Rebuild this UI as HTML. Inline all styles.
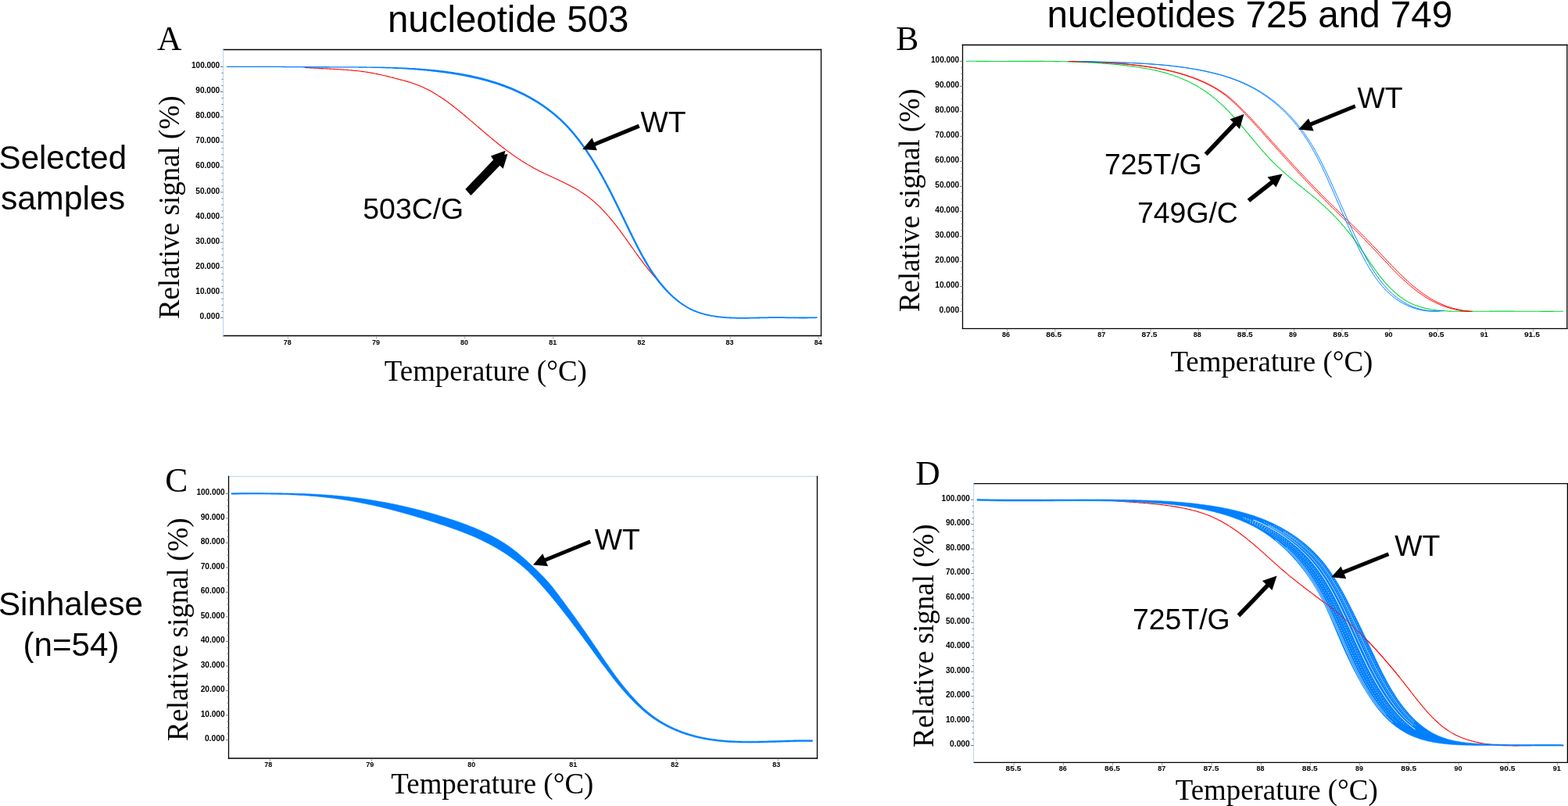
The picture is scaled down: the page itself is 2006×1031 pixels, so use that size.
<!DOCTYPE html>
<html><head><meta charset="utf-8"><title>Melting curves</title><style>html,body{margin:0;padding:0;background:#fff;overflow:hidden}svg{display:block}</style></head><body>
<svg width="2006" height="1031" viewBox="0 0 2006 1031">
<rect x="0" y="0" width="2006" height="1031" fill="#fff"/>
<line x1="285.5" y1="63.5" x2="1050.5" y2="63.5" stroke="#000" stroke-width="1.3" stroke-linecap="square"/>
<line x1="285.5" y1="429.5" x2="1050.5" y2="429.5" stroke="#000" stroke-width="1.3" stroke-linecap="square"/>
<line x1="285.5" y1="63.5" x2="285.5" y2="429.5" stroke="#bcd4ec" stroke-width="1.0" stroke-linecap="square"/>
<line x1="1050.5" y1="63.5" x2="1050.5" y2="429.5" stroke="#000" stroke-width="1.3" stroke-linecap="square"/>
<line x1="281.9" y1="406.4" x2="285.5" y2="406.4" stroke="#777" stroke-width="1"/>
<text x="281.2" y="408" font-family="'Liberation Sans', Arial, sans-serif" font-size="10.0" text-anchor="end" font-weight="bold" textLength="25.7" lengthAdjust="spacingAndGlyphs">0.000</text>
<line x1="283.5" y1="398.4" x2="285.5" y2="398.4" stroke="#777" stroke-width="1"/>
<line x1="283.5" y1="390.3" x2="285.5" y2="390.3" stroke="#777" stroke-width="1"/>
<line x1="283.5" y1="382.3" x2="285.5" y2="382.3" stroke="#777" stroke-width="1"/>
<line x1="281.9" y1="374.3" x2="285.5" y2="374.3" stroke="#777" stroke-width="1"/>
<text x="281.2" y="375.9" font-family="'Liberation Sans', Arial, sans-serif" font-size="10.0" text-anchor="end" font-weight="bold" textLength="30.9" lengthAdjust="spacingAndGlyphs">10.000</text>
<line x1="283.5" y1="366.3" x2="285.5" y2="366.3" stroke="#777" stroke-width="1"/>
<line x1="283.5" y1="358.2" x2="285.5" y2="358.2" stroke="#777" stroke-width="1"/>
<line x1="283.5" y1="350.2" x2="285.5" y2="350.2" stroke="#777" stroke-width="1"/>
<line x1="281.9" y1="342.2" x2="285.5" y2="342.2" stroke="#777" stroke-width="1"/>
<text x="281.2" y="343.8" font-family="'Liberation Sans', Arial, sans-serif" font-size="10.0" text-anchor="end" font-weight="bold" textLength="30.9" lengthAdjust="spacingAndGlyphs">20.000</text>
<line x1="283.5" y1="334.2" x2="285.5" y2="334.2" stroke="#777" stroke-width="1"/>
<line x1="283.5" y1="326.1" x2="285.5" y2="326.1" stroke="#777" stroke-width="1"/>
<line x1="283.5" y1="318.1" x2="285.5" y2="318.1" stroke="#777" stroke-width="1"/>
<line x1="281.9" y1="310.1" x2="285.5" y2="310.1" stroke="#777" stroke-width="1"/>
<text x="281.2" y="311.7" font-family="'Liberation Sans', Arial, sans-serif" font-size="10.0" text-anchor="end" font-weight="bold" textLength="30.9" lengthAdjust="spacingAndGlyphs">30.000</text>
<line x1="283.5" y1="302.1" x2="285.5" y2="302.1" stroke="#777" stroke-width="1"/>
<line x1="283.5" y1="294" x2="285.5" y2="294" stroke="#777" stroke-width="1"/>
<line x1="283.5" y1="286" x2="285.5" y2="286" stroke="#777" stroke-width="1"/>
<line x1="281.9" y1="278" x2="285.5" y2="278" stroke="#777" stroke-width="1"/>
<text x="281.2" y="279.6" font-family="'Liberation Sans', Arial, sans-serif" font-size="10.0" text-anchor="end" font-weight="bold" textLength="30.9" lengthAdjust="spacingAndGlyphs">40.000</text>
<line x1="283.5" y1="270" x2="285.5" y2="270" stroke="#777" stroke-width="1"/>
<line x1="283.5" y1="261.9" x2="285.5" y2="261.9" stroke="#777" stroke-width="1"/>
<line x1="283.5" y1="253.9" x2="285.5" y2="253.9" stroke="#777" stroke-width="1"/>
<line x1="281.9" y1="245.9" x2="285.5" y2="245.9" stroke="#777" stroke-width="1"/>
<text x="281.2" y="247.5" font-family="'Liberation Sans', Arial, sans-serif" font-size="10.0" text-anchor="end" font-weight="bold" textLength="30.9" lengthAdjust="spacingAndGlyphs">50.000</text>
<line x1="283.5" y1="237.9" x2="285.5" y2="237.9" stroke="#777" stroke-width="1"/>
<line x1="283.5" y1="229.8" x2="285.5" y2="229.8" stroke="#777" stroke-width="1"/>
<line x1="283.5" y1="221.8" x2="285.5" y2="221.8" stroke="#777" stroke-width="1"/>
<line x1="281.9" y1="213.8" x2="285.5" y2="213.8" stroke="#777" stroke-width="1"/>
<text x="281.2" y="215.4" font-family="'Liberation Sans', Arial, sans-serif" font-size="10.0" text-anchor="end" font-weight="bold" textLength="30.9" lengthAdjust="spacingAndGlyphs">60.000</text>
<line x1="283.5" y1="205.8" x2="285.5" y2="205.8" stroke="#777" stroke-width="1"/>
<line x1="283.5" y1="197.7" x2="285.5" y2="197.7" stroke="#777" stroke-width="1"/>
<line x1="283.5" y1="189.7" x2="285.5" y2="189.7" stroke="#777" stroke-width="1"/>
<line x1="281.9" y1="181.7" x2="285.5" y2="181.7" stroke="#777" stroke-width="1"/>
<text x="281.2" y="183.3" font-family="'Liberation Sans', Arial, sans-serif" font-size="10.0" text-anchor="end" font-weight="bold" textLength="30.9" lengthAdjust="spacingAndGlyphs">70.000</text>
<line x1="283.5" y1="173.7" x2="285.5" y2="173.7" stroke="#777" stroke-width="1"/>
<line x1="283.5" y1="165.6" x2="285.5" y2="165.6" stroke="#777" stroke-width="1"/>
<line x1="283.5" y1="157.6" x2="285.5" y2="157.6" stroke="#777" stroke-width="1"/>
<line x1="281.9" y1="149.6" x2="285.5" y2="149.6" stroke="#777" stroke-width="1"/>
<text x="281.2" y="151.2" font-family="'Liberation Sans', Arial, sans-serif" font-size="10.0" text-anchor="end" font-weight="bold" textLength="30.9" lengthAdjust="spacingAndGlyphs">80.000</text>
<line x1="283.5" y1="141.6" x2="285.5" y2="141.6" stroke="#777" stroke-width="1"/>
<line x1="283.5" y1="133.5" x2="285.5" y2="133.5" stroke="#777" stroke-width="1"/>
<line x1="283.5" y1="125.5" x2="285.5" y2="125.5" stroke="#777" stroke-width="1"/>
<line x1="281.9" y1="117.5" x2="285.5" y2="117.5" stroke="#777" stroke-width="1"/>
<text x="281.2" y="119.1" font-family="'Liberation Sans', Arial, sans-serif" font-size="10.0" text-anchor="end" font-weight="bold" textLength="30.9" lengthAdjust="spacingAndGlyphs">90.000</text>
<line x1="283.5" y1="109.5" x2="285.5" y2="109.5" stroke="#777" stroke-width="1"/>
<line x1="283.5" y1="101.4" x2="285.5" y2="101.4" stroke="#777" stroke-width="1"/>
<line x1="283.5" y1="93.4" x2="285.5" y2="93.4" stroke="#777" stroke-width="1"/>
<line x1="281.9" y1="85.4" x2="285.5" y2="85.4" stroke="#777" stroke-width="1"/>
<text x="281.2" y="87" font-family="'Liberation Sans', Arial, sans-serif" font-size="10.0" text-anchor="end" font-weight="bold" textLength="36.2" lengthAdjust="spacingAndGlyphs">100.000</text>
<line x1="368.3" y1="430.2" x2="368.3" y2="433.5" stroke="#8fa8c0" stroke-width="1"/>
<text x="367.7" y="441" font-family="'Liberation Sans', Arial, sans-serif" font-size="9.6" text-anchor="middle" font-weight="bold" textLength="10" lengthAdjust="spacingAndGlyphs">78</text>
<line x1="481.5" y1="430.2" x2="481.5" y2="433.5" stroke="#8fa8c0" stroke-width="1"/>
<text x="480.9" y="441" font-family="'Liberation Sans', Arial, sans-serif" font-size="9.6" text-anchor="middle" font-weight="bold" textLength="10" lengthAdjust="spacingAndGlyphs">79</text>
<line x1="594.7" y1="430.2" x2="594.7" y2="433.5" stroke="#8fa8c0" stroke-width="1"/>
<text x="594.1" y="441" font-family="'Liberation Sans', Arial, sans-serif" font-size="9.6" text-anchor="middle" font-weight="bold" textLength="10" lengthAdjust="spacingAndGlyphs">80</text>
<line x1="707.8" y1="430.2" x2="707.8" y2="433.5" stroke="#8fa8c0" stroke-width="1"/>
<text x="707.2" y="441" font-family="'Liberation Sans', Arial, sans-serif" font-size="9.6" text-anchor="middle" font-weight="bold" textLength="10" lengthAdjust="spacingAndGlyphs">81</text>
<line x1="821" y1="430.2" x2="821" y2="433.5" stroke="#8fa8c0" stroke-width="1"/>
<text x="820.4" y="441" font-family="'Liberation Sans', Arial, sans-serif" font-size="9.6" text-anchor="middle" font-weight="bold" textLength="10" lengthAdjust="spacingAndGlyphs">82</text>
<line x1="934.2" y1="430.2" x2="934.2" y2="433.5" stroke="#8fa8c0" stroke-width="1"/>
<text x="933.6" y="441" font-family="'Liberation Sans', Arial, sans-serif" font-size="9.6" text-anchor="middle" font-weight="bold" textLength="10" lengthAdjust="spacingAndGlyphs">83</text>
<line x1="1047.4" y1="430.2" x2="1047.4" y2="433.5" stroke="#8fa8c0" stroke-width="1"/>
<text x="1046.8" y="441" font-family="'Liberation Sans', Arial, sans-serif" font-size="9.6" text-anchor="middle" font-weight="bold" textLength="10" lengthAdjust="spacingAndGlyphs">84</text>
<line x1="1231.5" y1="57.5" x2="2004.8" y2="57.5" stroke="#000" stroke-width="1.3" stroke-linecap="square"/>
<line x1="1231.5" y1="420.3" x2="2004.8" y2="420.3" stroke="#000" stroke-width="1.3" stroke-linecap="square"/>
<line x1="1231.5" y1="57.5" x2="1231.5" y2="420.3" stroke="#000" stroke-width="1.3" stroke-linecap="square"/>
<line x1="2004.8" y1="57.5" x2="2004.8" y2="420.3" stroke="#000" stroke-width="1.3" stroke-linecap="square"/>
<line x1="1227.9" y1="398.4" x2="1231.5" y2="398.4" stroke="#777" stroke-width="1"/>
<text x="1227.2" y="400" font-family="'Liberation Sans', Arial, sans-serif" font-size="10.0" text-anchor="end" font-weight="bold" textLength="25.7" lengthAdjust="spacingAndGlyphs">0.000</text>
<line x1="1229.5" y1="390.4" x2="1231.5" y2="390.4" stroke="#777" stroke-width="1"/>
<line x1="1229.5" y1="382.4" x2="1231.5" y2="382.4" stroke="#777" stroke-width="1"/>
<line x1="1229.5" y1="374.4" x2="1231.5" y2="374.4" stroke="#777" stroke-width="1"/>
<line x1="1227.9" y1="366.4" x2="1231.5" y2="366.4" stroke="#777" stroke-width="1"/>
<text x="1227.2" y="368" font-family="'Liberation Sans', Arial, sans-serif" font-size="10.0" text-anchor="end" font-weight="bold" textLength="30.9" lengthAdjust="spacingAndGlyphs">10.000</text>
<line x1="1229.5" y1="358.4" x2="1231.5" y2="358.4" stroke="#777" stroke-width="1"/>
<line x1="1229.5" y1="350.4" x2="1231.5" y2="350.4" stroke="#777" stroke-width="1"/>
<line x1="1229.5" y1="342.4" x2="1231.5" y2="342.4" stroke="#777" stroke-width="1"/>
<line x1="1227.9" y1="334.4" x2="1231.5" y2="334.4" stroke="#777" stroke-width="1"/>
<text x="1227.2" y="336" font-family="'Liberation Sans', Arial, sans-serif" font-size="10.0" text-anchor="end" font-weight="bold" textLength="30.9" lengthAdjust="spacingAndGlyphs">20.000</text>
<line x1="1229.5" y1="326.4" x2="1231.5" y2="326.4" stroke="#777" stroke-width="1"/>
<line x1="1229.5" y1="318.4" x2="1231.5" y2="318.4" stroke="#777" stroke-width="1"/>
<line x1="1229.5" y1="310.4" x2="1231.5" y2="310.4" stroke="#777" stroke-width="1"/>
<line x1="1227.9" y1="302.4" x2="1231.5" y2="302.4" stroke="#777" stroke-width="1"/>
<text x="1227.2" y="304" font-family="'Liberation Sans', Arial, sans-serif" font-size="10.0" text-anchor="end" font-weight="bold" textLength="30.9" lengthAdjust="spacingAndGlyphs">30.000</text>
<line x1="1229.5" y1="294.4" x2="1231.5" y2="294.4" stroke="#777" stroke-width="1"/>
<line x1="1229.5" y1="286.4" x2="1231.5" y2="286.4" stroke="#777" stroke-width="1"/>
<line x1="1229.5" y1="278.4" x2="1231.5" y2="278.4" stroke="#777" stroke-width="1"/>
<line x1="1227.9" y1="270.4" x2="1231.5" y2="270.4" stroke="#777" stroke-width="1"/>
<text x="1227.2" y="272" font-family="'Liberation Sans', Arial, sans-serif" font-size="10.0" text-anchor="end" font-weight="bold" textLength="30.9" lengthAdjust="spacingAndGlyphs">40.000</text>
<line x1="1229.5" y1="262.4" x2="1231.5" y2="262.4" stroke="#777" stroke-width="1"/>
<line x1="1229.5" y1="254.4" x2="1231.5" y2="254.4" stroke="#777" stroke-width="1"/>
<line x1="1229.5" y1="246.4" x2="1231.5" y2="246.4" stroke="#777" stroke-width="1"/>
<line x1="1227.9" y1="238.4" x2="1231.5" y2="238.4" stroke="#777" stroke-width="1"/>
<text x="1227.2" y="240" font-family="'Liberation Sans', Arial, sans-serif" font-size="10.0" text-anchor="end" font-weight="bold" textLength="30.9" lengthAdjust="spacingAndGlyphs">50.000</text>
<line x1="1229.5" y1="230.4" x2="1231.5" y2="230.4" stroke="#777" stroke-width="1"/>
<line x1="1229.5" y1="222.4" x2="1231.5" y2="222.4" stroke="#777" stroke-width="1"/>
<line x1="1229.5" y1="214.4" x2="1231.5" y2="214.4" stroke="#777" stroke-width="1"/>
<line x1="1227.9" y1="206.4" x2="1231.5" y2="206.4" stroke="#777" stroke-width="1"/>
<text x="1227.2" y="208" font-family="'Liberation Sans', Arial, sans-serif" font-size="10.0" text-anchor="end" font-weight="bold" textLength="30.9" lengthAdjust="spacingAndGlyphs">60.000</text>
<line x1="1229.5" y1="198.4" x2="1231.5" y2="198.4" stroke="#777" stroke-width="1"/>
<line x1="1229.5" y1="190.4" x2="1231.5" y2="190.4" stroke="#777" stroke-width="1"/>
<line x1="1229.5" y1="182.4" x2="1231.5" y2="182.4" stroke="#777" stroke-width="1"/>
<line x1="1227.9" y1="174.4" x2="1231.5" y2="174.4" stroke="#777" stroke-width="1"/>
<text x="1227.2" y="176" font-family="'Liberation Sans', Arial, sans-serif" font-size="10.0" text-anchor="end" font-weight="bold" textLength="30.9" lengthAdjust="spacingAndGlyphs">70.000</text>
<line x1="1229.5" y1="166.4" x2="1231.5" y2="166.4" stroke="#777" stroke-width="1"/>
<line x1="1229.5" y1="158.4" x2="1231.5" y2="158.4" stroke="#777" stroke-width="1"/>
<line x1="1229.5" y1="150.4" x2="1231.5" y2="150.4" stroke="#777" stroke-width="1"/>
<line x1="1227.9" y1="142.4" x2="1231.5" y2="142.4" stroke="#777" stroke-width="1"/>
<text x="1227.2" y="144" font-family="'Liberation Sans', Arial, sans-serif" font-size="10.0" text-anchor="end" font-weight="bold" textLength="30.9" lengthAdjust="spacingAndGlyphs">80.000</text>
<line x1="1229.5" y1="134.4" x2="1231.5" y2="134.4" stroke="#777" stroke-width="1"/>
<line x1="1229.5" y1="126.4" x2="1231.5" y2="126.4" stroke="#777" stroke-width="1"/>
<line x1="1229.5" y1="118.4" x2="1231.5" y2="118.4" stroke="#777" stroke-width="1"/>
<line x1="1227.9" y1="110.4" x2="1231.5" y2="110.4" stroke="#777" stroke-width="1"/>
<text x="1227.2" y="112" font-family="'Liberation Sans', Arial, sans-serif" font-size="10.0" text-anchor="end" font-weight="bold" textLength="30.9" lengthAdjust="spacingAndGlyphs">90.000</text>
<line x1="1229.5" y1="102.4" x2="1231.5" y2="102.4" stroke="#777" stroke-width="1"/>
<line x1="1229.5" y1="94.4" x2="1231.5" y2="94.4" stroke="#777" stroke-width="1"/>
<line x1="1229.5" y1="86.4" x2="1231.5" y2="86.4" stroke="#777" stroke-width="1"/>
<line x1="1227.9" y1="78.4" x2="1231.5" y2="78.4" stroke="#777" stroke-width="1"/>
<text x="1227.2" y="80" font-family="'Liberation Sans', Arial, sans-serif" font-size="10.0" text-anchor="end" font-weight="bold" textLength="36.2" lengthAdjust="spacingAndGlyphs">100.000</text>
<line x1="1288.6" y1="421" x2="1288.6" y2="424.3" stroke="#8fa8c0" stroke-width="1"/>
<text x="1287" y="430.9" font-family="'Liberation Sans', Arial, sans-serif" font-size="9.6" text-anchor="middle" font-weight="bold" textLength="10" lengthAdjust="spacingAndGlyphs">86</text>
<line x1="1349.8" y1="421" x2="1349.8" y2="424.3" stroke="#8fa8c0" stroke-width="1"/>
<text x="1348.2" y="430.9" font-family="'Liberation Sans', Arial, sans-serif" font-size="9.6" text-anchor="middle" font-weight="bold" textLength="20" lengthAdjust="spacingAndGlyphs">86.5</text>
<line x1="1410.9" y1="421" x2="1410.9" y2="424.3" stroke="#8fa8c0" stroke-width="1"/>
<text x="1409.3" y="430.9" font-family="'Liberation Sans', Arial, sans-serif" font-size="9.6" text-anchor="middle" font-weight="bold" textLength="10" lengthAdjust="spacingAndGlyphs">87</text>
<line x1="1472.1" y1="421" x2="1472.1" y2="424.3" stroke="#8fa8c0" stroke-width="1"/>
<text x="1470.5" y="430.9" font-family="'Liberation Sans', Arial, sans-serif" font-size="9.6" text-anchor="middle" font-weight="bold" textLength="20" lengthAdjust="spacingAndGlyphs">87.5</text>
<line x1="1533.3" y1="421" x2="1533.3" y2="424.3" stroke="#8fa8c0" stroke-width="1"/>
<text x="1531.7" y="430.9" font-family="'Liberation Sans', Arial, sans-serif" font-size="9.6" text-anchor="middle" font-weight="bold" textLength="10" lengthAdjust="spacingAndGlyphs">88</text>
<line x1="1594.4" y1="421" x2="1594.4" y2="424.3" stroke="#8fa8c0" stroke-width="1"/>
<text x="1592.8" y="430.9" font-family="'Liberation Sans', Arial, sans-serif" font-size="9.6" text-anchor="middle" font-weight="bold" textLength="20" lengthAdjust="spacingAndGlyphs">88.5</text>
<line x1="1655.6" y1="421" x2="1655.6" y2="424.3" stroke="#8fa8c0" stroke-width="1"/>
<text x="1654" y="430.9" font-family="'Liberation Sans', Arial, sans-serif" font-size="9.6" text-anchor="middle" font-weight="bold" textLength="10" lengthAdjust="spacingAndGlyphs">89</text>
<line x1="1716.8" y1="421" x2="1716.8" y2="424.3" stroke="#8fa8c0" stroke-width="1"/>
<text x="1715.2" y="430.9" font-family="'Liberation Sans', Arial, sans-serif" font-size="9.6" text-anchor="middle" font-weight="bold" textLength="20" lengthAdjust="spacingAndGlyphs">89.5</text>
<line x1="1778" y1="421" x2="1778" y2="424.3" stroke="#8fa8c0" stroke-width="1"/>
<text x="1776.4" y="430.9" font-family="'Liberation Sans', Arial, sans-serif" font-size="9.6" text-anchor="middle" font-weight="bold" textLength="10" lengthAdjust="spacingAndGlyphs">90</text>
<line x1="1839.1" y1="421" x2="1839.1" y2="424.3" stroke="#8fa8c0" stroke-width="1"/>
<text x="1837.5" y="430.9" font-family="'Liberation Sans', Arial, sans-serif" font-size="9.6" text-anchor="middle" font-weight="bold" textLength="20" lengthAdjust="spacingAndGlyphs">90.5</text>
<line x1="1900.3" y1="421" x2="1900.3" y2="424.3" stroke="#8fa8c0" stroke-width="1"/>
<text x="1898.7" y="430.9" font-family="'Liberation Sans', Arial, sans-serif" font-size="9.6" text-anchor="middle" font-weight="bold" textLength="10" lengthAdjust="spacingAndGlyphs">91</text>
<line x1="1961.5" y1="421" x2="1961.5" y2="424.3" stroke="#8fa8c0" stroke-width="1"/>
<text x="1959.9" y="430.9" font-family="'Liberation Sans', Arial, sans-serif" font-size="9.6" text-anchor="middle" font-weight="bold" textLength="20" lengthAdjust="spacingAndGlyphs">91.5</text>
<line x1="292.5" y1="609.4" x2="1045.5" y2="609.4" stroke="#bcd4ec" stroke-width="1.0" stroke-linecap="square"/>
<line x1="292.5" y1="970.0" x2="1045.5" y2="970.0" stroke="#000" stroke-width="1.3" stroke-linecap="square"/>
<line x1="292.5" y1="609.4" x2="292.5" y2="970.0" stroke="#000" stroke-width="1.3" stroke-linecap="square"/>
<line x1="1045.5" y1="609.4" x2="1045.5" y2="970.0" stroke="#000" stroke-width="1.3" stroke-linecap="square"/>
<line x1="288.9" y1="946.5" x2="292.5" y2="946.5" stroke="#777" stroke-width="1"/>
<text x="287.6" y="948.1" font-family="'Liberation Sans', Arial, sans-serif" font-size="10.0" text-anchor="end" font-weight="bold" textLength="25.7" lengthAdjust="spacingAndGlyphs">0.000</text>
<line x1="290.5" y1="938.6" x2="292.5" y2="938.6" stroke="#777" stroke-width="1"/>
<line x1="290.5" y1="930.8" x2="292.5" y2="930.8" stroke="#777" stroke-width="1"/>
<line x1="290.5" y1="922.9" x2="292.5" y2="922.9" stroke="#777" stroke-width="1"/>
<line x1="288.9" y1="915" x2="292.5" y2="915" stroke="#777" stroke-width="1"/>
<text x="287.6" y="916.6" font-family="'Liberation Sans', Arial, sans-serif" font-size="10.0" text-anchor="end" font-weight="bold" textLength="30.9" lengthAdjust="spacingAndGlyphs">10.000</text>
<line x1="290.5" y1="907.1" x2="292.5" y2="907.1" stroke="#777" stroke-width="1"/>
<line x1="290.5" y1="899.2" x2="292.5" y2="899.2" stroke="#777" stroke-width="1"/>
<line x1="290.5" y1="891.4" x2="292.5" y2="891.4" stroke="#777" stroke-width="1"/>
<line x1="288.9" y1="883.5" x2="292.5" y2="883.5" stroke="#777" stroke-width="1"/>
<text x="287.6" y="885.1" font-family="'Liberation Sans', Arial, sans-serif" font-size="10.0" text-anchor="end" font-weight="bold" textLength="30.9" lengthAdjust="spacingAndGlyphs">20.000</text>
<line x1="290.5" y1="875.6" x2="292.5" y2="875.6" stroke="#777" stroke-width="1"/>
<line x1="290.5" y1="867.8" x2="292.5" y2="867.8" stroke="#777" stroke-width="1"/>
<line x1="290.5" y1="859.9" x2="292.5" y2="859.9" stroke="#777" stroke-width="1"/>
<line x1="288.9" y1="852" x2="292.5" y2="852" stroke="#777" stroke-width="1"/>
<text x="287.6" y="853.6" font-family="'Liberation Sans', Arial, sans-serif" font-size="10.0" text-anchor="end" font-weight="bold" textLength="30.9" lengthAdjust="spacingAndGlyphs">30.000</text>
<line x1="290.5" y1="844.1" x2="292.5" y2="844.1" stroke="#777" stroke-width="1"/>
<line x1="290.5" y1="836.2" x2="292.5" y2="836.2" stroke="#777" stroke-width="1"/>
<line x1="290.5" y1="828.4" x2="292.5" y2="828.4" stroke="#777" stroke-width="1"/>
<line x1="288.9" y1="820.5" x2="292.5" y2="820.5" stroke="#777" stroke-width="1"/>
<text x="287.6" y="822.1" font-family="'Liberation Sans', Arial, sans-serif" font-size="10.0" text-anchor="end" font-weight="bold" textLength="30.9" lengthAdjust="spacingAndGlyphs">40.000</text>
<line x1="290.5" y1="812.6" x2="292.5" y2="812.6" stroke="#777" stroke-width="1"/>
<line x1="290.5" y1="804.8" x2="292.5" y2="804.8" stroke="#777" stroke-width="1"/>
<line x1="290.5" y1="796.9" x2="292.5" y2="796.9" stroke="#777" stroke-width="1"/>
<line x1="288.9" y1="789" x2="292.5" y2="789" stroke="#777" stroke-width="1"/>
<text x="287.6" y="790.6" font-family="'Liberation Sans', Arial, sans-serif" font-size="10.0" text-anchor="end" font-weight="bold" textLength="30.9" lengthAdjust="spacingAndGlyphs">50.000</text>
<line x1="290.5" y1="781.1" x2="292.5" y2="781.1" stroke="#777" stroke-width="1"/>
<line x1="290.5" y1="773.2" x2="292.5" y2="773.2" stroke="#777" stroke-width="1"/>
<line x1="290.5" y1="765.4" x2="292.5" y2="765.4" stroke="#777" stroke-width="1"/>
<line x1="288.9" y1="757.5" x2="292.5" y2="757.5" stroke="#777" stroke-width="1"/>
<text x="287.6" y="759.1" font-family="'Liberation Sans', Arial, sans-serif" font-size="10.0" text-anchor="end" font-weight="bold" textLength="30.9" lengthAdjust="spacingAndGlyphs">60.000</text>
<line x1="290.5" y1="749.6" x2="292.5" y2="749.6" stroke="#777" stroke-width="1"/>
<line x1="290.5" y1="741.8" x2="292.5" y2="741.8" stroke="#777" stroke-width="1"/>
<line x1="290.5" y1="733.9" x2="292.5" y2="733.9" stroke="#777" stroke-width="1"/>
<line x1="288.9" y1="726" x2="292.5" y2="726" stroke="#777" stroke-width="1"/>
<text x="287.6" y="727.6" font-family="'Liberation Sans', Arial, sans-serif" font-size="10.0" text-anchor="end" font-weight="bold" textLength="30.9" lengthAdjust="spacingAndGlyphs">70.000</text>
<line x1="290.5" y1="718.1" x2="292.5" y2="718.1" stroke="#777" stroke-width="1"/>
<line x1="290.5" y1="710.2" x2="292.5" y2="710.2" stroke="#777" stroke-width="1"/>
<line x1="290.5" y1="702.4" x2="292.5" y2="702.4" stroke="#777" stroke-width="1"/>
<line x1="288.9" y1="694.5" x2="292.5" y2="694.5" stroke="#777" stroke-width="1"/>
<text x="287.6" y="696.1" font-family="'Liberation Sans', Arial, sans-serif" font-size="10.0" text-anchor="end" font-weight="bold" textLength="30.9" lengthAdjust="spacingAndGlyphs">80.000</text>
<line x1="290.5" y1="686.6" x2="292.5" y2="686.6" stroke="#777" stroke-width="1"/>
<line x1="290.5" y1="678.8" x2="292.5" y2="678.8" stroke="#777" stroke-width="1"/>
<line x1="290.5" y1="670.9" x2="292.5" y2="670.9" stroke="#777" stroke-width="1"/>
<line x1="288.9" y1="663" x2="292.5" y2="663" stroke="#777" stroke-width="1"/>
<text x="287.6" y="664.6" font-family="'Liberation Sans', Arial, sans-serif" font-size="10.0" text-anchor="end" font-weight="bold" textLength="30.9" lengthAdjust="spacingAndGlyphs">90.000</text>
<line x1="290.5" y1="655.1" x2="292.5" y2="655.1" stroke="#777" stroke-width="1"/>
<line x1="290.5" y1="647.2" x2="292.5" y2="647.2" stroke="#777" stroke-width="1"/>
<line x1="290.5" y1="639.4" x2="292.5" y2="639.4" stroke="#777" stroke-width="1"/>
<line x1="288.9" y1="631.5" x2="292.5" y2="631.5" stroke="#777" stroke-width="1"/>
<text x="287.6" y="633.1" font-family="'Liberation Sans', Arial, sans-serif" font-size="10.0" text-anchor="end" font-weight="bold" textLength="36.2" lengthAdjust="spacingAndGlyphs">100.000</text>
<line x1="345.3" y1="970.7" x2="345.3" y2="974" stroke="#8fa8c0" stroke-width="1"/>
<text x="343.2" y="981.2" font-family="'Liberation Sans', Arial, sans-serif" font-size="9.6" text-anchor="middle" font-weight="bold" textLength="10" lengthAdjust="spacingAndGlyphs">78</text>
<line x1="475.3" y1="970.7" x2="475.3" y2="974" stroke="#8fa8c0" stroke-width="1"/>
<text x="473.2" y="981.2" font-family="'Liberation Sans', Arial, sans-serif" font-size="9.6" text-anchor="middle" font-weight="bold" textLength="10" lengthAdjust="spacingAndGlyphs">79</text>
<line x1="605.3" y1="970.7" x2="605.3" y2="974" stroke="#8fa8c0" stroke-width="1"/>
<text x="603.2" y="981.2" font-family="'Liberation Sans', Arial, sans-serif" font-size="9.6" text-anchor="middle" font-weight="bold" textLength="10" lengthAdjust="spacingAndGlyphs">80</text>
<line x1="735.3" y1="970.7" x2="735.3" y2="974" stroke="#8fa8c0" stroke-width="1"/>
<text x="733.2" y="981.2" font-family="'Liberation Sans', Arial, sans-serif" font-size="9.6" text-anchor="middle" font-weight="bold" textLength="10" lengthAdjust="spacingAndGlyphs">81</text>
<line x1="865.3" y1="970.7" x2="865.3" y2="974" stroke="#8fa8c0" stroke-width="1"/>
<text x="863.2" y="981.2" font-family="'Liberation Sans', Arial, sans-serif" font-size="9.6" text-anchor="middle" font-weight="bold" textLength="10" lengthAdjust="spacingAndGlyphs">82</text>
<line x1="995.3" y1="970.7" x2="995.3" y2="974" stroke="#8fa8c0" stroke-width="1"/>
<text x="993.2" y="981.2" font-family="'Liberation Sans', Arial, sans-serif" font-size="9.6" text-anchor="middle" font-weight="bold" textLength="10" lengthAdjust="spacingAndGlyphs">83</text>
<line x1="1245.6" y1="618.6" x2="2005.4" y2="618.6" stroke="#000" stroke-width="1.3" stroke-linecap="square"/>
<line x1="1245.6" y1="975.3" x2="2005.4" y2="975.3" stroke="#000" stroke-width="1.3" stroke-linecap="square"/>
<line x1="1245.6" y1="618.6" x2="1245.6" y2="975.3" stroke="#bcd4ec" stroke-width="1.0" stroke-linecap="square"/>
<line x1="2005.4" y1="618.6" x2="2005.4" y2="975.3" stroke="#000" stroke-width="1.3" stroke-linecap="square"/>
<line x1="1242" y1="953.5" x2="1245.6" y2="953.5" stroke="#777" stroke-width="1"/>
<text x="1240.8" y="955.1" font-family="'Liberation Sans', Arial, sans-serif" font-size="10.0" text-anchor="end" font-weight="bold" textLength="25.7" lengthAdjust="spacingAndGlyphs">0.000</text>
<line x1="1243.6" y1="945.6" x2="1245.6" y2="945.6" stroke="#777" stroke-width="1"/>
<line x1="1243.6" y1="937.8" x2="1245.6" y2="937.8" stroke="#777" stroke-width="1"/>
<line x1="1243.6" y1="929.9" x2="1245.6" y2="929.9" stroke="#777" stroke-width="1"/>
<line x1="1242" y1="922.1" x2="1245.6" y2="922.1" stroke="#777" stroke-width="1"/>
<text x="1240.8" y="923.7" font-family="'Liberation Sans', Arial, sans-serif" font-size="10.0" text-anchor="end" font-weight="bold" textLength="30.9" lengthAdjust="spacingAndGlyphs">10.000</text>
<line x1="1243.6" y1="914.2" x2="1245.6" y2="914.2" stroke="#777" stroke-width="1"/>
<line x1="1243.6" y1="906.4" x2="1245.6" y2="906.4" stroke="#777" stroke-width="1"/>
<line x1="1243.6" y1="898.5" x2="1245.6" y2="898.5" stroke="#777" stroke-width="1"/>
<line x1="1242" y1="890.6" x2="1245.6" y2="890.6" stroke="#777" stroke-width="1"/>
<text x="1240.8" y="892.2" font-family="'Liberation Sans', Arial, sans-serif" font-size="10.0" text-anchor="end" font-weight="bold" textLength="30.9" lengthAdjust="spacingAndGlyphs">20.000</text>
<line x1="1243.6" y1="882.8" x2="1245.6" y2="882.8" stroke="#777" stroke-width="1"/>
<line x1="1243.6" y1="874.9" x2="1245.6" y2="874.9" stroke="#777" stroke-width="1"/>
<line x1="1243.6" y1="867.1" x2="1245.6" y2="867.1" stroke="#777" stroke-width="1"/>
<line x1="1242" y1="859.2" x2="1245.6" y2="859.2" stroke="#777" stroke-width="1"/>
<text x="1240.8" y="860.8" font-family="'Liberation Sans', Arial, sans-serif" font-size="10.0" text-anchor="end" font-weight="bold" textLength="30.9" lengthAdjust="spacingAndGlyphs">30.000</text>
<line x1="1243.6" y1="851.4" x2="1245.6" y2="851.4" stroke="#777" stroke-width="1"/>
<line x1="1243.6" y1="843.5" x2="1245.6" y2="843.5" stroke="#777" stroke-width="1"/>
<line x1="1243.6" y1="835.6" x2="1245.6" y2="835.6" stroke="#777" stroke-width="1"/>
<line x1="1242" y1="827.8" x2="1245.6" y2="827.8" stroke="#777" stroke-width="1"/>
<text x="1240.8" y="829.4" font-family="'Liberation Sans', Arial, sans-serif" font-size="10.0" text-anchor="end" font-weight="bold" textLength="30.9" lengthAdjust="spacingAndGlyphs">40.000</text>
<line x1="1243.6" y1="819.9" x2="1245.6" y2="819.9" stroke="#777" stroke-width="1"/>
<line x1="1243.6" y1="812.1" x2="1245.6" y2="812.1" stroke="#777" stroke-width="1"/>
<line x1="1243.6" y1="804.2" x2="1245.6" y2="804.2" stroke="#777" stroke-width="1"/>
<line x1="1242" y1="796.4" x2="1245.6" y2="796.4" stroke="#777" stroke-width="1"/>
<text x="1240.8" y="798" font-family="'Liberation Sans', Arial, sans-serif" font-size="10.0" text-anchor="end" font-weight="bold" textLength="30.9" lengthAdjust="spacingAndGlyphs">50.000</text>
<line x1="1243.6" y1="788.5" x2="1245.6" y2="788.5" stroke="#777" stroke-width="1"/>
<line x1="1243.6" y1="780.6" x2="1245.6" y2="780.6" stroke="#777" stroke-width="1"/>
<line x1="1243.6" y1="772.8" x2="1245.6" y2="772.8" stroke="#777" stroke-width="1"/>
<line x1="1242" y1="764.9" x2="1245.6" y2="764.9" stroke="#777" stroke-width="1"/>
<text x="1240.8" y="766.5" font-family="'Liberation Sans', Arial, sans-serif" font-size="10.0" text-anchor="end" font-weight="bold" textLength="30.9" lengthAdjust="spacingAndGlyphs">60.000</text>
<line x1="1243.6" y1="757.1" x2="1245.6" y2="757.1" stroke="#777" stroke-width="1"/>
<line x1="1243.6" y1="749.2" x2="1245.6" y2="749.2" stroke="#777" stroke-width="1"/>
<line x1="1243.6" y1="741.3" x2="1245.6" y2="741.3" stroke="#777" stroke-width="1"/>
<line x1="1242" y1="733.5" x2="1245.6" y2="733.5" stroke="#777" stroke-width="1"/>
<text x="1240.8" y="735.1" font-family="'Liberation Sans', Arial, sans-serif" font-size="10.0" text-anchor="end" font-weight="bold" textLength="30.9" lengthAdjust="spacingAndGlyphs">70.000</text>
<line x1="1243.6" y1="725.6" x2="1245.6" y2="725.6" stroke="#777" stroke-width="1"/>
<line x1="1243.6" y1="717.8" x2="1245.6" y2="717.8" stroke="#777" stroke-width="1"/>
<line x1="1243.6" y1="709.9" x2="1245.6" y2="709.9" stroke="#777" stroke-width="1"/>
<line x1="1242" y1="702.1" x2="1245.6" y2="702.1" stroke="#777" stroke-width="1"/>
<text x="1240.8" y="703.7" font-family="'Liberation Sans', Arial, sans-serif" font-size="10.0" text-anchor="end" font-weight="bold" textLength="30.9" lengthAdjust="spacingAndGlyphs">80.000</text>
<line x1="1243.6" y1="694.2" x2="1245.6" y2="694.2" stroke="#777" stroke-width="1"/>
<line x1="1243.6" y1="686.3" x2="1245.6" y2="686.3" stroke="#777" stroke-width="1"/>
<line x1="1243.6" y1="678.5" x2="1245.6" y2="678.5" stroke="#777" stroke-width="1"/>
<line x1="1242" y1="670.6" x2="1245.6" y2="670.6" stroke="#777" stroke-width="1"/>
<text x="1240.8" y="672.2" font-family="'Liberation Sans', Arial, sans-serif" font-size="10.0" text-anchor="end" font-weight="bold" textLength="30.9" lengthAdjust="spacingAndGlyphs">90.000</text>
<line x1="1243.6" y1="662.8" x2="1245.6" y2="662.8" stroke="#777" stroke-width="1"/>
<line x1="1243.6" y1="654.9" x2="1245.6" y2="654.9" stroke="#777" stroke-width="1"/>
<line x1="1243.6" y1="647.1" x2="1245.6" y2="647.1" stroke="#777" stroke-width="1"/>
<line x1="1242" y1="639.2" x2="1245.6" y2="639.2" stroke="#777" stroke-width="1"/>
<text x="1240.8" y="640.8" font-family="'Liberation Sans', Arial, sans-serif" font-size="10.0" text-anchor="end" font-weight="bold" textLength="36.2" lengthAdjust="spacingAndGlyphs">100.000</text>
<line x1="1297.2" y1="976" x2="1297.2" y2="979.3" stroke="#8fa8c0" stroke-width="1"/>
<text x="1296.6" y="986.4" font-family="'Liberation Sans', Arial, sans-serif" font-size="9.6" text-anchor="middle" font-weight="bold" textLength="20" lengthAdjust="spacingAndGlyphs">85.5</text>
<line x1="1360.4" y1="976" x2="1360.4" y2="979.3" stroke="#8fa8c0" stroke-width="1"/>
<text x="1359.8" y="986.4" font-family="'Liberation Sans', Arial, sans-serif" font-size="9.6" text-anchor="middle" font-weight="bold" textLength="10" lengthAdjust="spacingAndGlyphs">86</text>
<line x1="1423.6" y1="976" x2="1423.6" y2="979.3" stroke="#8fa8c0" stroke-width="1"/>
<text x="1423" y="986.4" font-family="'Liberation Sans', Arial, sans-serif" font-size="9.6" text-anchor="middle" font-weight="bold" textLength="20" lengthAdjust="spacingAndGlyphs">86.5</text>
<line x1="1486.8" y1="976" x2="1486.8" y2="979.3" stroke="#8fa8c0" stroke-width="1"/>
<text x="1486.2" y="986.4" font-family="'Liberation Sans', Arial, sans-serif" font-size="9.6" text-anchor="middle" font-weight="bold" textLength="10" lengthAdjust="spacingAndGlyphs">87</text>
<line x1="1550" y1="976" x2="1550" y2="979.3" stroke="#8fa8c0" stroke-width="1"/>
<text x="1549.4" y="986.4" font-family="'Liberation Sans', Arial, sans-serif" font-size="9.6" text-anchor="middle" font-weight="bold" textLength="20" lengthAdjust="spacingAndGlyphs">87.5</text>
<line x1="1613.2" y1="976" x2="1613.2" y2="979.3" stroke="#8fa8c0" stroke-width="1"/>
<text x="1612.6" y="986.4" font-family="'Liberation Sans', Arial, sans-serif" font-size="9.6" text-anchor="middle" font-weight="bold" textLength="10" lengthAdjust="spacingAndGlyphs">88</text>
<line x1="1676.4" y1="976" x2="1676.4" y2="979.3" stroke="#8fa8c0" stroke-width="1"/>
<text x="1675.8" y="986.4" font-family="'Liberation Sans', Arial, sans-serif" font-size="9.6" text-anchor="middle" font-weight="bold" textLength="20" lengthAdjust="spacingAndGlyphs">88.5</text>
<line x1="1739.6" y1="976" x2="1739.6" y2="979.3" stroke="#8fa8c0" stroke-width="1"/>
<text x="1739" y="986.4" font-family="'Liberation Sans', Arial, sans-serif" font-size="9.6" text-anchor="middle" font-weight="bold" textLength="10" lengthAdjust="spacingAndGlyphs">89</text>
<line x1="1802.8" y1="976" x2="1802.8" y2="979.3" stroke="#8fa8c0" stroke-width="1"/>
<text x="1802.2" y="986.4" font-family="'Liberation Sans', Arial, sans-serif" font-size="9.6" text-anchor="middle" font-weight="bold" textLength="20" lengthAdjust="spacingAndGlyphs">89.5</text>
<line x1="1866" y1="976" x2="1866" y2="979.3" stroke="#8fa8c0" stroke-width="1"/>
<text x="1865.4" y="986.4" font-family="'Liberation Sans', Arial, sans-serif" font-size="9.6" text-anchor="middle" font-weight="bold" textLength="10" lengthAdjust="spacingAndGlyphs">90</text>
<line x1="1929.2" y1="976" x2="1929.2" y2="979.3" stroke="#8fa8c0" stroke-width="1"/>
<text x="1928.6" y="986.4" font-family="'Liberation Sans', Arial, sans-serif" font-size="9.6" text-anchor="middle" font-weight="bold" textLength="20" lengthAdjust="spacingAndGlyphs">90.5</text>
<line x1="1992.4" y1="976" x2="1992.4" y2="979.3" stroke="#8fa8c0" stroke-width="1"/>
<text x="1991.8" y="986.4" font-family="'Liberation Sans', Arial, sans-serif" font-size="9.6" text-anchor="middle" font-weight="bold" textLength="10" lengthAdjust="spacingAndGlyphs">91</text>
<path d="M390,86.4 L391.5,86.5 L393,86.6 L394.5,86.7 L396,86.8 L397.5,86.9 L399,87 L400.4,87 L401.9,87.1 L403.4,87.2 L404.9,87.3 L406.4,87.3 L407.9,87.4 L409.4,87.5 L410.9,87.6 L412.4,87.6 L413.9,87.7 L415.4,87.8 L416.9,87.8 L418.4,87.9 L419.9,88 L421.4,88.1 L422.9,88.1 L424.4,88.2 L425.9,88.3 L427.4,88.4 L428.9,88.5 L430.4,88.5 L431.9,88.6 L433.4,88.7 L434.9,88.8 L436.4,88.9 L437.9,89 L439.3,89.1 L440.8,89.2 L442.3,89.3 L443.8,89.4 L445.3,89.5 L446.8,89.7 L448.3,89.8 L449.8,89.9 L451.3,90.1 L452.8,90.2 L454.2,90.4 L455.7,90.5 L457.2,90.7 L458.7,90.8 L460.2,91 L461.7,91.2 L463.1,91.4 L464.6,91.6 L466.1,91.8 L467.6,92 L469,92.2 L470.5,92.4 L472,92.7 L473.5,92.9 L474.9,93.2 L476.4,93.4 L477.9,93.7 L479.3,94 L480.8,94.3 L482.2,94.6 L483.7,94.9 L485.2,95.2 L486.6,95.5 L488.1,95.8 L489.5,96.2 L491,96.5 L492.4,96.8 L493.9,97.2 L495.3,97.6 L496.8,97.9 L498.2,98.3 L499.7,98.7 L501.1,99 L502.6,99.4 L504,99.8 L505.5,100.2 L507,100.5 L508.4,100.9 L509.9,101.3 L511.3,101.7 L512.8,102.1 L514.2,102.5 L515.7,102.8 L517.2,103.2 L518.6,103.6 L520.1,104 L521.5,104.4 L523,104.9 L524.4,105.3 L525.9,105.7 L527.3,106.2 L528.7,106.7 L530.1,107.2 L531.5,107.7 L532.9,108.2 L534.3,108.7 L535.7,109.3 L537.1,109.8 L538.5,110.4 L539.8,111 L541.2,111.6 L542.5,112.2 L543.9,112.9 L545.2,113.5 L546.5,114.2 L547.9,114.9 L549.2,115.6 L550.5,116.3 L551.8,117 L553.1,117.7 L554.4,118.5 L555.7,119.2 L556.9,120 L558.2,120.8 L559.5,121.6 L560.7,122.4 L562,123.2 L563.3,124 L564.5,124.8 L565.7,125.6 L567,126.5 L568.2,127.3 L569.4,128.2 L570.6,129 L571.9,129.9 L573.1,130.8 L574.3,131.7 L575.5,132.6 L576.7,133.5 L577.9,134.4 L579.1,135.3 L580.3,136.2 L581.4,137.1 L582.6,138.1 L583.8,139 L585,139.9 L586.1,140.9 L587.3,141.8 L588.5,142.8 L589.6,143.7 L590.8,144.7 L591.9,145.6 L593.1,146.6 L594.2,147.5 L595.4,148.5 L596.5,149.5 L597.7,150.4 L598.8,151.4 L599.9,152.3 L601.1,153.3 L602.2,154.3 L603.4,155.3 L604.5,156.2 L605.6,157.2 L606.7,158.2 L607.9,159.1 L609,160.1 L610.1,161.1 L611.3,162.1 L612.4,163 L613.5,164 L614.7,165 L615.8,166 L616.9,166.9 L618.1,167.9 L619.2,168.9 L620.3,169.8 L621.5,170.8 L622.6,171.8 L623.8,172.7 L624.9,173.7 L626,174.7 L627.2,175.6 L628.3,176.6 L629.5,177.5 L630.6,178.5 L631.8,179.5 L633,180.4 L634.1,181.4 L635.3,182.3 L636.4,183.2 L637.6,184.2 L638.8,185.1 L640,186 L641.2,187 L642.3,187.9 L643.5,188.8 L644.7,189.7 L645.9,190.6 L647.1,191.6 L648.3,192.5 L649.5,193.4 L650.8,194.3 L652,195.1 L653.2,196 L654.4,196.9 L655.6,197.8 L656.9,198.6 L658.1,199.5 L659.3,200.4 L660.6,201.2 L661.8,202.1 L663.1,202.9 L664.3,203.7 L665.6,204.5 L666.8,205.4 L668.1,206.2 L669.3,207 L670.6,207.8 L671.8,208.5 L673.1,209.3 L674.4,210.1 L675.6,210.9 L676.9,211.6 L678.2,212.3 L679.5,213.1 L680.8,213.8 L682,214.5 L683.3,215.2 L684.6,215.9 L685.9,216.6 L687.3,217.3 L688.6,218 L689.9,218.7 L691.2,219.3 L692.5,220 L693.9,220.6 L695.2,221.2 L696.6,221.9 L697.9,222.5 L699.3,223.1 L700.6,223.8 L702,224.4 L703.3,225 L704.7,225.6 L706.1,226.3 L707.4,226.9 L708.8,227.5 L710.2,228.2 L711.5,228.8 L712.9,229.4 L714.3,230.1 L715.7,230.7 L717,231.4 L718.4,232 L719.8,232.7 L721.1,233.3 L722.5,234 L723.8,234.7 L725.2,235.4 L726.5,236.1 L727.9,236.7 L729.2,237.4 L730.6,238.2 L731.9,238.9 L733.2,239.6 L734.5,240.3 L735.9,241.1 L737.2,241.8 L738.5,242.6 L739.8,243.3 L741,244.1 L742.3,244.9 L743.6,245.7 L744.8,246.5 L746.1,247.3 L747.3,248.2 L748.5,249 L749.8,249.9 L751,250.7 L752.2,251.6 L753.3,252.5 L754.5,253.4 L755.7,254.3 L756.8,255.3 L758,256.2 L759.1,257.2 L760.2,258.1 L761.3,259.1 L762.4,260.1 L763.5,261.1 L764.6,262.1 L765.7,263.1 L766.7,264.1 L767.8,265.2 L768.8,266.2 L769.9,267.3 L770.9,268.3 L771.9,269.4 L772.9,270.5 L774,271.6 L775,272.7 L775.9,273.8 L776.9,274.9 L777.9,276 L778.9,277.1 L779.9,278.3 L780.8,279.4 L781.8,280.6 L782.7,281.7 L783.7,282.9 L784.6,284 L785.6,285.2 L786.5,286.4 L787.4,287.6 L788.3,288.7 L789.3,289.9 L790.2,291.1 L791.1,292.3 L792,293.5 L792.9,294.7 L793.8,295.9 L794.7,297.2 L795.6,298.4 L796.5,299.6 L797.4,300.8 L798.3,302 L799.1,303.3 L800,304.5 L800.9,305.7 L801.8,306.9 L802.7,308.2 L803.5,309.4 L804.4,310.6 L805.3,311.9 L806.2,313.1 L807.1,314.3 L807.9,315.6 L808.8,316.8 L809.7,318 L810.6,319.3 L811.4,320.5 L812.3,321.7 L813.2,323 L814.1,324.2 L814.9,325.4 L815.8,326.6 L816.7,327.8 L817.6,329.1 L818.5,330.3 L819.4,331.5 L820.3,332.7 L821.2,333.9 L822.1,335.1 L823,336.3 L823.9,337.5 L824.8,338.7 L825.7,339.8 L826.6,341 L827.5,342.2 L828.5,343.3 L829.4,344.5 L830.3,345.7 L831.3,346.8 L832.2,348 L833.2,349.1 L834.1,350.2 L835.1,351.3 L836,352.5 L837,353.6 L838,354.7 L839,355.7 L840,356.8 L841,357.9 L842,359 L843,360 L844,361.1 L845,362.1 L846.1,363.1" fill="none" stroke="#ff0000" stroke-width="1.1"/>
<path d="M290,86.2 L291.2,86.1 L292.4,86.1 L293.6,86.1 L294.8,86.1 L296,86.1 L297.2,86.1 L298.4,86.1 L299.6,86.1 L300.8,86.1 L302,86.1 L303.2,86 L304.4,86 L305.6,86 L306.8,86 L308,86 L309.2,86 L310.4,86 L311.6,86 L312.8,86 L314,86 L315.2,86 L316.4,86 L317.6,86 L318.8,86 L320,86 L321.2,86 L322.4,86 L323.6,86 L324.8,86 L326,86 L327.2,86 L328.4,86 L329.6,86 L330.8,86 L332,86 L333.2,86 L334.4,86 L335.6,86 L336.8,86 L338,86 L339.2,86 L340.4,86 L341.6,86 L342.8,86.1 L344,86.1 L345.2,86.1 L346.4,86.1 L347.6,86.1 L348.8,86.1 L350,86.1 L351.2,86.1 L352.4,86.1 L353.6,86.1 L354.8,86.1 L356,86.1 L357.2,86.1 L358.4,86.1 L359.6,86.1 L360.8,86.2 L362,86.2 L363.2,86.2 L364.4,86.2 L365.6,86.2 L366.8,86.2 L368,86.2 L369.2,86.2 L370.4,86.2 L371.6,86.2 L372.8,86.2 L374,86.2 L375.2,86.3 L376.4,86.3 L377.6,86.3 L378.8,86.3 L380,86.3 L381.2,86.3 L382.4,86.3 L383.6,86.3 L384.8,86.3 L386,86.3 L387.2,86.3 L388.4,86.4 L389.6,86.4 L390.8,86.4 L392,86.4 L393.2,86.4 L394.4,86.4 L395.6,86.4 L396.8,86.4 L398,86.4 L399.2,86.4 L400.4,86.4 L401.6,86.4 L402.8,86.4 L404,86.5 L405.2,86.5 L406.4,86.5 L407.6,86.5 L408.8,86.5 L410,86.5 L411.2,86.5 L412.4,86.5 L413.6,86.5 L414.8,86.5 L416,86.5 L417.2,86.5 L418.4,86.5 L419.6,86.5 L420.8,86.5 L422,86.5 L423.2,86.5 L424.4,86.5 L425.6,86.5 L426.8,86.5 L428,86.5 L429.2,86.5 L430.4,86.5 L431.6,86.5 L432.8,86.6 L434,86.6 L435.2,86.6 L436.4,86.6 L437.6,86.6 L438.8,86.6 L440,86.6 L441.2,86.6 L442.4,86.6 L443.6,86.6 L444.8,86.6 L446,86.6 L447.2,86.6 L448.4,86.6 L449.6,86.6 L450.8,86.6 L452,86.6 L453.2,86.6 L454.4,86.6 L455.6,86.6 L456.8,86.6 L458,86.6 L459.2,86.7 L460.4,86.7 L461.6,86.7 L462.8,86.7 L464,86.7 L465.2,86.7 L466.4,86.7 L467.6,86.7 L468.8,86.7 L470,86.8 L471.2,86.8 L472.4,86.8 L473.6,86.8 L474.8,86.9 L476,86.9 L477.2,86.9 L478.4,86.9 L479.6,87 L480.8,87 L482,87 L483.2,87 L484.4,87.1 L485.6,87.1 L486.8,87.1 L488,87.2 L489.2,87.2 L490.4,87.3 L491.6,87.3 L492.8,87.3 L494,87.4 L495.1,87.4 L496.3,87.5 L497.5,87.5 L498.7,87.6 L499.9,87.6 L501.1,87.6 L502.3,87.7 L503.5,87.7 L504.7,87.8 L505.9,87.9 L507.1,87.9 L508.3,88 L509.5,88 L510.7,88.1 L511.9,88.1 L513.1,88.2 L514.3,88.3 L515.5,88.3 L516.7,88.4 L517.9,88.5 L519.1,88.6 L520.3,88.6 L521.5,88.7 L522.7,88.8 L523.9,88.9 L525.1,88.9 L526.2,89 L527.4,89.1 L528.6,89.2 L529.8,89.3 L531,89.4 L532.2,89.5 L533.4,89.6 L534.6,89.7 L535.8,89.8 L537,89.9 L538.2,90 L539.4,90.1 L540.6,90.2 L541.8,90.3 L542.9,90.4 L544.1,90.5 L545.3,90.6 L546.5,90.8 L547.7,90.9 L548.9,91 L550.1,91.1 L551.3,91.3 L552.5,91.4 L553.7,91.5 L554.8,91.7 L556,91.8 L557.2,91.9 L558.4,92.1 L559.6,92.2 L560.8,92.4 L562,92.5 L563.2,92.7 L564.4,92.8 L565.5,93 L566.7,93.1 L567.9,93.3 L569.1,93.4 L570.3,93.6 L571.5,93.8 L572.7,93.9 L573.8,94.1 L575,94.3 L576.2,94.5 L577.4,94.6 L578.6,94.8 L579.8,95 L580.9,95.2 L582.1,95.4 L583.3,95.6 L584.5,95.8 L585.7,96 L586.9,96.2 L588,96.4 L589.2,96.6 L590.4,96.8 L591.6,97.1 L592.7,97.3 L593.9,97.5 L595.1,97.7 L596.3,98 L597.4,98.2 L598.6,98.4 L599.8,98.7 L601,98.9 L602.1,99.2 L603.3,99.4 L604.5,99.7 L605.6,99.9 L606.8,100.2 L608,100.5 L609.1,100.7 L610.3,101 L611.5,101.3 L612.6,101.6 L613.8,101.8 L614.9,102.1 L616.1,102.4 L617.3,102.7 L618.4,103 L619.6,103.3 L620.7,103.6 L621.9,103.9 L623,104.3 L624.2,104.6 L625.3,104.9 L626.5,105.2 L627.6,105.6 L628.7,105.9 L629.9,106.3 L631,106.6 L632.2,107 L633.3,107.3 L634.4,107.7 L635.6,108.1 L636.7,108.4 L637.8,108.8 L638.9,109.2 L640.1,109.6 L641.2,110 L642.3,110.4 L643.4,110.8 L644.5,111.2 L645.7,111.6 L646.8,112 L647.9,112.4 L649,112.9 L650.1,113.3 L651.2,113.7 L652.3,114.2 L653.4,114.6 L654.5,115.1 L655.6,115.5 L656.7,116 L657.8,116.5 L658.9,117 L660,117.4 L661.1,117.9 L662.2,118.4 L663.2,118.9 L664.3,119.4 L665.4,119.9 L666.5,120.4 L667.5,121 L668.6,121.5 L669.7,122 L670.7,122.6 L671.8,123.1 L672.9,123.7 L673.9,124.2 L675,124.8 L676,125.3 L677.1,125.9 L678.1,126.5 L679.2,127.1 L680.2,127.7 L681.2,128.3 L682.3,128.9 L683.3,129.5 L684.3,130.1 L685.3,130.7 L686.4,131.3 L687.4,132 L688.4,132.6 L689.4,133.3 L690.4,133.9 L691.4,134.6 L692.4,135.2 L693.4,135.9 L694.4,136.6 L695.4,137.3 L696.4,137.9 L697.3,138.6 L698.3,139.3 L699.3,140 L700.2,140.7 L701.2,141.4 L702.1,142.2 L703.1,142.9 L704,143.6 L705,144.4 L705.9,145.1 L706.8,145.9 L707.7,146.6 L708.7,147.4 L709.6,148.1 L710.5,148.9 L711.4,149.7 L712.3,150.5 L713.2,151.2 L714.1,152 L714.9,152.8 L715.8,153.6 L716.7,154.4 L717.5,155.3 L718.4,156.1 L719.3,156.9 L720.1,157.7 L720.9,158.6 L721.8,159.4 L722.6,160.3 L723.4,161.1 L724.2,162 L725.1,162.8 L725.9,163.7 L726.7,164.6 L727.5,165.4 L728.3,166.3 L729,167.2 L729.8,168.1 L730.6,169 L731.4,169.9 L732.2,170.8 L732.9,171.7 L733.7,172.6 L734.4,173.5 L735.2,174.5 L735.9,175.4 L736.7,176.3 L737.4,177.3 L738.2,178.2 L738.9,179.1 L739.6,180.1 L740.4,181 L741.1,182 L741.8,182.9 L742.5,183.9 L743.2,184.9 L743.9,185.8 L744.6,186.8 L745.3,187.8 L746,188.8 L746.7,189.8 L747.4,190.7 L748.1,191.7 L748.8,192.7 L749.5,193.7 L750.2,194.7 L750.8,195.7 L751.5,196.7 L752.2,197.7 L752.8,198.7 L753.5,199.7 L754.1,200.7 L754.8,201.7 L755.4,202.7 L756.1,203.7 L756.7,204.7 L757.4,205.8 L758,206.8 L758.6,207.8 L759.2,208.8 L759.9,209.8 L760.5,210.9 L761.1,211.9 L761.7,212.9 L762.3,213.9 L762.9,215 L763.5,216 L764.2,217 L764.8,218 L765.3,219.1 L765.9,220.1 L766.5,221.2 L767.1,222.2 L767.7,223.2 L768.3,224.3 L768.9,225.3 L769.5,226.3 L770,227.4 L770.6,228.4 L771.2,229.5 L771.8,230.5 L772.3,231.6 L772.9,232.6 L773.5,233.7 L774,234.7 L774.6,235.8 L775.1,236.8 L775.7,237.9 L776.2,238.9 L776.8,240 L777.4,241 L777.9,242.1 L778.4,243.2 L779,244.2 L779.5,245.3 L780.1,246.3 L780.6,247.4 L781.2,248.5 L781.7,249.5 L782.2,250.6 L782.8,251.7 L783.3,252.7 L783.8,253.8 L784.4,254.9 L784.9,255.9 L785.4,257 L786,258.1 L786.5,259.1 L787,260.2 L787.6,261.3 L788.1,262.4 L788.6,263.4 L789.1,264.5 L789.7,265.6 L790.2,266.6 L790.7,267.7 L791.2,268.8 L791.8,269.9 L792.3,270.9 L792.8,272 L793.3,273.1 L793.9,274.2 L794.4,275.3 L794.9,276.3 L795.4,277.4 L795.9,278.5 L796.5,279.6 L797,280.6 L797.5,281.7 L798,282.8 L798.6,283.9 L799.1,285 L799.6,286 L800.1,287.1 L800.6,288.2 L801.2,289.3 L801.7,290.4 L802.2,291.5 L802.8,292.5 L803.3,293.6 L803.8,294.7 L804.3,295.8 L804.9,296.9 L805.4,297.9 L805.9,299 L806.5,300.1 L807,301.2 L807.5,302.3 L808.1,303.3 L808.6,304.4 L809.1,305.5 L809.7,306.6 L810.2,307.7 L810.8,308.7 L811.3,309.8 L811.8,310.9 L812.4,312 L812.9,313.1 L813.5,314.1 L814,315.2 L814.6,316.3 L815.2,317.4 L815.7,318.4 L816.3,319.5 L816.8,320.6 L817.4,321.7 L818,322.7 L818.6,323.8 L819.1,324.9 L819.7,325.9 L820.3,327 L820.9,328 L821.5,329.1 L822.1,330.2 L822.6,331.2 L823.2,332.3 L823.8,333.3 L824.4,334.4 L825.1,335.4 L825.7,336.4 L826.3,337.5 L826.9,338.5 L827.5,339.5 L828.2,340.6 L828.8,341.6 L829.4,342.6 L830.1,343.6 L830.7,344.7 L831.4,345.7 L832,346.7 L832.7,347.7 L833.4,348.7 L834,349.7 L834.7,350.7 L835.4,351.7 L836.1,352.7 L836.8,353.7 L837.5,354.6 L838.2,355.6 L838.9,356.6 L839.6,357.6 L840.3,358.5 L841.1,359.5 L841.8,360.4 L842.5,361.4 L843.3,362.3 L844,363.2 L844.8,364.2 L845.5,365.1 L846.3,366 L847.1,366.9 L847.9,367.9 L848.7,368.8 L849.5,369.7 L850.3,370.6 L851.1,371.4 L851.9,372.3 L852.8,373.2 L853.6,374 L854.5,374.9 L855.3,375.8 L856.2,376.6 L857,377.4 L857.9,378.3 L858.8,379.1 L859.7,379.9 L860.6,380.7 L861.5,381.5 L862.4,382.3 L863.4,383.1 L864.3,383.9 L865.2,384.6 L866.2,385.4 L867.2,386.2 L868.1,386.9 L869.1,387.6 L870.1,388.3 L871.1,389 L872.1,389.7 L873.1,390.4 L874.1,391 L875.1,391.7 L876.1,392.3 L877.1,393 L878.2,393.6 L879.2,394.2 L880.3,394.7 L881.4,395.3 L882.4,395.9 L883.5,396.4 L884.6,396.9 L885.7,397.4 L886.8,397.9 L887.9,398.4 L889,398.9 L890.1,399.3 L891.2,399.7 L892.3,400.1 L893.5,400.5 L894.6,400.9 L895.8,401.3 L896.9,401.7 L898.1,402 L899.2,402.3 L900.4,402.6 L901.5,402.9 L902.7,403.2 L903.9,403.5 L905,403.8 L906.2,404 L907.4,404.3 L908.6,404.5 L909.8,404.7 L911,404.9 L912.1,405.1 L913.3,405.3 L914.5,405.5 L915.7,405.7 L916.9,405.9 L918.1,406 L919.3,406.2 L920.5,406.3 L921.7,406.4 L922.9,406.6 L924.1,406.7 L925.3,406.8 L926.5,406.9 L927.7,407 L928.9,407.1 L930.1,407.2 L931.3,407.2 L932.5,407.3 L933.7,407.4 L934.9,407.4 L936.1,407.5 L937.3,407.5 L938.5,407.6 L939.8,407.6 L941,407.6 L942.2,407.7 L943.4,407.7 L944.6,407.7 L945.8,407.7 L947,407.7 L948.2,407.7 L949.4,407.7 L950.6,407.7 L951.9,407.7 L953.1,407.7 L954.3,407.7 L955.5,407.7 L956.7,407.7 L957.9,407.7 L959.1,407.6 L960.3,407.6 L961.5,407.6 L962.8,407.6 L964,407.5 L965.2,407.5 L966.4,407.5 L967.6,407.5 L968.8,407.4 L970,407.4 L971.2,407.4 L972.4,407.3 L973.6,407.3 L974.8,407.3 L976,407.3 L977.2,407.2 L978.4,407.2 L979.6,407.2 L980.8,407.2 L982.1,407.2 L983.3,407.1 L984.4,407.1 L985.6,407.1 L986.8,407.1 L988,407.1 L989.2,407.1 L990.4,407.1 L991.6,407.1 L992.8,407.1 L994,407.1 L995.2,407.1 L996.4,407.1 L997.6,407.1 L998.8,407.1 L1000,407.1 L1001.2,407.1 L1002.4,407.1 L1003.6,407.1 L1004.7,407.2 L1005.9,407.2 L1007.1,407.2 L1008.3,407.2 L1009.5,407.2 L1010.7,407.2 L1011.9,407.3 L1013.1,407.3 L1014.3,407.3 L1015.5,407.3 L1016.7,407.3 L1017.9,407.3 L1019.1,407.3 L1020.3,407.3 L1021.4,407.3 L1022.6,407.4 L1023.8,407.4 L1025,407.4 L1026.2,407.4 L1027.4,407.4 L1028.6,407.4 L1029.8,407.4 L1031,407.4 L1032.2,407.4 L1033.4,407.3 L1034.6,407.3 L1035.8,407.3 L1037.1,407.3 L1038.3,407.3 L1039.5,407.3 L1040.7,407.2 L1041.9,407.2 L1043.1,407.2 L1044.3,407.1 L1045.5,407.1 L1045.5,405.3 L1044.3,405.3 L1043.1,405.4 L1041.8,405.4 L1040.6,405.4 L1039.4,405.5 L1038.2,405.5 L1037,405.5 L1035.8,405.5 L1034.6,405.5 L1033.4,405.5 L1032.2,405.6 L1031,405.6 L1029.8,405.6 L1028.6,405.6 L1027.4,405.6 L1026.2,405.6 L1025,405.6 L1023.8,405.6 L1022.7,405.6 L1021.5,405.5 L1020.3,405.5 L1019.1,405.5 L1017.9,405.5 L1016.7,405.5 L1015.5,405.5 L1014.3,405.5 L1013.1,405.5 L1011.9,405.5 L1010.7,405.4 L1009.5,405.4 L1008.3,405.4 L1007.2,405.4 L1006,405.4 L1004.8,405.4 L1003.6,405.3 L1002.4,405.3 L1001.2,405.3 L1000,405.3 L998.8,405.3 L997.6,405.3 L996.4,405.3 L995.2,405.3 L994,405.3 L992.8,405.3 L991.6,405.3 L990.4,405.3 L989.2,405.3 L988,405.3 L986.8,405.3 L985.6,405.3 L984.4,405.3 L983.2,405.3 L982,405.4 L980.8,405.4 L979.6,405.4 L978.4,405.4 L977.2,405.4 L976,405.5 L974.8,405.5 L973.6,405.5 L972.4,405.5 L971.2,405.6 L970,405.6 L968.8,405.6 L967.5,405.7 L966.3,405.7 L965.1,405.7 L963.9,405.7 L962.7,405.8 L961.5,405.8 L960.3,405.8 L959.1,405.8 L957.9,405.9 L956.7,405.9 L955.5,405.9 L954.3,405.9 L953.1,405.9 L951.8,405.9 L950.6,405.9 L949.4,405.9 L948.2,405.9 L947,405.9 L945.8,405.9 L944.6,405.9 L943.4,405.9 L942.2,405.9 L941,405.8 L939.8,405.8 L938.6,405.8 L937.4,405.7 L936.2,405.7 L935,405.6 L933.8,405.6 L932.6,405.5 L931.4,405.4 L930.2,405.4 L929,405.3 L927.8,405.2 L926.6,405.1 L925.5,405 L924.3,404.9 L923.1,404.8 L921.9,404.7 L920.7,404.5 L919.5,404.4 L918.3,404.2 L917.2,404.1 L916,403.9 L914.8,403.7 L913.6,403.6 L912.4,403.4 L911.3,403.2 L910.1,403 L908.9,402.7 L907.8,402.5 L906.6,402.3 L905.4,402 L904.3,401.8 L903.1,401.5 L902,401.2 L900.8,400.9 L899.7,400.6 L898.6,400.3 L897.4,399.9 L896.3,399.6 L895.2,399.2 L894.1,398.8 L892.9,398.5 L891.8,398 L890.7,397.6 L889.7,397.2 L888.6,396.7 L887.5,396.3 L886.4,395.8 L885.3,395.3 L884.3,394.8 L883.2,394.3 L882.2,393.7 L881.2,393.2 L880.1,392.6 L879.1,392 L878.1,391.4 L877.1,390.8 L876.1,390.1 L875.1,389.5 L874.1,388.8 L873.2,388.1 L872.2,387.4 L871.2,386.7 L870.3,386 L869.3,385.3 L868.4,384.6 L867.5,383.8 L866.5,383.1 L865.6,382.3 L864.7,381.5 L863.8,380.8 L862.9,380 L862,379.2 L861.1,378.4 L860.3,377.5 L859.4,376.7 L858.6,375.9 L857.7,375 L856.9,374.2 L856,373.4 L855.2,372.5 L854.4,371.6 L853.6,370.8 L852.8,369.9 L852,369 L851.2,368.1 L850.4,367.2 L849.6,366.3 L848.8,365.4 L848.1,364.5 L847.3,363.6 L846.6,362.7 L845.8,361.8 L845.1,360.9 L844.3,359.9 L843.6,359 L842.9,358.1 L842.2,357.1 L841.5,356.2 L840.7,355.2 L840,354.3 L839.4,353.3 L838.7,352.3 L838,351.3 L837.3,350.4 L836.6,349.4 L836,348.4 L835.3,347.4 L834.6,346.4 L834,345.4 L833.3,344.4 L832.7,343.4 L832,342.4 L831.4,341.4 L830.8,340.4 L830.1,339.4 L829.5,338.3 L828.9,337.3 L828.3,336.3 L827.7,335.3 L827.1,334.2 L826.5,333.2 L825.9,332.1 L825.3,331.1 L824.7,330.1 L824.1,329 L823.5,328 L822.9,326.9 L822.3,325.9 L821.8,324.8 L821.2,323.7 L820.6,322.7 L820,321.6 L819.5,320.6 L818.9,319.5 L818.3,318.4 L817.8,317.4 L817.2,316.3 L816.7,315.2 L816.1,314.1 L815.6,313.1 L815,312 L814.5,310.9 L813.9,309.8 L813.4,308.8 L812.8,307.7 L812.3,306.6 L811.8,305.5 L811.2,304.5 L810.7,303.4 L810.2,302.3 L809.6,301.2 L809.1,300.1 L808.6,299.1 L808,298 L807.5,296.9 L807,295.8 L806.4,294.7 L805.9,293.7 L805.4,292.6 L804.9,291.5 L804.3,290.4 L803.8,289.3 L803.3,288.3 L802.8,287.2 L802.2,286.1 L801.7,285 L801.2,283.9 L800.7,282.9 L800.2,281.8 L799.6,280.7 L799.1,279.6 L798.6,278.5 L798.1,277.5 L797.5,276.4 L797,275.3 L796.5,274.2 L796,273.1 L795.5,272.1 L794.9,271 L794.4,269.9 L793.9,268.8 L793.4,267.8 L792.8,266.7 L792.3,265.6 L791.8,264.5 L791.3,263.5 L790.7,262.4 L790.2,261.3 L789.7,260.2 L789.2,259.2 L788.6,258.1 L788.1,257 L787.6,255.9 L787,254.9 L786.5,253.8 L786,252.7 L785.4,251.7 L784.9,250.6 L784.4,249.5 L783.8,248.5 L783.3,247.4 L782.7,246.3 L782.2,245.3 L781.7,244.2 L781.1,243.1 L780.6,242.1 L780,241 L779.5,240 L778.9,238.9 L778.4,237.8 L777.8,236.8 L777.2,235.7 L776.7,234.7 L776.1,233.6 L775.6,232.5 L775,231.5 L774.4,230.4 L773.9,229.4 L773.3,228.3 L772.7,227.3 L772.1,226.2 L771.5,225.2 L771,224.1 L770.4,223.1 L769.8,222.1 L769.2,221 L768.6,220 L768,218.9 L767.4,217.9 L766.8,216.8 L766.2,215.8 L765.6,214.8 L765,213.7 L764.4,212.7 L763.8,211.7 L763.2,210.6 L762.5,209.6 L761.9,208.6 L761.3,207.6 L760.7,206.5 L760,205.5 L759.4,204.5 L758.7,203.5 L758.1,202.4 L757.5,201.4 L756.8,200.4 L756.2,199.4 L755.5,198.4 L754.8,197.4 L754.2,196.4 L753.5,195.4 L752.8,194.4 L752.2,193.3 L751.5,192.3 L750.8,191.3 L750.1,190.3 L749.4,189.4 L748.7,188.4 L748,187.4 L747.3,186.4 L746.6,185.4 L745.9,184.4 L745.2,183.4 L744.5,182.5 L743.7,181.5 L743,180.5 L742.3,179.6 L741.6,178.6 L740.8,177.6 L740.1,176.7 L739.3,175.7 L738.6,174.8 L737.8,173.9 L737.1,172.9 L736.3,172 L735.6,171.1 L734.8,170.1 L734,169.2 L733.2,168.3 L732.5,167.4 L731.7,166.5 L730.9,165.6 L730.1,164.7 L729.3,163.8 L728.5,162.9 L727.7,162 L726.9,161.1 L726,160.3 L725.2,159.4 L724.4,158.5 L723.5,157.7 L722.7,156.8 L721.8,156 L721,155.1 L720.1,154.3 L719.2,153.5 L718.4,152.6 L717.5,151.8 L716.6,151 L715.7,150.2 L714.8,149.4 L713.9,148.6 L713,147.8 L712.1,147 L711.2,146.2 L710.3,145.5 L709.3,144.7 L708.4,143.9 L707.5,143.2 L706.5,142.4 L705.6,141.7 L704.6,140.9 L703.6,140.2 L702.7,139.5 L701.7,138.7 L700.7,138 L699.8,137.3 L698.8,136.6 L697.8,135.9 L696.8,135.2 L695.8,134.5 L694.8,133.8 L693.8,133.1 L692.8,132.4 L691.8,131.8 L690.8,131.1 L689.8,130.5 L688.8,129.8 L687.7,129.2 L686.7,128.5 L685.7,127.9 L684.6,127.3 L683.6,126.6 L682.6,126 L681.5,125.4 L680.5,124.8 L679.4,124.2 L678.4,123.6 L677.3,123 L676.2,122.4 L675.2,121.9 L674.1,121.3 L673,120.7 L672,120.2 L670.9,119.6 L669.8,119.1 L668.7,118.5 L667.6,118 L666.6,117.5 L665.5,117 L664.4,116.4 L663.3,115.9 L662.2,115.4 L661.1,114.9 L660,114.4 L658.9,114 L657.8,113.5 L656.7,113 L655.6,112.5 L654.5,112.1 L653.4,111.6 L652.3,111.2 L651.1,110.7 L650,110.3 L648.9,109.8 L647.8,109.4 L646.6,109 L645.5,108.5 L644.4,108.1 L643.3,107.7 L642.1,107.3 L641,106.9 L639.9,106.5 L638.7,106.1 L637.6,105.8 L636.4,105.4 L635.3,105 L634.2,104.6 L633,104.3 L631.9,103.9 L630.7,103.6 L629.6,103.2 L628.4,102.9 L627.3,102.5 L626.1,102.2 L624.9,101.8 L623.8,101.5 L622.6,101.2 L621.5,100.9 L620.3,100.6 L619.1,100.2 L618,99.9 L616.8,99.6 L615.6,99.3 L614.5,99.1 L613.3,98.8 L612.1,98.5 L611,98.2 L609.8,97.9 L608.6,97.6 L607.4,97.4 L606.3,97.1 L605.1,96.9 L603.9,96.6 L602.7,96.3 L601.6,96.1 L600.4,95.8 L599.2,95.6 L598,95.4 L596.8,95.1 L595.6,94.9 L594.5,94.7 L593.3,94.5 L592.1,94.3 L590.9,94.1 L589.7,93.8 L588.5,93.6 L587.3,93.4 L586.1,93.2 L585,93 L583.8,92.9 L582.6,92.7 L581.4,92.5 L580.2,92.3 L579,92.1 L577.8,91.9 L576.6,91.8 L575.4,91.6 L574.2,91.4 L573,91.3 L571.8,91.1 L570.6,91 L569.5,90.8 L568.3,90.6 L567.1,90.5 L565.9,90.3 L564.7,90.2 L563.5,90.1 L562.3,89.9 L561.1,89.8 L559.9,89.6 L558.7,89.5 L557.5,89.4 L556.3,89.3 L555.1,89.1 L553.9,89 L552.7,88.9 L551.5,88.8 L550.3,88.7 L549.1,88.6 L547.9,88.5 L546.7,88.4 L545.5,88.3 L544.3,88.2 L543.1,88.1 L542,88 L540.8,87.9 L539.6,87.8 L538.4,87.7 L537.2,87.6 L536,87.5 L534.8,87.5 L533.6,87.4 L532.4,87.3 L531.2,87.2 L530,87.1 L528.8,87.1 L527.6,87 L526.4,86.9 L525.2,86.9 L524,86.8 L522.8,86.7 L521.6,86.7 L520.4,86.6 L519.2,86.6 L518,86.5 L516.8,86.5 L515.6,86.4 L514.4,86.3 L513.2,86.3 L512,86.2 L510.8,86.2 L509.6,86.2 L508.4,86.1 L507.2,86.1 L506,86 L504.8,86 L503.6,85.9 L502.4,85.9 L501.2,85.9 L500,85.8 L498.8,85.8 L497.6,85.8 L496.4,85.7 L495.2,85.7 L494,85.7 L492.8,85.7 L491.6,85.6 L490.4,85.6 L489.2,85.6 L488,85.6 L486.8,85.5 L485.6,85.5 L484.4,85.5 L483.2,85.5 L482,85.5 L480.8,85.5 L479.6,85.4 L478.4,85.4 L477.2,85.4 L476,85.4 L474.8,85.4 L473.6,85.4 L472.4,85.4 L471.2,85.4 L470,85.4 L468.8,85.3 L467.6,85.3 L466.4,85.3 L465.2,85.3 L464,85.3 L462.8,85.3 L461.6,85.3 L460.4,85.3 L459.2,85.3 L458,85.3 L456.8,85.2 L455.6,85.2 L454.4,85.2 L453.2,85.2 L452,85.2 L450.8,85.2 L449.6,85.2 L448.4,85.2 L447.2,85.2 L446,85.2 L444.8,85.2 L443.6,85.2 L442.4,85.2 L441.2,85.2 L440,85.2 L438.8,85.2 L437.6,85.2 L436.4,85.2 L435.2,85.2 L434,85.2 L432.8,85.2 L431.6,85.2 L430.4,85.2 L429.2,85.2 L428,85.2 L426.8,85.2 L425.6,85.2 L424.4,85.2 L423.2,85.2 L422,85.2 L420.8,85.1 L419.6,85.1 L418.4,85.1 L417.2,85.1 L416,85.1 L414.8,85.1 L413.6,85.1 L412.4,85.1 L411.2,85.1 L410,85.1 L408.8,85.1 L407.6,85.1 L406.4,85.1 L405.2,85.1 L404,85.1 L402.8,85.1 L401.6,85.1 L400.4,85.1 L399.2,85.1 L398,85.1 L396.8,85 L395.6,85 L394.4,85 L393.2,85 L392,85 L390.8,85 L389.6,85 L388.4,85 L387.2,85 L386,85 L384.8,85 L383.6,85 L382.4,85 L381.2,84.9 L380,84.9 L378.8,84.9 L377.6,84.9 L376.4,84.9 L375.2,84.9 L374,84.9 L372.8,84.9 L371.6,84.9 L370.4,84.9 L369.2,84.9 L368,84.9 L366.8,84.9 L365.6,84.8 L364.4,84.8 L363.2,84.8 L362,84.8 L360.8,84.8 L359.6,84.8 L358.4,84.8 L357.2,84.8 L356,84.8 L354.8,84.8 L353.6,84.8 L352.4,84.8 L351.2,84.8 L350,84.8 L348.8,84.7 L347.6,84.7 L346.4,84.7 L345.2,84.7 L344,84.7 L342.8,84.7 L341.6,84.7 L340.4,84.7 L339.2,84.7 L338,84.7 L336.8,84.7 L335.6,84.7 L334.4,84.7 L333.2,84.7 L332,84.7 L330.8,84.7 L329.6,84.7 L328.4,84.7 L327.2,84.7 L326,84.7 L324.8,84.7 L323.6,84.7 L322.4,84.7 L321.2,84.7 L320,84.7 L318.8,84.7 L317.6,84.7 L316.4,84.7 L315.2,84.7 L314,84.7 L312.8,84.7 L311.6,84.7 L310.4,84.7 L309.2,84.7 L308,84.7 L306.8,84.7 L305.6,84.7 L304.4,84.7 L303.2,84.7 L302,84.7 L300.8,84.8 L299.6,84.8 L298.4,84.8 L297.2,84.8 L296,84.8 L294.8,84.8 L293.6,84.8 L292.4,84.8 L291.2,84.8 L290,84.9Z" fill="#0080ff"/>
<path d="M1236,78.2 L1237.5,78.2 L1239,78.2 L1240.5,78.2 L1242,78.3 L1243.5,78.3 L1245,78.3 L1246.5,78.3 L1248,78.3 L1249.5,78.4 L1251,78.4 L1252.5,78.4 L1254,78.4 L1255.5,78.4 L1257,78.4 L1258.5,78.4 L1260,78.4 L1261.5,78.4 L1263,78.4 L1264.5,78.5 L1266,78.5 L1267.5,78.5 L1269,78.5 L1270.5,78.5 L1272,78.5 L1273.5,78.5 L1275,78.5 L1276.5,78.5 L1278,78.5 L1279.5,78.5 L1281,78.5 L1282.5,78.5 L1284,78.5 L1285.5,78.5 L1287,78.5 L1288.5,78.5 L1290,78.4 L1291.5,78.4 L1293,78.4 L1294.5,78.4 L1296,78.4 L1297.5,78.4 L1299,78.4 L1300.5,78.4 L1302,78.4 L1303.5,78.4 L1305,78.4 L1306.5,78.4 L1308,78.4 L1309.5,78.4 L1311,78.4 L1312.5,78.4 L1314,78.4 L1315.5,78.4 L1317,78.4 L1318.5,78.4 L1320,78.4 L1321.5,78.4 L1323,78.4 L1324.5,78.4 L1326,78.4 L1327.5,78.4 L1329,78.4 L1330.5,78.4 L1332,78.4 L1333.5,78.4 L1335,78.4 L1336.5,78.4 L1338,78.5 L1339.5,78.5 L1341,78.5 L1342.5,78.5 L1344,78.5 L1345.5,78.5 L1346.9,78.5 L1348.4,78.6 L1349.9,78.6 L1351.4,78.6 L1352.9,78.6 L1354.4,78.6 L1355.9,78.7 L1357.4,78.7 L1358.9,78.7 L1360.4,78.8 L1361.9,78.8 L1363.4,78.8 L1364.9,78.9 L1366.4,78.9 L1367.9,78.9 L1369.4,79 L1370.9,79 L1372.4,79.1 L1373.9,79.1 L1375.4,79.2 L1376.9,79.2 L1378.4,79.3 L1379.9,79.3 L1381.4,79.4 L1382.9,79.4 L1384.4,79.5 L1385.9,79.6 L1387.4,79.6 L1388.9,79.7 L1390.4,79.8 L1391.9,79.9 L1393.3,79.9 L1394.8,80 L1396.3,80.1 L1397.8,80.2 L1399.3,80.3 L1400.8,80.4 L1402.3,80.4 L1403.8,80.5 L1405.3,80.6 L1406.8,80.7 L1408.3,80.8 L1409.8,81 L1411.3,81.1 L1412.8,81.2 L1414.3,81.3 L1415.8,81.4 L1417.3,81.5 L1418.8,81.7 L1420.3,81.8 L1421.8,81.9 L1423.3,82.1 L1424.8,82.2 L1426.3,82.3 L1427.7,82.5 L1429.2,82.6 L1430.7,82.8 L1432.2,82.9 L1433.7,83.1 L1435.2,83.3 L1436.7,83.4 L1438.2,83.6 L1439.7,83.8 L1441.2,83.9 L1442.7,84.1 L1444.2,84.3 L1445.7,84.5 L1447.2,84.7 L1448.7,84.9 L1450.2,85.1 L1451.7,85.3 L1453.1,85.5 L1454.6,85.7 L1456.1,86 L1457.6,86.2 L1459.1,86.4 L1460.6,86.7 L1462.1,86.9 L1463.6,87.2 L1465,87.4 L1466.5,87.7 L1468,88 L1469.5,88.3 L1470.9,88.5 L1472.4,88.8 L1473.9,89.1 L1475.4,89.5 L1476.8,89.8 L1478.3,90.1 L1479.7,90.4 L1481.2,90.8 L1482.7,91.1 L1484.1,91.5 L1485.6,91.9 L1487,92.2 L1488.5,92.6 L1489.9,93 L1491.3,93.4 L1492.8,93.8 L1494.2,94.3 L1495.6,94.7 L1497.1,95.2 L1498.5,95.6 L1499.9,96.1 L1501.3,96.6 L1502.7,97 L1504.1,97.5 L1505.5,98.1 L1506.9,98.6 L1508.3,99.1 L1509.7,99.7 L1511.1,100.2 L1512.5,100.8 L1513.9,101.4 L1515.2,102 L1516.6,102.6 L1518,103.2 L1519.3,103.8 L1520.7,104.5 L1522,105.1 L1523.4,105.8 L1524.7,106.5 L1526,107.2 L1527.4,107.9 L1528.7,108.6 L1530,109.3 L1531.3,110.1 L1532.6,110.8 L1533.9,111.6 L1535.2,112.4 L1536.5,113.2 L1537.7,114 L1539,114.8 L1540.2,115.6 L1541.5,116.5 L1542.7,117.3 L1544,118.2 L1545.2,119 L1546.4,119.9 L1547.6,120.8 L1548.8,121.7 L1550,122.6 L1551.2,123.6 L1552.3,124.5 L1553.5,125.4 L1554.6,126.4 L1555.8,127.3 L1556.9,128.3 L1558,129.3 L1559.2,130.3 L1560.3,131.3 L1561.4,132.3 L1562.5,133.3 L1563.6,134.3 L1564.6,135.3 L1565.7,136.4 L1566.8,137.4 L1567.8,138.5 L1568.9,139.5 L1569.9,140.6 L1571,141.7 L1572,142.7 L1573.1,143.8 L1574.1,144.9 L1575.1,146 L1576.1,147.1 L1577.1,148.2 L1578.1,149.3 L1579.1,150.4 L1580.1,151.5 L1581.1,152.6 L1582.1,153.8 L1583.1,154.9 L1584.1,156 L1585.1,157.2 L1586.1,158.3 L1587.1,159.4 L1588,160.6 L1589,161.7 L1590,162.9 L1590.9,164 L1591.9,165.2 L1592.9,166.3 L1593.8,167.5 L1594.8,168.6 L1595.8,169.8 L1596.7,170.9 L1597.7,172.1 L1598.7,173.3 L1599.6,174.4 L1600.6,175.6 L1601.6,176.7 L1602.5,177.9 L1603.5,179.1 L1604.4,180.2 L1605.4,181.4 L1606.4,182.5 L1607.4,183.7 L1608.3,184.8 L1609.3,186 L1610.3,187.1 L1611.3,188.3 L1612.2,189.4 L1613.2,190.5 L1614.2,191.7 L1615.2,192.8 L1616.2,193.9 L1617.2,195 L1618.2,196.2 L1619.2,197.3 L1620.2,198.4 L1621.2,199.5 L1622.2,200.6 L1623.2,201.7 L1624.3,202.8 L1625.3,203.9 L1626.3,205 L1627.4,206 L1628.4,207.1 L1629.5,208.2 L1630.6,209.2 L1631.6,210.3 L1632.7,211.3 L1633.8,212.4 L1634.9,213.4 L1636,214.4 L1637,215.4 L1638.1,216.4 L1639.3,217.4 L1640.4,218.4 L1641.5,219.4 L1642.6,220.4 L1643.7,221.4 L1644.9,222.4 L1646,223.4 L1647.1,224.4 L1648.3,225.3 L1649.4,226.3 L1650.6,227.3 L1651.7,228.2 L1652.9,229.2 L1654,230.2 L1655.2,231.1 L1656.3,232.1 L1657.5,233 L1658.7,234 L1659.8,234.9 L1661,235.9 L1662.1,236.8 L1663.3,237.8 L1664.5,238.7 L1665.6,239.6 L1666.8,240.6 L1668,241.5 L1669.1,242.5 L1670.3,243.4 L1671.5,244.4 L1672.6,245.3 L1673.8,246.3 L1675,247.2 L1676.1,248.2 L1677.3,249.1 L1678.4,250.1 L1679.6,251 L1680.7,252 L1681.9,252.9 L1683,253.9 L1684.2,254.9 L1685.3,255.9 L1686.4,256.8 L1687.6,257.8 L1688.7,258.8 L1689.8,259.8 L1690.9,260.8 L1692.1,261.8 L1693.2,262.8 L1694.3,263.8 L1695.4,264.8 L1696.5,265.8 L1697.5,266.8 L1698.6,267.9 L1699.7,268.9 L1700.8,269.9 L1701.8,271 L1702.9,272 L1704,273.1 L1705,274.1 L1706.1,275.2 L1707.1,276.3 L1708.1,277.4 L1709.2,278.4 L1710.2,279.5 L1711.2,280.6 L1712.2,281.7 L1713.2,282.8 L1714.2,283.9 L1715.2,285 L1716.2,286.2 L1717.2,287.3 L1718.2,288.4 L1719.2,289.5 L1720.1,290.7 L1721.1,291.8 L1722,293 L1723,294.1 L1723.9,295.3 L1724.9,296.4 L1725.8,297.6 L1726.8,298.8 L1727.7,299.9 L1728.6,301.1 L1729.5,302.3 L1730.4,303.5 L1731.3,304.7 L1732.2,305.9 L1733.1,307.1 L1734,308.3 L1734.9,309.5 L1735.7,310.7 L1736.6,312 L1737.5,313.2 L1738.3,314.4 L1739.2,315.7 L1740,316.9 L1740.9,318.1 L1741.7,319.4 L1742.6,320.6 L1743.4,321.9 L1744.3,323.1 L1745.1,324.4 L1745.9,325.6 L1746.8,326.9 L1747.6,328.1 L1748.5,329.4 L1749.3,330.6 L1750.1,331.9 L1751,333.1 L1751.8,334.4 L1752.7,335.6 L1753.5,336.9 L1754.4,338.1 L1755.2,339.4 L1756.1,340.6 L1757,341.8 L1757.8,343.1 L1758.7,344.3 L1759.6,345.5 L1760.5,346.8 L1761.4,348 L1762.3,349.2 L1763.2,350.4 L1764.1,351.6 L1765.1,352.8 L1766,354 L1766.9,355.2 L1767.9,356.4 L1768.9,357.6 L1769.8,358.7 L1770.8,359.9 L1771.8,361 L1772.8,362.2 L1773.8,363.3 L1774.8,364.4 L1775.9,365.5 L1776.9,366.6 L1777.9,367.7 L1779,368.8 L1780.1,369.9 L1781.2,370.9 L1782.2,371.9 L1783.3,373 L1784.5,374 L1785.6,374.9 L1786.7,375.9 L1787.8,376.8 L1789,377.8 L1790.2,378.7 L1791.3,379.6 L1792.5,380.5 L1793.7,381.3 L1794.9,382.1 L1796.1,383 L1797.4,383.7 L1798.6,384.5 L1799.9,385.3 L1801.1,386 L1802.4,386.7 L1803.7,387.3 L1805,388 L1806.3,388.6 L1807.7,389.2 L1809,389.8 L1810.3,390.3 L1811.7,390.8 L1813.1,391.3 L1814.5,391.8 L1815.8,392.3 L1817.2,392.7 L1818.6,393.1 L1820.1,393.5 L1821.5,393.9 L1822.9,394.2 L1824.4,394.6 L1825.8,394.9 L1827.3,395.2 L1828.7,395.4 L1830.2,395.7 L1831.7,396 L1833.2,396.2 L1834.6,396.4 L1836.1,396.6 L1837.6,396.8 L1839.1,397 L1840.6,397.1 L1842.1,397.3 L1843.7,397.4 L1845.2,397.5 L1846.7,397.6 L1848.2,397.7 L1849.7,397.8 L1851.3,397.9 L1852.8,398 L1854.3,398.1 L1855.8,398.1 L1857.4,398.2 L1858.9,398.2 L1860.4,398.2 L1862,398.3 L1863.5,398.3 L1865,398.3 L1866.5,398.3 L1868.1,398.4 L1869.6,398.4 L1871.1,398.4 L1872.6,398.4 L1874.2,398.4 L1875.7,398.4 L1877.2,398.4 L1878.7,398.4 L1880.2,398.4 L1881.7,398.4 L1883.2,398.3 L1884.7,398.3 L1886.2,398.3 L1887.7,398.3 L1889.2,398.3 L1890.7,398.3 L1892.2,398.3 L1893.7,398.3 L1895.2,398.2 L1896.7,398.2 L1898.2,398.2 L1899.7,398.2 L1901.2,398.2 L1902.7,398.2 L1904.2,398.2 L1905.7,398.1 L1907.1,398.1 L1908.6,398.1 L1910.1,398.1 L1911.6,398.1 L1913.1,398.1 L1914.6,398.1 L1916.1,398.1 L1917.6,398.1 L1919.1,398.1 L1920.6,398.1 L1922.1,398.1 L1923.6,398.1 L1925.1,398.1 L1926.5,398.1 L1928,398.1 L1929.5,398.1 L1931,398.1 L1932.5,398.1 L1934,398.1 L1935.5,398.1 L1937,398.1 L1938.5,398.2 L1940,398.2 L1941.5,398.2 L1943,398.2 L1944.5,398.2 L1946,398.2 L1947.5,398.2 L1949,398.2 L1950.5,398.2 L1952,398.2 L1953.5,398.3 L1955,398.3 L1956.5,398.3 L1958,398.3 L1959.5,398.3 L1961,398.3 L1962.5,398.3 L1964,398.3 L1965.5,398.3 L1967,398.3 L1968.5,398.3 L1970,398.3 L1971.5,398.4 L1973,398.4 L1974.5,398.4 L1976,398.4 L1977.5,398.4 L1979,398.4 L1980.5,398.4 L1982,398.4 L1983.5,398.4 L1985,398.4 L1986.5,398.4 L1988,398.3 L1989.5,398.3 L1991,398.3 L1992.5,398.3 L1994,398.3 L1995.5,398.3 L1997,398.3 L1998.5,398.3 L2000,398.2" fill="none" stroke="#05d835" stroke-width="1.1"/>
<path d="M1366.8,78.5 L1368.8,78.5 L1370.9,78.5 L1372.9,78.6 L1374.9,78.6 L1376.9,78.7 L1378.9,78.8 L1380.9,78.8 L1382.9,78.9 L1384.9,78.9 L1386.9,79 L1388.9,79.1 L1390.9,79.1 L1392.9,79.2 L1394.9,79.3 L1396.9,79.3 L1398.9,79.4 L1400.9,79.5 L1402.8,79.6 L1404.8,79.7 L1406.8,79.8 L1408.8,79.9 L1410.8,80 L1412.8,80.1 L1414.8,80.2 L1416.8,80.3 L1418.7,80.4 L1420.7,80.6 L1422.7,80.7 L1424.7,80.8 L1426.7,81 L1428.7,81.1 L1430.6,81.3 L1432.6,81.4 L1434.6,81.6 L1436.6,81.8 L1438.6,81.9 L1440.6,82.1 L1442.5,82.3 L1444.5,82.5 L1446.5,82.7 L1448.5,82.9 L1450.5,83.1 L1452.5,83.4 L1454.5,83.6 L1456.5,83.8 L1458.4,84.1 L1460.4,84.3 L1462.4,84.6 L1464.4,84.9 L1466.4,85.2 L1468.4,85.5 L1470.4,85.8 L1472.3,86.1 L1474.3,86.4 L1476.3,86.7 L1478.3,87.1 L1480.2,87.4 L1482.2,87.8 L1484.2,88.2 L1486.2,88.6 L1488.1,89 L1490.1,89.4 L1492,89.8 L1494,90.2 L1495.9,90.7 L1497.9,91.1 L1499.8,91.6 L1501.8,92.1 L1503.7,92.6 L1505.6,93.1 L1507.6,93.7 L1509.5,94.2 L1511.4,94.8 L1513.3,95.4 L1515.2,95.9 L1517.1,96.6 L1519,97.2 L1520.9,97.8 L1522.8,98.5 L1524.7,99.2 L1526.5,99.8 L1528.4,100.6 L1530.3,101.3 L1532.1,102 L1533.9,102.8 L1535.8,103.6 L1537.6,104.4 L1539.4,105.2 L1541.2,106 L1543,106.9 L1544.8,107.8 L1546.6,108.7 L1548.3,109.6 L1550.1,110.5 L1551.8,111.5 L1553.5,112.5 L1555.2,113.5 L1556.9,114.5 L1558.6,115.6 L1560.3,116.7 L1561.9,117.8 L1563.5,118.9 L1565.1,120.1 L1566.7,121.2 L1568.3,122.4 L1569.9,123.7 L1571.4,124.9 L1572.9,126.2 L1574.4,127.5 L1575.9,128.9 L1577.4,130.2 L1578.8,131.6 L1580.3,132.9 L1581.7,134.3 L1583.2,135.7 L1584.6,137.1 L1586,138.5 L1587.4,140 L1588.8,141.4 L1590.2,142.8 L1591.6,144.3 L1592.9,145.7 L1594.3,147.2 L1595.7,148.6 L1597.1,150 L1598.4,151.5 L1599.8,153 L1601.2,154.4 L1602.5,155.9 L1603.9,157.3 L1605.2,158.8 L1606.6,160.3 L1607.9,161.7 L1609.2,163.2 L1610.6,164.7 L1611.9,166.2 L1613.3,167.6 L1614.6,169.1 L1615.9,170.6 L1617.2,172.1 L1618.6,173.5 L1619.9,175 L1621.2,176.5 L1622.5,178 L1623.9,179.5 L1625.2,181 L1626.5,182.5 L1627.8,183.9 L1629.2,185.4 L1630.5,186.9 L1631.8,188.4 L1633.1,189.9 L1634.5,191.4 L1635.8,192.9 L1637.1,194.4 L1638.4,195.8 L1639.8,197.3 L1641.1,198.8 L1642.4,200.3 L1643.8,201.8 L1645.1,203.3 L1646.5,204.8 L1647.8,206.2 L1649.1,207.7 L1650.5,209.2 L1651.8,210.7 L1653.2,212.2 L1654.5,213.6 L1655.9,215.1 L1657.3,216.6 L1658.6,218 L1660,219.5 L1661.3,221 L1662.7,222.4 L1664.1,223.9 L1665.4,225.4 L1666.8,226.8 L1668.2,228.3 L1669.6,229.7 L1670.9,231.2 L1672.3,232.7 L1673.7,234.1 L1675.1,235.6 L1676.5,237 L1677.9,238.4 L1679.2,239.9 L1680.6,241.3 L1682,242.8 L1683.4,244.2 L1684.8,245.6 L1686.2,247 L1687.6,248.5 L1689,249.9 L1690.4,251.3 L1691.8,252.7 L1693.2,254.1 L1694.6,255.6 L1696,257 L1697.4,258.4 L1698.8,259.8 L1700.2,261.2 L1701.6,262.6 L1703,264 L1704.4,265.4 L1705.8,266.8 L1707.3,268.1 L1708.7,269.5 L1710.1,270.9 L1711.5,272.3 L1712.9,273.7 L1714.3,275.1 L1715.7,276.5 L1717.1,277.9 L1718.5,279.2 L1719.9,280.6 L1721.4,282 L1722.8,283.4 L1724.2,284.8 L1725.6,286.2 L1727,287.6 L1728.4,289 L1729.8,290.3 L1731.2,291.7 L1732.6,293.1 L1734,294.5 L1735.4,295.9 L1736.8,297.3 L1738.2,298.7 L1739.6,300.2 L1741,301.6 L1742.4,303 L1743.8,304.4 L1745.2,305.8 L1746.6,307.2 L1748,308.7 L1749.4,310.1 L1750.8,311.6 L1752.2,313 L1753.6,314.4 L1755,315.9 L1756.4,317.3 L1757.7,318.8 L1759.1,320.3 L1760.5,321.7 L1761.9,323.2 L1763.3,324.7 L1764.6,326.2 L1766,327.7 L1767.4,329.1 L1768.8,330.6 L1770.2,332.1 L1771.5,333.6 L1772.9,335 L1774.3,336.5 L1775.7,338 L1777.1,339.4 L1778.5,340.9 L1779.9,342.4 L1781.3,343.8 L1782.7,345.3 L1784.1,346.7 L1785.5,348.1 L1787,349.6 L1788.4,351 L1789.8,352.4 L1791.3,353.8 L1792.7,355.2 L1794.2,356.5 L1795.6,357.9 L1797.1,359.2 L1798.6,360.6 L1800,361.9 L1801.5,363.2 L1803,364.5 L1804.5,365.8 L1806.1,367.1 L1807.6,368.3 L1809.1,369.6 L1810.7,370.8 L1812.2,372 L1813.8,373.2 L1815.4,374.3 L1817,375.5 L1818.6,376.6 L1820.2,377.7 L1821.8,378.8 L1823.4,379.8 L1825.1,380.9 L1826.8,381.9 L1828.4,382.9 L1830.1,383.8 L1831.8,384.8 L1833.6,385.7 L1835.3,386.5 L1837.1,387.4 L1838.8,388.2 L1840.6,389 L1842.4,389.8 L1844.2,390.6 L1846.1,391.3 L1847.9,392 L1849.8,392.6 L1851.7,393.2 L1853.6,393.8 L1855.5,394.4 L1857.4,394.9 L1859.4,395.4 L1861.4,395.8 L1863.4,396.3 L1865.4,396.6 L1867.5,397 L1869.5,397.3 L1871.6,397.6 L1873.7,397.8 L1875.8,398 L1878,398.2 L1880.1,398.3" fill="none" stroke="#ff0000" stroke-width="1.0"/>
<path d="M1368.3,78.5 L1370.3,78.5 L1372.3,78.5 L1374.3,78.6 L1376.3,78.6 L1378.3,78.7 L1380.3,78.8 L1382.4,78.8 L1384.4,78.9 L1386.4,78.9 L1388.4,79 L1390.4,79.1 L1392.4,79.1 L1394.3,79.2 L1396.3,79.3 L1398.3,79.3 L1400.3,79.4 L1402.3,79.5 L1404.3,79.6 L1406.3,79.7 L1408.3,79.8 L1410.3,79.9 L1412.3,80 L1414.2,80.1 L1416.2,80.2 L1418.2,80.3 L1420.2,80.4 L1422.2,80.6 L1424.2,80.7 L1426.2,80.8 L1428.1,81 L1430.1,81.1 L1432.1,81.3 L1434.1,81.4 L1436.1,81.6 L1438.1,81.8 L1440.1,81.9 L1442,82.1 L1444,82.3 L1446,82.5 L1448,82.7 L1450,82.9 L1452,83.1 L1454,83.4 L1456,83.6 L1457.9,83.8 L1459.9,84.1 L1461.9,84.3 L1463.9,84.6 L1465.9,84.9 L1467.9,85.2 L1469.9,85.5 L1471.9,85.8 L1473.8,86.1 L1475.8,86.4 L1477.8,86.7 L1479.8,87.1 L1481.8,87.4 L1483.7,87.8 L1485.7,88.2 L1487.7,88.6 L1489.6,89 L1491.6,89.4 L1493.6,89.8 L1495.5,90.2 L1497.5,90.7 L1499.4,91.1 L1501.4,91.6 L1503.3,92.1 L1505.3,92.6 L1507.2,93.1 L1509.1,93.7 L1511.1,94.2 L1513,94.8 L1514.9,95.4 L1516.8,95.9 L1518.7,96.6 L1520.6,97.2 L1522.5,97.8 L1524.4,98.5 L1526.3,99.2 L1528.1,99.8 L1530,100.6 L1531.9,101.3 L1533.7,102 L1535.6,102.8 L1537.4,103.6 L1539.2,104.4 L1541,105.2 L1542.9,106 L1544.7,106.9 L1546.4,107.8 L1548.2,108.7 L1550,109.6 L1551.7,110.5 L1553.5,111.5 L1555.2,112.5 L1556.9,113.5 L1558.6,114.5 L1560.3,115.6 L1562,116.7 L1563.6,117.8 L1565.3,118.9 L1566.9,120.1 L1568.5,121.2 L1570,122.4 L1571.6,123.7 L1573.2,124.9 L1574.7,126.2 L1576.2,127.5 L1577.7,128.9 L1579.2,130.2 L1580.6,131.6 L1582.1,132.9 L1583.6,134.3 L1585,135.7 L1586.4,137.1 L1587.8,138.5 L1589.3,140 L1590.7,141.4 L1592.1,142.8 L1593.5,144.3 L1594.9,145.7 L1596.2,147.2 L1597.6,148.6 L1599,150 L1600.4,151.5 L1601.8,153 L1603.1,154.4 L1604.5,155.9 L1605.8,157.3 L1607.2,158.8 L1608.6,160.3 L1609.9,161.7 L1611.3,163.2 L1612.6,164.7 L1614,166.2 L1615.3,167.6 L1616.6,169.1 L1618,170.6 L1619.3,172.1 L1620.7,173.5 L1622,175 L1623.3,176.5 L1624.7,178 L1626,179.5 L1627.3,181 L1628.7,182.5 L1630,183.9 L1631.3,185.4 L1632.7,186.9 L1634,188.4 L1635.3,189.9 L1636.7,191.4 L1638,192.9 L1639.3,194.4 L1640.7,195.8 L1642,197.3 L1643.4,198.8 L1644.7,200.3 L1646.1,201.8 L1647.4,203.3 L1648.8,204.8 L1650.1,206.2 L1651.5,207.7 L1652.8,209.2 L1654.2,210.7 L1655.5,212.2 L1656.9,213.6 L1658.3,215.1 L1659.6,216.6 L1661,218 L1662.4,219.5 L1663.8,221 L1665.1,222.4 L1666.5,223.9 L1667.9,225.4 L1669.3,226.8 L1670.7,228.3 L1672,229.7 L1673.4,231.2 L1674.8,232.7 L1676.2,234.1 L1677.6,235.6 L1679,237 L1680.4,238.4 L1681.8,239.9 L1683.2,241.3 L1684.6,242.8 L1686,244.2 L1687.4,245.6 L1688.8,247 L1690.2,248.5 L1691.6,249.9 L1693,251.3 L1694.4,252.7 L1695.8,254.1 L1697.2,255.6 L1698.6,257 L1700.1,258.4 L1701.5,259.8 L1702.9,261.2 L1704.3,262.6 L1705.7,264 L1707.1,265.4 L1708.6,266.8 L1710,268.1 L1711.4,269.5 L1712.8,270.9 L1714.2,272.3 L1715.6,273.7 L1717.1,275.1 L1718.5,276.5 L1719.9,277.9 L1721.3,279.2 L1722.7,280.6 L1724.2,282 L1725.6,283.4 L1727,284.8 L1728.4,286.2 L1729.8,287.6 L1731.3,289 L1732.7,290.3 L1734.1,291.7 L1735.5,293.1 L1736.9,294.5 L1738.3,295.9 L1739.7,297.3 L1741.2,298.7 L1742.6,300.2 L1744,301.6 L1745.4,303 L1746.8,304.4 L1748.2,305.8 L1749.6,307.2 L1751,308.7 L1752.4,310.1 L1753.8,311.6 L1755.2,313 L1756.6,314.4 L1758,315.9 L1759.4,317.3 L1760.8,318.8 L1762.2,320.3 L1763.6,321.7 L1765,323.2 L1766.4,324.7 L1767.7,326.2 L1769.1,327.7 L1770.5,329.1 L1771.9,330.6 L1773.3,332.1 L1774.7,333.6 L1776.1,335 L1777.5,336.5 L1778.9,338 L1780.3,339.4 L1781.7,340.9 L1783.1,342.4 L1784.5,343.8 L1785.9,345.3 L1787.4,346.7 L1788.8,348.1 L1790.2,349.6 L1791.7,351 L1793.1,352.4 L1794.6,353.8 L1796,355.2 L1797.5,356.5 L1798.9,357.9 L1800.4,359.2 L1801.9,360.6 L1803.4,361.9 L1804.9,363.2 L1806.4,364.5 L1807.9,365.8 L1809.4,367.1 L1811,368.3 L1812.5,369.6 L1814.1,370.8 L1815.6,372 L1817.2,373.2 L1818.8,374.3 L1820.4,375.5 L1822,376.6 L1823.6,377.7 L1825.3,378.8 L1826.9,379.8 L1828.6,380.9 L1830.2,381.9 L1831.9,382.9 L1833.6,383.8 L1835.3,384.8 L1837.1,385.7 L1838.8,386.5 L1840.6,387.4 L1842.4,388.2 L1844.1,389 L1846,389.8 L1847.8,390.6 L1849.6,391.3 L1851.5,392 L1853.3,392.6 L1855.2,393.2 L1857.1,393.8 L1859.1,394.4 L1861,394.9 L1863,395.4 L1865,395.8 L1867,396.3 L1869,396.6 L1871,397 L1873.1,397.3 L1875.2,397.6 L1877.3,397.8 L1879.4,398 L1881.6,398.2 L1883.7,398.3" fill="none" stroke="#ff0000" stroke-width="1.0"/>
<path d="M1379.2,78.4 L1381.2,78.5 L1383.3,78.5 L1385.3,78.6 L1387.3,78.6 L1389.3,78.7 L1391.3,78.8 L1393.3,78.8 L1395.3,78.9 L1397.3,78.9 L1399.3,79 L1401.3,79.1 L1403.3,79.1 L1405.3,79.2 L1407.3,79.2 L1409.3,79.3 L1411.3,79.3 L1413.2,79.4 L1415.2,79.4 L1417.2,79.5 L1419.2,79.6 L1421.2,79.6 L1423.2,79.7 L1425.2,79.7 L1427.2,79.8 L1429.2,79.9 L1431.2,79.9 L1433.2,80 L1435.2,80.1 L1437.2,80.1 L1439.2,80.2 L1441.2,80.3 L1443.2,80.4 L1445.2,80.5 L1447.2,80.5 L1449.2,80.6 L1451.1,80.7 L1453.1,80.8 L1455.1,80.9 L1457.1,81 L1459.1,81.1 L1461.1,81.3 L1463.1,81.4 L1465.1,81.5 L1467.1,81.6 L1469,81.7 L1471,81.9 L1473,82 L1475,82.2 L1477,82.3 L1479,82.5 L1481,82.6 L1483,82.8 L1484.9,83 L1486.9,83.2 L1488.9,83.3 L1490.9,83.5 L1492.9,83.7 L1494.9,83.9 L1496.8,84.2 L1498.8,84.4 L1500.8,84.6 L1502.8,84.8 L1504.8,85.1 L1506.7,85.3 L1508.7,85.6 L1510.7,85.9 L1512.7,86.1 L1514.7,86.4 L1516.6,86.7 L1518.6,87 L1520.6,87.3 L1522.6,87.6 L1524.6,88 L1526.5,88.3 L1528.5,88.6 L1530.5,89 L1532.5,89.3 L1534.4,89.7 L1536.4,90.1 L1538.4,90.5 L1540.3,90.9 L1542.3,91.3 L1544.3,91.8 L1546.2,92.2 L1548.2,92.6 L1550.1,93.1 L1552.1,93.6 L1554,94.1 L1556,94.6 L1557.9,95.1 L1559.9,95.6 L1561.8,96.2 L1563.7,96.7 L1565.6,97.3 L1567.6,97.9 L1569.5,98.5 L1571.4,99.1 L1573.3,99.8 L1575.1,100.4 L1577,101.1 L1578.9,101.8 L1580.8,102.5 L1582.6,103.2 L1584.5,104 L1586.3,104.7 L1588.1,105.5 L1590,106.3 L1591.8,107.1 L1593.6,108 L1595.4,108.8 L1597.2,109.7 L1598.9,110.6 L1600.7,111.5 L1602.4,112.4 L1604.2,113.4 L1605.9,114.4 L1607.6,115.4 L1609.3,116.4 L1611,117.4 L1612.7,118.5 L1614.4,119.6 L1616,120.6 L1617.7,121.8 L1619.3,122.9 L1620.9,124 L1622.5,125.2 L1624.1,126.4 L1625.7,127.6 L1627.3,128.8 L1628.8,130 L1630.4,131.3 L1631.9,132.6 L1633.4,133.8 L1634.9,135.1 L1636.4,136.5 L1637.9,137.8 L1639.4,139.1 L1640.8,140.5 L1642.3,141.9 L1643.7,143.3 L1645.1,144.7 L1646.5,146.1 L1647.8,147.6 L1649.2,149 L1650.6,150.5 L1651.9,152 L1653.2,153.5 L1654.5,155 L1655.8,156.5 L1657.1,158 L1658.3,159.6 L1659.6,161.1 L1660.8,162.7 L1662,164.3 L1663.2,165.9 L1664.4,167.5 L1665.5,169.1 L1666.7,170.7 L1667.8,172.3 L1668.9,174 L1670,175.7 L1671.1,177.3 L1672.2,179 L1673.3,180.7 L1674.3,182.4 L1675.4,184.1 L1676.4,185.8 L1677.4,187.5 L1678.4,189.2 L1679.4,191 L1680.4,192.7 L1681.4,194.5 L1682.3,196.2 L1683.3,198 L1684.2,199.7 L1685.2,201.5 L1686.1,203.3 L1687,205.1 L1687.9,206.9 L1688.8,208.7 L1689.7,210.5 L1690.6,212.3 L1691.5,214.1 L1692.3,215.9 L1693.2,217.7 L1694.1,219.5 L1694.9,221.3 L1695.8,223.1 L1696.6,225 L1697.4,226.8 L1698.3,228.6 L1699.1,230.4 L1699.9,232.3 L1700.7,234.1 L1701.5,235.9 L1702.3,237.7 L1703.1,239.6 L1704,241.4 L1704.8,243.2 L1705.6,245.1 L1706.4,246.9 L1707.1,248.7 L1707.9,250.5 L1708.7,252.3 L1709.5,254.2 L1710.3,256 L1711.1,257.8 L1711.9,259.6 L1712.7,261.4 L1713.5,263.3 L1714.3,265.1 L1715.1,266.9 L1715.8,268.7 L1716.6,270.5 L1717.4,272.4 L1718.2,274.2 L1719,276 L1719.8,277.8 L1720.6,279.6 L1721.4,281.4 L1722.2,283.2 L1723,285.1 L1723.8,286.9 L1724.7,288.7 L1725.5,290.5 L1726.3,292.3 L1727.1,294.1 L1727.9,295.9 L1728.8,297.7 L1729.6,299.5 L1730.4,301.3 L1731.3,303.2 L1732.1,305 L1733,306.8 L1733.9,308.6 L1734.7,310.4 L1735.6,312.2 L1736.5,314 L1737.4,315.8 L1738.2,317.6 L1739.1,319.4 L1740,321.2 L1741,323 L1741.9,324.8 L1742.8,326.6 L1743.7,328.4 L1744.7,330.2 L1745.7,332 L1746.6,333.8 L1747.6,335.6 L1748.6,337.3 L1749.6,339.1 L1750.6,340.8 L1751.6,342.6 L1752.7,344.3 L1753.7,346 L1754.8,347.7 L1755.9,349.4 L1757,351.1 L1758.1,352.7 L1759.3,354.4 L1760.4,356 L1761.6,357.6 L1762.8,359.2 L1764,360.8 L1765.2,362.3 L1766.5,363.9 L1767.7,365.4 L1769,366.9 L1770.3,368.3 L1771.7,369.8 L1773,371.2 L1774.4,372.6 L1775.8,373.9 L1777.2,375.2 L1778.7,376.5 L1780.2,377.8 L1781.7,379.1 L1783.2,380.3 L1784.8,381.5 L1786.3,382.6 L1787.9,383.7 L1789.5,384.8 L1791.2,385.8 L1792.9,386.9 L1794.6,387.8 L1796.3,388.8 L1798,389.6 L1799.8,390.5 L1801.5,391.3 L1803.3,392.1 L1805.2,392.8 L1807,393.5 L1808.9,394.1 L1810.8,394.7 L1812.7,395.3 L1814.6,395.8 L1816.6,396.3 L1818.5,396.7 L1820.5,397 L1822.5,397.3 L1824.6,397.6 L1826.6,397.8 L1828.7,397.9 L1830.8,398 L1832.9,398.1 L1835,398.1 L1837.2,398 L1839.3,397.9 L1841.5,397.7 L1843.7,397.4" fill="none" stroke="#0080ff" stroke-width="1.0"/>
<path d="M1380.7,78.4 L1382.7,78.5 L1384.7,78.5 L1386.7,78.6 L1388.7,78.6 L1390.7,78.7 L1392.7,78.8 L1394.7,78.8 L1396.7,78.9 L1398.7,78.9 L1400.7,79 L1402.7,79.1 L1404.7,79.1 L1406.7,79.2 L1408.7,79.2 L1410.7,79.3 L1412.7,79.3 L1414.7,79.4 L1416.7,79.4 L1418.7,79.5 L1420.7,79.6 L1422.7,79.6 L1424.7,79.7 L1426.7,79.7 L1428.7,79.8 L1430.7,79.9 L1432.7,79.9 L1434.7,80 L1436.7,80.1 L1438.7,80.1 L1440.7,80.2 L1442.7,80.3 L1444.6,80.4 L1446.6,80.5 L1448.6,80.5 L1450.6,80.6 L1452.6,80.7 L1454.6,80.8 L1456.6,80.9 L1458.6,81 L1460.6,81.1 L1462.6,81.3 L1464.6,81.4 L1466.5,81.5 L1468.5,81.6 L1470.5,81.7 L1472.5,81.9 L1474.5,82 L1476.5,82.2 L1478.5,82.3 L1480.5,82.5 L1482.5,82.6 L1484.4,82.8 L1486.4,83 L1488.4,83.2 L1490.4,83.3 L1492.4,83.5 L1494.4,83.7 L1496.4,83.9 L1498.3,84.2 L1500.3,84.4 L1502.3,84.6 L1504.3,84.8 L1506.3,85.1 L1508.3,85.3 L1510.2,85.6 L1512.2,85.9 L1514.2,86.1 L1516.2,86.4 L1518.2,86.7 L1520.1,87 L1522.1,87.3 L1524.1,87.6 L1526.1,88 L1528.1,88.3 L1530,88.6 L1532,89 L1534,89.3 L1536,89.7 L1537.9,90.1 L1539.9,90.5 L1541.9,90.9 L1543.8,91.3 L1545.8,91.8 L1547.8,92.2 L1549.7,92.6 L1551.7,93.1 L1553.7,93.6 L1555.6,94.1 L1557.6,94.6 L1559.5,95.1 L1561.4,95.6 L1563.4,96.2 L1565.3,96.7 L1567.2,97.3 L1569.1,97.9 L1571.1,98.5 L1573,99.1 L1574.9,99.8 L1576.7,100.4 L1578.6,101.1 L1580.5,101.8 L1582.4,102.5 L1584.2,103.2 L1586.1,104 L1587.9,104.7 L1589.8,105.5 L1591.6,106.3 L1593.4,107.1 L1595.2,108 L1597,108.8 L1598.8,109.7 L1600.6,110.6 L1602.4,111.5 L1604.1,112.4 L1605.9,113.4 L1607.6,114.4 L1609.3,115.4 L1611,116.4 L1612.7,117.4 L1614.4,118.5 L1616.1,119.6 L1617.8,120.6 L1619.4,121.8 L1621.1,122.9 L1622.7,124 L1624.3,125.2 L1625.9,126.4 L1627.5,127.6 L1629.1,128.8 L1630.6,130 L1632.2,131.3 L1633.7,132.6 L1635.3,133.8 L1636.8,135.1 L1638.3,136.5 L1639.8,137.8 L1641.2,139.1 L1642.7,140.5 L1644.1,141.9 L1645.6,143.3 L1647,144.7 L1648.4,146.1 L1649.8,147.6 L1651.1,149 L1652.5,150.5 L1653.8,152 L1655.2,153.5 L1656.5,155 L1657.8,156.5 L1659.1,158 L1660.3,159.6 L1661.6,161.1 L1662.8,162.7 L1664,164.3 L1665.2,165.9 L1666.4,167.5 L1667.6,169.1 L1668.8,170.7 L1669.9,172.3 L1671,174 L1672.1,175.7 L1673.3,177.3 L1674.3,179 L1675.4,180.7 L1676.5,182.4 L1677.5,184.1 L1678.6,185.8 L1679.6,187.5 L1680.6,189.2 L1681.6,191 L1682.6,192.7 L1683.6,194.5 L1684.6,196.2 L1685.5,198 L1686.5,199.7 L1687.4,201.5 L1688.4,203.3 L1689.3,205.1 L1690.2,206.9 L1691.1,208.7 L1692,210.5 L1692.9,212.3 L1693.8,214.1 L1694.7,215.9 L1695.6,217.7 L1696.5,219.5 L1697.3,221.3 L1698.2,223.1 L1699,225 L1699.9,226.8 L1700.7,228.6 L1701.6,230.4 L1702.4,232.3 L1703.2,234.1 L1704,235.9 L1704.9,237.7 L1705.7,239.6 L1706.5,241.4 L1707.3,243.2 L1708.1,245.1 L1708.9,246.9 L1709.7,248.7 L1710.5,250.5 L1711.4,252.3 L1712.2,254.2 L1713,256 L1713.8,257.8 L1714.6,259.6 L1715.4,261.4 L1716.2,263.3 L1717,265.1 L1717.8,266.9 L1718.6,268.7 L1719.4,270.5 L1720.2,272.4 L1721,274.2 L1721.8,276 L1722.6,277.8 L1723.4,279.6 L1724.2,281.4 L1725,283.2 L1725.9,285.1 L1726.7,286.9 L1727.5,288.7 L1728.3,290.5 L1729.2,292.3 L1730,294.1 L1730.8,295.9 L1731.7,297.7 L1732.5,299.5 L1733.4,301.3 L1734.2,303.2 L1735.1,305 L1736,306.8 L1736.8,308.6 L1737.7,310.4 L1738.6,312.2 L1739.5,314 L1740.4,315.8 L1741.3,317.6 L1742.2,319.4 L1743.1,321.2 L1744,323 L1745,324.8 L1745.9,326.6 L1746.9,328.4 L1747.8,330.2 L1748.8,332 L1749.8,333.8 L1750.8,335.6 L1751.8,337.3 L1752.8,339.1 L1753.8,340.8 L1754.9,342.6 L1755.9,344.3 L1757,346 L1758.1,347.7 L1759.2,349.4 L1760.3,351.1 L1761.4,352.7 L1762.6,354.4 L1763.7,356 L1764.9,357.6 L1766.1,359.2 L1767.3,360.8 L1768.6,362.3 L1769.8,363.9 L1771.1,365.4 L1772.4,366.9 L1773.7,368.3 L1775.1,369.8 L1776.4,371.2 L1777.8,372.6 L1779.2,373.9 L1780.7,375.2 L1782.1,376.5 L1783.6,377.8 L1785.1,379.1 L1786.7,380.3 L1788.2,381.5 L1789.8,382.6 L1791.4,383.7 L1793,384.8 L1794.7,385.8 L1796.4,386.9 L1798.1,387.8 L1799.8,388.8 L1801.5,389.6 L1803.3,390.5 L1805.1,391.3 L1806.9,392.1 L1808.7,392.8 L1810.6,393.5 L1812.4,394.1 L1814.3,394.7 L1816.3,395.3 L1818.2,395.8 L1820.1,396.3 L1822.1,396.7 L1824.1,397 L1826.1,397.3 L1828.2,397.6 L1830.2,397.8 L1832.3,397.9 L1834.4,398 L1836.5,398.1 L1838.6,398.1 L1840.8,398 L1842.9,397.9 L1845.1,397.7 L1847.3,397.4" fill="none" stroke="#0080ff" stroke-width="1.0"/>
<path d="M296,630.7 L297.5,630.7 L299,630.7 L300.5,630.7 L302,630.7 L303.5,630.7 L305,630.7 L306.5,630.6 L308,630.6 L309.5,630.6 L311,630.6 L312.5,630.6 L314,630.6 L315.5,630.6 L317,630.6 L318.5,630.6 L320,630.6 L321.5,630.6 L323,630.6 L324.5,630.6 L326,630.6 L327.5,630.6 L329,630.6 L330.4,630.6 L331.9,630.6 L333.4,630.6 L334.9,630.6 L336.4,630.6 L337.9,630.7 L339.4,630.7 L340.9,630.7 L342.4,630.7 L343.9,630.7 L345.4,630.7 L346.9,630.7 L348.4,630.7 L349.9,630.7 L351.4,630.7 L352.9,630.8 L354.4,630.8 L355.9,630.8 L357.4,630.8 L358.9,630.8 L360.4,630.8 L361.9,630.9 L363.4,630.9 L364.9,630.9 L366.4,630.9 L367.9,631 L369.4,631 L370.9,631 L372.4,631.1 L373.9,631.1 L375.4,631.1 L376.9,631.2 L378.4,631.2 L379.9,631.3 L381.4,631.3 L382.9,631.4 L384.4,631.4 L385.9,631.4 L387.4,631.5 L388.9,631.6 L390.4,631.6 L391.8,631.7 L393.3,631.7 L394.8,631.8 L396.3,631.9 L397.8,631.9 L399.3,632 L400.8,632.1 L402.3,632.2 L403.8,632.2 L405.3,632.3 L406.8,632.4 L408.3,632.5 L409.8,632.6 L411.3,632.7 L412.8,632.8 L414.3,632.9 L415.8,633 L417.2,633.1 L418.7,633.2 L420.2,633.3 L421.7,633.4 L423.2,633.5 L424.7,633.6 L426.2,633.8 L427.7,633.9 L429.2,634 L430.7,634.1 L432.2,634.3 L433.7,634.4 L435.1,634.6 L436.6,634.7 L438.1,634.8 L439.6,635 L441.1,635.2 L442.6,635.3 L444.1,635.5 L445.6,635.6 L447.1,635.8 L448.5,636 L450,636.2 L451.5,636.3 L453,636.5 L454.5,636.7 L456,636.9 L457.5,637.1 L458.9,637.3 L460.4,637.5 L461.9,637.7 L463.4,637.9 L464.9,638.1 L466.4,638.3 L467.8,638.6 L469.3,638.8 L470.8,639 L472.3,639.2 L473.8,639.5 L475.2,639.7 L476.7,639.9 L478.2,640.2 L479.7,640.4 L481.2,640.7 L482.6,640.9 L484.1,641.2 L485.6,641.4 L487.1,641.7 L488.5,642 L490,642.2 L491.5,642.5 L493,642.8 L494.4,643.1 L495.9,643.4 L497.4,643.6 L498.8,643.9 L500.3,644.2 L501.8,644.5 L503.3,644.8 L504.7,645.1 L506.2,645.4 L507.7,645.7 L509.1,646 L510.6,646.4 L512.1,646.7 L513.5,647 L515,647.3 L516.4,647.7 L517.9,648 L519.4,648.3 L520.8,648.7 L522.3,649 L523.7,649.4 L525.2,649.7 L526.7,650.1 L528.1,650.4 L529.6,650.8 L531,651.1 L532.5,651.5 L533.9,651.9 L535.4,652.2 L536.8,652.6 L538.3,653 L539.7,653.4 L541.2,653.7 L542.6,654.1 L544.1,654.5 L545.5,654.9 L547,655.3 L548.4,655.7 L549.8,656.1 L551.3,656.5 L552.7,656.9 L554.2,657.3 L555.6,657.8 L557,658.2 L558.5,658.6 L559.9,659 L561.3,659.5 L562.8,659.9 L564.2,660.3 L565.6,660.8 L567.1,661.2 L568.5,661.6 L569.9,662.1 L571.4,662.5 L572.8,663 L574.2,663.4 L575.6,663.9 L577,664.4 L578.5,664.8 L579.9,665.3 L581.3,665.8 L582.7,666.3 L584.1,666.7 L585.5,667.2 L587,667.7 L588.4,668.2 L589.8,668.7 L591.2,669.2 L592.6,669.7 L594,670.3 L595.4,670.8 L596.8,671.3 L598.2,671.8 L599.6,672.4 L601,672.9 L602.3,673.5 L603.7,674 L605.1,674.6 L606.5,675.1 L607.9,675.7 L609.3,676.3 L610.6,676.9 L612,677.5 L613.4,678.1 L614.7,678.7 L616.1,679.3 L617.5,679.9 L618.8,680.5 L620.2,681.2 L621.5,681.8 L622.9,682.5 L624.2,683.1 L625.5,683.8 L626.9,684.5 L628.2,685.1 L629.5,685.8 L630.9,686.5 L632.2,687.2 L633.5,687.9 L634.8,688.7 L636.1,689.4 L637.4,690.1 L638.7,690.9 L640,691.7 L641.3,692.4 L642.6,693.2 L643.8,694 L645.1,694.8 L646.3,695.6 L647.6,696.4 L648.8,697.3 L650,698.1 L651.3,699 L652.5,699.8 L653.7,700.7 L654.9,701.6 L656.1,702.5 L657.3,703.4 L658.4,704.3 L659.6,705.2 L660.8,706.1 L661.9,707.1 L663.1,708 L664.3,709 L665.4,709.9 L666.5,710.9 L667.7,711.9 L668.8,712.9 L669.9,713.9 L671,714.8 L672.2,715.8 L673.3,716.8 L674.4,717.8 L675.5,718.9 L676.6,719.9 L677.7,720.9 L678.8,721.9 L679.9,722.9 L681,724 L682.1,725 L683.2,726 L684.2,727 L685.3,728.1 L686.4,729.1 L687.5,730.2 L688.5,731.2 L689.6,732.3 L690.7,733.3 L691.7,734.4 L692.8,735.4 L693.8,736.5 L694.9,737.6 L695.9,738.6 L696.9,739.7 L697.9,740.8 L698.9,741.9 L699.9,743 L700.9,744.1 L701.9,745.3 L702.9,746.4 L703.9,747.5 L704.8,748.7 L705.8,749.8 L706.7,751 L707.6,752.1 L708.5,753.3 L709.5,754.5 L710.4,755.7 L711.3,756.9 L712.2,758 L713.1,759.2 L714,760.4 L714.9,761.6 L715.7,762.8 L716.6,764 L717.5,765.2 L718.4,766.4 L719.3,767.6 L720.2,768.8 L721.1,770 L722,771.2 L722.9,772.4 L723.7,773.6 L724.6,774.8 L725.5,776 L726.4,777.2 L727.3,778.4 L728.2,779.7 L729.1,780.9 L729.9,782.1 L730.8,783.3 L731.7,784.5 L732.6,785.7 L733.5,786.9 L734.3,788.1 L735.2,789.3 L736.1,790.5 L737,791.8 L737.8,793 L738.7,794.2 L739.6,795.4 L740.4,796.6 L741.3,797.9 L742.2,799.1 L743,800.3 L743.9,801.5 L744.7,802.7 L745.6,804 L746.5,805.2 L747.3,806.4 L748.2,807.6 L749,808.9 L749.9,810.1 L750.7,811.3 L751.6,812.6 L752.4,813.8 L753.3,815 L754.1,816.3 L755,817.5 L755.8,818.7 L756.7,820 L757.5,821.2 L758.3,822.4 L759.2,823.7 L760,824.9 L760.9,826.1 L761.7,827.4 L762.5,828.6 L763.4,829.8 L764.2,831.1 L765,832.3 L765.9,833.6 L766.7,834.8 L767.6,836 L768.4,837.3 L769.2,838.5 L770.1,839.8 L770.9,841 L771.7,842.2 L772.6,843.5 L773.4,844.7 L774.3,845.9 L775.1,847.2 L776,848.4 L776.8,849.6 L777.7,850.8 L778.5,852.1 L779.4,853.3 L780.2,854.5 L781.1,855.7 L782,856.9 L782.8,858.2 L783.7,859.4 L784.6,860.6 L785.5,861.8 L786.3,863 L787.2,864.2 L788.1,865.4 L789,866.6 L789.9,867.8 L790.8,869 L791.7,870.2 L792.6,871.3 L793.5,872.5 L794.4,873.7 L795.4,874.9 L796.3,876 L797.2,877.2 L798.2,878.4 L799.1,879.5 L800.1,880.7 L801,881.8 L802,883 L802.9,884.1 L803.9,885.3 L804.9,886.4 L805.8,887.5 L806.8,888.7 L807.8,889.8 L808.8,890.9 L809.8,892 L810.8,893.1 L811.9,894.2 L812.9,895.3 L813.9,896.4 L814.9,897.5 L816,898.6 L817,899.6 L818.1,900.7 L819.2,901.8 L820.2,902.8 L821.3,903.8 L822.4,904.9 L823.5,905.9 L824.6,906.9 L825.7,907.9 L826.9,908.9 L828,909.8 L829.1,910.8 L830.3,911.8 L831.5,912.7 L832.6,913.6 L833.8,914.6 L835,915.5 L836.2,916.3 L837.4,917.2 L838.6,918.1 L839.9,918.9 L841.1,919.8 L842.4,920.6 L843.6,921.4 L844.9,922.2 L846.2,923 L847.5,923.8 L848.7,924.5 L850.1,925.3 L851.4,926 L852.7,926.7 L854,927.4 L855.3,928.1 L856.7,928.8 L858,929.4 L859.4,930.1 L860.7,930.7 L862.1,931.4 L863.5,932 L864.9,932.6 L866.2,933.1 L867.6,933.7 L869,934.3 L870.4,934.8 L871.8,935.4 L873.2,935.9 L874.6,936.4 L876,936.9 L877.5,937.4 L878.9,937.8 L880.3,938.3 L881.7,938.8 L883.2,939.2 L884.6,939.6 L886,940 L887.5,940.4 L888.9,940.8 L890.4,941.2 L891.8,941.5 L893.3,941.9 L894.7,942.2 L896.2,942.5 L897.6,942.9 L899.1,943.2 L900.5,943.5 L902,943.7 L903.5,944 L904.9,944.3 L906.4,944.5 L907.9,944.8 L909.3,945 L910.8,945.2 L912.3,945.4 L913.8,945.6 L915.2,945.8 L916.7,946 L918.2,946.2 L919.7,946.4 L921.2,946.5 L922.6,946.7 L924.1,946.8 L925.6,946.9 L927.1,947.1 L928.6,947.2 L930.1,947.3 L931.6,947.4 L933.1,947.5 L934.6,947.6 L936.1,947.7 L937.6,947.8 L939,947.8 L940.5,947.9 L942,948 L943.5,948 L945,948.1 L946.5,948.1 L948,948.1 L949.6,948.2 L951.1,948.2 L952.6,948.2 L954.1,948.2 L955.6,948.2 L957.1,948.2 L958.6,948.2 L960.1,948.2 L961.6,948.2 L963.1,948.2 L964.6,948.2 L966.1,948.2 L967.6,948.2 L969.1,948.2 L970.6,948.1 L972.1,948.1 L973.6,948.1 L975.2,948 L976.7,948 L978.2,948 L979.7,947.9 L981.2,947.9 L982.7,947.8 L984.2,947.8 L985.7,947.8 L987.2,947.7 L988.7,947.7 L990.2,947.6 L991.7,947.6 L993.2,947.5 L994.7,947.5 L996.2,947.4 L997.7,947.4 L999.2,947.3 L1000.7,947.3 L1002.2,947.2 L1003.7,947.2 L1005.2,947.1 L1006.7,947.1 L1008.2,947 L1009.7,947 L1011.2,947 L1012.7,946.9 L1014.2,946.9 L1015.7,946.8 L1017.2,946.8 L1018.7,946.8 L1020.2,946.8 L1021.6,946.7 L1023.1,946.7 L1024.6,946.7 L1026.1,946.7 L1027.6,946.7 L1029.1,946.7 L1030.5,946.7 L1032,946.7 L1033.5,946.7 L1035,946.7 L1036.4,946.7 L1037.9,946.7 L1039.4,946.7 L1039.4,948.7 L1037.9,948.6 L1036.4,948.6 L1035,948.6 L1033.5,948.6 L1032,948.6 L1030.5,948.6 L1029,948.6 L1027.6,948.6 L1026.1,948.6 L1024.6,948.6 L1023.1,948.6 L1021.6,948.6 L1020.1,948.6 L1018.6,948.7 L1017.2,948.7 L1015.7,948.7 L1014.2,948.8 L1012.7,948.8 L1011.2,948.8 L1009.7,948.9 L1008.2,948.9 L1006.7,948.9 L1005.2,949 L1003.7,949 L1002.2,949.1 L1000.7,949.1 L999.2,949.2 L997.7,949.2 L996.2,949.3 L994.7,949.3 L993.2,949.3 L991.7,949.4 L990.2,949.4 L988.7,949.5 L987.2,949.5 L985.6,949.6 L984.1,949.6 L982.6,949.7 L981.1,949.7 L979.6,949.7 L978.1,949.8 L976.6,949.8 L975.1,949.9 L973.6,949.9 L972.1,949.9 L970.6,950 L969.1,950 L967.6,950 L966.1,950 L964.5,950 L963,950 L961.5,950.1 L960,950.1 L958.5,950.1 L957,950.1 L955.5,950.1 L954,950 L952.5,950 L951,950 L949.5,950 L948,950 L946.5,949.9 L945,949.9 L943.5,949.8 L942,949.8 L940.5,949.7 L939,949.7 L937.5,949.6 L936,949.5 L934.5,949.5 L933,949.4 L931.5,949.3 L930,949.2 L928.5,949.1 L927,948.9 L925.6,948.8 L924.1,948.7 L922.6,948.5 L921.1,948.4 L919.6,948.2 L918.1,948.1 L916.6,947.9 L915.2,947.7 L913.7,947.5 L912.2,947.3 L910.7,947.1 L909.3,946.9 L907.8,946.7 L906.3,946.4 L904.9,946.2 L903.4,945.9 L901.9,945.7 L900.5,945.4 L899,945.1 L897.5,944.8 L896.1,944.5 L894.6,944.2 L893.2,943.9 L891.7,943.5 L890.3,943.2 L888.8,942.8 L887.4,942.4 L885.9,942 L884.5,941.6 L883,941.2 L881.6,940.8 L880.2,940.3 L878.7,939.9 L877.3,939.4 L875.9,939 L874.5,938.5 L873.1,938 L871.6,937.5 L870.2,936.9 L868.8,936.4 L867.4,935.8 L866,935.3 L864.6,934.7 L863.3,934.1 L861.9,933.5 L860.5,932.9 L859.1,932.3 L857.8,931.6 L856.4,931 L855.1,930.3 L853.7,929.7 L852.4,929 L851,928.3 L849.7,927.6 L848.4,926.8 L847.1,926.1 L845.8,925.4 L844.5,924.6 L843.2,923.8 L841.9,923 L840.7,922.2 L839.4,921.4 L838.1,920.6 L836.9,919.8 L835.7,918.9 L834.4,918.1 L833.2,917.2 L832,916.3 L830.8,915.4 L829.6,914.5 L828.5,913.6 L827.3,912.6 L826.1,911.7 L825,910.7 L823.8,909.8 L822.7,908.8 L821.6,907.8 L820.4,906.8 L819.3,905.8 L818.2,904.8 L817.1,903.8 L816,902.8 L814.9,901.7 L813.9,900.7 L812.8,899.7 L811.7,898.6 L810.7,897.5 L809.6,896.5 L808.6,895.4 L807.5,894.3 L806.5,893.2 L805.5,892.2 L804.5,891.1 L803.4,890 L802.4,888.9 L801.4,887.8 L800.4,886.7 L799.4,885.6 L798.4,884.4 L797.5,883.3 L796.5,882.2 L795.5,881.1 L794.5,879.9 L793.6,878.8 L792.6,877.7 L791.7,876.5 L790.7,875.4 L789.8,874.2 L788.8,873.1 L787.9,871.9 L787,870.7 L786.1,869.5 L785.1,868.4 L784.2,867.2 L783.3,866 L782.4,864.8 L781.5,863.6 L780.6,862.5 L779.7,861.3 L778.8,860.1 L777.9,858.9 L777,857.7 L776.1,856.5 L775.2,855.3 L774.3,854.1 L773.4,852.9 L772.5,851.7 L771.6,850.6 L770.7,849.4 L769.8,848.2 L768.9,847 L768,845.8 L767.1,844.5 L766.2,843.3 L765.3,842.1 L764.4,840.9 L763.5,839.7 L762.7,838.5 L761.8,837.3 L760.9,836.1 L760,834.9 L759.1,833.7 L758.2,832.5 L757.4,831.3 L756.5,830 L755.6,828.8 L754.7,827.6 L753.8,826.4 L753,825.2 L752.1,824 L751.2,822.8 L750.3,821.6 L749.4,820.4 L748.5,819.2 L747.6,818 L746.8,816.8 L745.9,815.5 L745,814.3 L744.1,813.1 L743.2,811.9 L742.3,810.7 L741.4,809.5 L740.5,808.3 L739.6,807.1 L738.7,805.9 L737.8,804.7 L736.9,803.5 L736,802.3 L735.1,801.2 L734.2,800 L733.3,798.8 L732.4,797.6 L731.5,796.4 L730.6,795.2 L729.7,794 L728.8,792.8 L727.9,791.6 L727,790.4 L726.1,789.3 L725.1,788.1 L724.2,786.9 L723.3,785.7 L722.4,784.5 L721.5,783.4 L720.5,782.2 L719.6,781 L718.7,779.8 L717.8,778.7 L716.8,777.5 L715.9,776.3 L715,775.1 L714,774 L713.1,772.8 L712.2,771.6 L711.2,770.5 L710.3,769.3 L709.3,768.2 L708.4,767 L707.5,765.8 L706.5,764.7 L705.5,763.5 L704.6,762.4 L703.6,761.2 L702.7,760.1 L701.7,759 L700.8,757.8 L699.8,756.7 L698.8,755.5 L697.8,754.4 L696.9,753.3 L695.9,752.2 L694.9,751 L693.9,749.9 L692.9,748.8 L691.9,747.7 L691,746.6 L690,745.5 L688.9,744.4 L687.9,743.3 L686.9,742.2 L685.9,741.1 L684.9,740 L683.8,739 L682.8,737.9 L681.8,736.8 L680.7,735.8 L679.7,734.7 L678.6,733.7 L677.5,732.7 L676.4,731.6 L675.3,730.6 L674.3,729.6 L673.1,728.6 L672,727.6 L670.9,726.6 L669.8,725.6 L668.7,724.7 L667.5,723.7 L666.4,722.7 L665.2,721.8 L664.1,720.8 L662.9,719.9 L661.7,719 L660.5,718 L659.3,717.1 L658.1,716.2 L656.9,715.3 L655.7,714.4 L654.5,713.6 L653.3,712.7 L652.1,711.8 L650.8,711 L649.6,710.1 L648.4,709.3 L647.1,708.4 L645.9,707.6 L644.6,706.8 L643.4,706 L642.1,705.2 L640.8,704.4 L639.5,703.6 L638.3,702.9 L637,702.1 L635.7,701.3 L634.4,700.6 L633.1,699.8 L631.8,699.1 L630.5,698.4 L629.2,697.6 L627.8,696.9 L626.5,696.2 L625.2,695.5 L623.9,694.8 L622.5,694.2 L621.2,693.5 L619.9,692.8 L618.5,692.2 L617.2,691.5 L615.8,690.8 L614.5,690.2 L613.1,689.6 L611.8,688.9 L610.4,688.3 L609.1,687.7 L607.7,687.1 L606.3,686.5 L605,685.9 L603.6,685.3 L602.2,684.7 L600.8,684.2 L599.4,683.6 L598.1,683 L596.7,682.5 L595.3,681.9 L593.9,681.4 L592.5,680.8 L591.1,680.3 L589.7,679.8 L588.3,679.2 L586.9,678.7 L585.5,678.2 L584.1,677.7 L582.7,677.2 L581.3,676.7 L579.9,676.2 L578.5,675.7 L577.1,675.2 L575.7,674.7 L574.3,674.2 L572.8,673.7 L571.4,673.2 L570,672.7 L568.6,672.3 L567.2,671.8 L565.8,671.3 L564.3,670.9 L562.9,670.4 L561.5,669.9 L560.1,669.5 L558.6,669 L557.2,668.5 L555.8,668.1 L554.4,667.6 L552.9,667.2 L551.5,666.7 L550.1,666.2 L548.7,665.8 L547.2,665.3 L545.8,664.9 L544.4,664.4 L542.9,664 L541.5,663.6 L540.1,663.1 L538.6,662.7 L537.2,662.2 L535.8,661.8 L534.3,661.4 L532.9,660.9 L531.4,660.5 L530,660.1 L528.6,659.7 L527.1,659.3 L525.7,658.8 L524.2,658.4 L522.8,658 L521.4,657.6 L519.9,657.2 L518.5,656.8 L517,656.4 L515.6,656 L514.1,655.6 L512.7,655.2 L511.2,654.8 L509.8,654.4 L508.3,654 L506.9,653.6 L505.4,653.2 L504,652.8 L502.5,652.5 L501.1,652.1 L499.6,651.7 L498.2,651.3 L496.7,651 L495.3,650.6 L493.8,650.2 L492.4,649.9 L490.9,649.5 L489.4,649.2 L488,648.8 L486.5,648.5 L485.1,648.1 L483.6,647.8 L482.1,647.5 L480.7,647.1 L479.2,646.8 L477.8,646.5 L476.3,646.1 L474.8,645.8 L473.4,645.5 L471.9,645.2 L470.4,644.9 L469,644.6 L467.5,644.3 L466,644 L464.6,643.7 L463.1,643.4 L461.6,643.1 L460.2,642.8 L458.7,642.5 L457.2,642.2 L455.7,642 L454.3,641.7 L452.8,641.4 L451.3,641.1 L449.8,640.9 L448.4,640.6 L446.9,640.4 L445.4,640.1 L443.9,639.9 L442.5,639.6 L441,639.4 L439.5,639.2 L438,638.9 L436.5,638.7 L435.1,638.5 L433.6,638.3 L432.1,638.1 L430.6,637.9 L429.1,637.7 L427.7,637.5 L426.2,637.3 L424.7,637.1 L423.2,636.9 L421.7,636.7 L420.2,636.5 L418.7,636.4 L417.3,636.2 L415.8,636 L414.3,635.9 L412.8,635.7 L411.3,635.6 L409.8,635.4 L408.3,635.3 L406.8,635.1 L405.3,635 L403.8,634.8 L402.4,634.7 L400.9,634.6 L399.4,634.5 L397.9,634.4 L396.4,634.2 L394.9,634.1 L393.4,634 L391.9,633.9 L390.4,633.8 L388.9,633.7 L387.4,633.6 L385.9,633.5 L384.4,633.4 L382.9,633.4 L381.4,633.3 L379.9,633.2 L378.4,633.1 L376.9,633.1 L375.4,633 L373.9,632.9 L372.4,632.9 L370.9,632.8 L369.4,632.7 L367.9,632.7 L366.4,632.6 L364.9,632.6 L363.5,632.5 L362,632.5 L360.5,632.4 L359,632.4 L357.5,632.4 L356,632.3 L354.5,632.3 L353,632.3 L351.5,632.2 L350,632.2 L348.5,632.2 L347,632.2 L345.5,632.1 L344,632.1 L342.5,632.1 L341,632.1 L339.5,632.1 L338,632.1 L336.5,632.1 L335,632 L333.5,632 L332,632 L330.5,632 L329,632 L327.5,632 L326,632 L324.5,632 L323,632 L321.5,632 L320,632 L318.5,632 L317,632.1 L315.5,632.1 L314,632.1 L312.5,632.1 L311,632.1 L309.5,632.1 L308,632.1 L306.5,632.1 L305,632.1 L303.5,632.2 L302,632.2 L300.5,632.2 L299,632.2 L297.5,632.2 L296,632.2Z" fill="#0080ff" stroke="#0080ff" stroke-width="0.6"/>
<path d="M1415.5,639.9 L1417,640 L1418.5,640.1 L1420,640.2 L1421.5,640.4 L1423,640.5 L1424.5,640.6 L1426,640.7 L1427.5,640.8 L1428.9,640.9 L1430.4,641 L1431.9,641.1 L1433.4,641.2 L1434.9,641.3 L1436.4,641.4 L1437.9,641.5 L1439.4,641.6 L1440.9,641.7 L1442.4,641.9 L1443.9,642 L1445.4,642.1 L1446.9,642.2 L1448.4,642.3 L1449.9,642.4 L1451.3,642.5 L1452.8,642.6 L1454.3,642.7 L1455.8,642.8 L1457.3,642.9 L1458.8,643.1 L1460.3,643.2 L1461.8,643.3 L1463.3,643.4 L1464.8,643.6 L1466.3,643.7 L1467.8,643.8 L1469.3,643.9 L1470.8,644.1 L1472.3,644.2 L1473.7,644.4 L1475.2,644.5 L1476.7,644.7 L1478.2,644.8 L1479.7,645 L1481.2,645.1 L1482.7,645.3 L1484.2,645.5 L1485.7,645.6 L1487.2,645.8 L1488.7,646 L1490.1,646.2 L1491.6,646.4 L1493.1,646.6 L1494.6,646.8 L1496.1,647 L1497.6,647.2 L1499.1,647.4 L1500.6,647.7 L1502,647.9 L1503.5,648.1 L1505,648.4 L1506.5,648.6 L1508,648.9 L1509.5,649.2 L1510.9,649.4 L1512.4,649.7 L1513.9,650 L1515.4,650.3 L1516.8,650.6 L1518.3,650.9 L1519.8,651.3 L1521.2,651.6 L1522.7,651.9 L1524.1,652.3 L1525.6,652.7 L1527,653 L1528.5,653.4 L1529.9,653.8 L1531.4,654.2 L1532.8,654.6 L1534.2,655.1 L1535.7,655.5 L1537.1,656 L1538.5,656.5 L1539.9,656.9 L1541.3,657.4 L1542.7,657.9 L1544.1,658.5 L1545.5,659 L1546.9,659.5 L1548.3,660.1 L1549.7,660.7 L1551.1,661.3 L1552.4,661.9 L1553.8,662.5 L1555.1,663.2 L1556.5,663.8 L1557.8,664.5 L1559.2,665.2 L1560.5,665.8 L1561.8,666.5 L1563.1,667.3 L1564.4,668 L1565.7,668.7 L1567,669.5 L1568.3,670.2 L1569.6,671 L1570.9,671.8 L1572.1,672.6 L1573.4,673.4 L1574.7,674.2 L1575.9,675 L1577.2,675.9 L1578.4,676.7 L1579.6,677.5 L1580.9,678.4 L1582.1,679.3 L1583.3,680.1 L1584.5,681 L1585.7,681.9 L1586.9,682.8 L1588.1,683.7 L1589.3,684.6 L1590.5,685.5 L1591.7,686.4 L1592.8,687.3 L1594,688.2 L1595.2,689.2 L1596.3,690.1 L1597.5,691.1 L1598.7,692 L1599.8,693 L1601,693.9 L1602.1,694.9 L1603.2,695.8 L1604.4,696.8 L1605.5,697.8 L1606.6,698.7 L1607.8,699.7 L1608.9,700.7 L1610,701.7 L1611.1,702.7 L1612.3,703.7 L1613.4,704.6 L1614.5,705.6 L1615.6,706.6 L1616.7,707.6 L1617.9,708.6 L1619,709.6 L1620.1,710.6 L1621.2,711.6 L1622.3,712.6 L1623.4,713.6 L1624.5,714.6 L1625.6,715.6 L1626.8,716.6 L1627.9,717.6 L1629,718.6 L1630.1,719.6 L1631.2,720.6 L1632.3,721.6 L1633.5,722.6 L1634.6,723.6 L1635.7,724.6 L1636.8,725.6 L1638,726.6 L1639.1,727.6 L1640.2,728.5 L1641.4,729.5 L1642.5,730.5 L1643.7,731.5 L1644.8,732.4 L1645.9,733.4 L1647.1,734.4 L1648.3,735.3 L1649.4,736.3 L1650.6,737.3 L1651.7,738.2 L1652.9,739.1 L1654.1,740.1 L1655.2,741 L1656.4,742 L1657.6,742.9 L1658.8,743.8 L1660,744.8 L1661.1,745.7 L1662.3,746.6 L1663.5,747.6 L1664.7,748.5 L1665.9,749.4 L1667.1,750.3 L1668.3,751.2 L1669.5,752.2 L1670.7,753.1 L1671.9,754 L1673.1,754.9 L1674.3,755.8 L1675.5,756.7 L1676.7,757.6 L1677.9,758.6 L1679.1,759.5 L1680.3,760.4 L1681.5,761.3 L1682.7,762.2 L1683.9,763.1 L1685.1,764 L1686.3,764.9 L1687.5,765.8 L1688.7,766.7 L1689.9,767.6 L1691.1,768.6 L1692.3,769.5 L1693.5,770.4 L1694.7,771.3 L1695.8,772.2 L1697,773.1 L1698.2,774 L1699.4,775 L1700.6,775.9 L1701.8,776.8 L1703,777.7 L1704.1,778.7 L1705.3,779.6 L1706.5,780.5 L1707.7,781.5 L1708.8,782.4 L1710,783.3 L1711.2,784.3 L1712.3,785.2 L1713.5,786.2 L1714.6,787.1 L1715.8,788.1 L1716.9,789 L1718.1,790 L1719.2,790.9 L1720.3,791.9 L1721.5,792.9 L1722.6,793.8 L1723.7,794.8 L1724.8,795.8 L1726,796.8 L1727.1,797.8 L1728.2,798.8 L1729.3,799.8 L1730.4,800.8 L1731.5,801.8 L1732.6,802.8 L1733.6,803.8 L1734.7,804.8 L1735.8,805.8 L1736.9,806.8 L1738,807.9 L1739,808.9 L1740.1,809.9 L1741.2,811 L1742.2,812 L1743.3,813.1 L1744.3,814.1 L1745.4,815.2 L1746.4,816.2 L1747.5,817.3 L1748.5,818.3 L1749.5,819.4 L1750.6,820.5 L1751.6,821.5 L1752.6,822.6 L1753.6,823.7 L1754.7,824.8 L1755.7,825.9 L1756.7,826.9 L1757.7,828 L1758.7,829.1 L1759.7,830.2 L1760.7,831.3 L1761.7,832.4 L1762.7,833.5 L1763.7,834.6 L1764.7,835.8 L1765.7,836.9 L1766.7,838 L1767.7,839.1 L1768.7,840.2 L1769.6,841.4 L1770.6,842.5 L1771.6,843.6 L1772.6,844.8 L1773.5,845.9 L1774.5,847 L1775.5,848.2 L1776.5,849.3 L1777.4,850.5 L1778.4,851.6 L1779.4,852.8 L1780.3,853.9 L1781.3,855.1 L1782.2,856.2 L1783.2,857.4 L1784.1,858.6 L1785.1,859.7 L1786.1,860.9 L1787,862.1 L1788,863.3 L1788.9,864.4 L1789.9,865.6 L1790.8,866.8 L1791.7,868 L1792.7,869.2 L1793.6,870.4 L1794.6,871.6 L1795.5,872.7 L1796.5,873.9 L1797.4,875.1 L1798.3,876.3 L1799.3,877.5 L1800.2,878.7 L1801.2,879.9 L1802.1,881.2 L1803,882.4 L1804,883.6 L1804.9,884.8 L1805.8,886 L1806.8,887.2 L1807.7,888.4 L1808.7,889.6 L1809.6,890.8 L1810.6,892 L1811.5,893.2 L1812.4,894.4 L1813.4,895.6 L1814.3,896.8 L1815.3,898 L1816.3,899.2 L1817.2,900.4 L1818.2,901.6 L1819.2,902.7 L1820.1,903.9 L1821.1,905.1 L1822.1,906.2 L1823.1,907.4 L1824.1,908.5 L1825.1,909.6 L1826.1,910.8 L1827.1,911.9 L1828.1,913 L1829.1,914.1 L1830.1,915.2 L1831.2,916.2 L1832.2,917.3 L1833.3,918.4 L1834.3,919.4 L1835.4,920.4 L1836.4,921.5 L1837.5,922.5 L1838.6,923.5 L1839.7,924.5 L1840.8,925.4 L1841.9,926.4 L1843,927.3 L1844.2,928.3 L1845.3,929.2 L1846.4,930.1 L1847.6,931 L1848.8,931.8 L1850,932.7 L1851.1,933.5 L1852.3,934.3 L1853.6,935.1 L1854.8,935.9 L1856,936.6 L1857.3,937.4 L1858.5,938.1 L1859.8,938.8 L1861.1,939.5 L1862.4,940.2 L1863.7,940.8 L1865,941.4 L1866.3,942 L1867.7,942.6 L1869,943.2 L1870.4,943.7 L1871.8,944.3 L1873.2,944.8 L1874.5,945.3 L1875.9,945.7 L1877.4,946.2 L1878.8,946.6 L1880.2,947.1 L1881.6,947.5 L1883.1,947.9 L1884.5,948.3 L1886,948.6 L1887.5,949 L1888.9,949.3 L1890.4,949.6 L1891.9,949.9 L1893.4,950.2 L1894.9,950.5 L1896.4,950.8 L1897.9,951 L1899.4,951.3 L1900.9,951.5 L1902.4,951.7 L1903.9,951.9 L1905.4,952.1 L1906.9,952.3 L1908.5,952.4 L1910,952.6 L1911.5,952.8 L1913,952.9 L1914.5,953 L1916.1,953.1 L1917.6,953.2 L1919.1,953.3 L1920.7,953.4 L1922.2,953.5 L1923.7,953.6 L1925.2,953.6 L1926.7,953.7 L1928.3,953.7 L1929.8,953.8 L1931.3,953.8 L1932.8,953.8 L1934.3,953.8 L1935.8,953.9 L1937.3,953.9 L1938.8,953.9 L1940.3,953.9 L1941.8,953.9 L1943.3,953.8 L1944.8,953.8 L1946.3,953.8 L1947.8,953.8 L1949.3,953.8 L1950.7,953.7 L1952.2,953.7 L1953.7,953.7 L1955.2,953.6 L1956.7,953.6 L1958.2,953.6 L1959.6,953.5 L1961.1,953.5 L1962.6,953.5 L1964.1,953.4 L1965.6,953.4 L1967.1,953.4 L1968.5,953.3 L1970,953.3 L1971.5,953.3 L1973,953.2 L1974.5,953.2 L1976,953.2 L1977.4,953.2 L1978.9,953.2 L1980.4,953.2 L1981.9,953.2 L1983.4,953.2 L1984.9,953.2 L1986.4,953.2 L1987.9,953.2 L1989.4,953.3 L1990.9,953.3 L1992.4,953.3 L1993.9,953.4 L1995.4,953.5 L1997,953.5 L1998.5,953.6 L2000,953.7" fill="none" stroke="#ff0000" stroke-width="1.1"/>
<path d="M1250,638.6 L1251.5,638.6 L1253,638.6 L1254.5,638.6 L1256,638.7 L1257.5,638.7 L1259,638.7 L1260.5,638.8 L1262,638.8 L1263.5,638.8 L1265,638.8 L1266.5,638.9 L1268,638.9 L1269.5,638.9 L1271,638.9 L1272.5,638.9 L1274,638.9 L1275.5,639 L1277,639 L1278.5,639 L1280,639 L1281.5,639 L1283,639 L1284.5,639 L1286,639 L1287.5,639.1 L1289,639.1 L1290.5,639.1 L1292,639.1 L1293.5,639.1 L1295,639.1 L1296.5,639.1 L1298,639.1 L1299.5,639.1 L1301,639.1 L1302.5,639.1 L1304,639.1 L1305.5,639.1 L1307,639.1 L1308.4,639.1 L1309.9,639.1 L1311.4,639.1 L1312.9,639.1 L1314.4,639.1 L1315.9,639.1 L1317.4,639.1 L1318.9,639.1 L1320.4,639.1 L1321.9,639.1 L1323.4,639.1 L1324.9,639.1 L1326.4,639.1 L1327.9,639.1 L1329.4,639.1 L1330.9,639.1 L1332.4,639.1 L1333.9,639.1 L1335.4,639.1 L1336.9,639.1 L1338.4,639.1 L1339.9,639.1 L1341.4,639.1 L1342.9,639.1 L1344.4,639.1 L1345.9,639 L1347.4,639 L1348.9,639 L1350.4,639 L1351.9,639 L1353.4,639 L1354.9,639 L1356.4,639 L1357.9,639 L1359.4,639 L1360.9,639 L1362.4,639 L1363.9,639 L1365.4,639 L1366.9,639 L1368.4,639 L1369.9,639 L1371.4,639 L1372.9,639 L1374.4,639 L1375.9,639 L1377.4,639 L1378.9,638.9 L1380.4,638.9 L1381.9,638.9 L1383.4,638.9 L1384.9,638.9 L1386.4,638.9 L1387.9,638.9 L1389.4,638.9 L1390.9,638.9 L1392.4,638.9 L1393.9,639 L1395.4,639 L1396.9,639 L1398.4,639 L1399.9,639 L1401.4,639 L1402.9,639 L1404.4,639 L1405.9,639 L1407.4,639 L1408.9,639 L1410.4,639 L1411.9,639 L1413.4,639 L1414.9,639 L1416.4,639.1 L1417.9,639.1 L1419.4,639.1 L1420.9,639.1 L1422.4,639.1 L1423.9,639.1 L1425.4,639.2 L1426.9,639.2 L1428.4,639.2 L1429.9,639.2 L1431.4,639.2 L1432.9,639.3 L1434.4,639.3 L1435.9,639.3 L1437.4,639.3 L1438.9,639.3 L1440.3,639.4 L1441.8,639.4 L1443.3,639.4 L1444.8,639.5 L1446.3,639.5 L1447.8,639.5 L1449.3,639.6 L1450.8,639.6 L1452.3,639.6 L1453.8,639.7 L1455.3,639.7 L1456.8,639.8 L1458.3,639.8 L1459.8,639.8 L1461.3,639.9 L1462.8,639.9 L1464.3,640 L1465.8,640 L1467.3,640.1 L1468.8,640.1 L1470.3,640.2 L1471.8,640.2 L1473.3,640.3 L1474.8,640.4 L1476.3,640.4 L1477.8,640.5 L1479.3,640.5 L1480.8,640.6 L1482.3,640.7 L1483.8,640.8 L1485.3,640.8 L1486.8,640.9 L1488.3,641 L1489.8,641.1 L1491.3,641.2 L1492.8,641.2 L1494.3,641.3 L1495.8,641.4 L1497.3,641.5 L1498.7,641.6 L1500.2,641.7 L1501.7,641.8 L1503.2,641.9 L1504.7,642 L1506.2,642.2 L1507.7,642.3 L1509.2,642.4 L1510.7,642.5 L1512.2,642.6 L1513.7,642.8 L1515.2,642.9 L1516.7,643 L1518.1,643.2 L1519.6,643.3 L1521.1,643.5 L1522.6,643.6 L1524.1,643.8 L1525.6,643.9 L1527.1,644.1 L1528.6,644.3 L1530.1,644.4 L1531.5,644.6 L1533,644.8 L1534.5,645 L1536,645.2 L1537.5,645.4 L1539,645.6 L1540.5,645.8 L1541.9,646 L1543.4,646.2 L1544.9,646.4 L1546.4,646.6 L1547.9,646.8 L1549.3,647.1 L1550.8,647.3 L1552.3,647.5 L1553.8,647.8 L1555.3,648 L1556.7,648.3 L1558.2,648.5 L1559.7,648.8 L1561.2,649.1 L1562.6,649.3 L1564.1,649.6 L1565.6,649.9 L1567.1,650.2 L1568.5,650.5 L1570,650.8 L1571.5,651.1 L1572.9,651.4 L1574.4,651.7 L1575.9,652.1 L1577.3,652.4 L1578.8,652.7 L1580.3,653.1 L1581.7,653.4 L1583.2,653.8 L1584.6,654.2 L1586.1,654.5 L1587.5,654.9 L1589,655.3 L1590.4,655.7 L1591.9,656.1 L1593.3,656.5 L1594.8,656.9 L1596.2,657.4 L1597.6,657.8 L1599.1,658.2 L1600.5,658.7 L1601.9,659.1 L1603.4,659.6 L1604.8,660.1 L1606.2,660.6 L1607.6,661.1 L1609,661.6 L1610.4,662.1 L1611.8,662.6 L1613.2,663.1 L1614.6,663.6 L1616,664.2 L1617.4,664.7 L1618.8,665.3 L1620.2,665.9 L1621.6,666.5 L1622.9,667.1 L1624.3,667.7 L1625.7,668.3 L1627,668.9 L1628.4,669.5 L1629.7,670.2 L1631.1,670.8 L1632.4,671.5 L1633.8,672.2 L1635.1,672.9 L1636.4,673.6 L1637.8,674.3 L1639.1,675 L1640.4,675.7 L1641.7,676.4 L1643,677.2 L1644.3,677.9 L1645.6,678.7 L1646.9,679.5 L1648.2,680.3 L1649.4,681.1 L1650.7,681.9 L1652,682.7 L1653.2,683.5 L1654.5,684.4 L1655.7,685.2 L1656.9,686.1 L1658.2,686.9 L1659.4,687.8 L1660.6,688.7 L1661.8,689.6 L1663,690.5 L1664.2,691.4 L1665.4,692.3 L1666.5,693.2 L1667.7,694.2 L1668.9,695.1 L1670,696.1 L1671.2,697.1 L1672.3,698 L1673.4,699 L1674.6,700 L1675.7,701 L1676.8,702 L1677.9,703.1 L1678.9,704.1 L1680,705.1 L1681.1,706.2 L1682.1,707.2 L1683.2,708.3 L1684.2,709.4 L1685.3,710.5 L1686.3,711.5 L1687.3,712.7 L1688.3,713.8 L1689.3,714.9 L1690.2,716 L1691.2,717.1 L1692.2,718.3 L1693.1,719.4 L1694.1,720.6 L1695,721.8 L1695.9,722.9 L1696.8,724.1 L1697.7,725.3 L1698.6,726.5 L1699.5,727.7 L1700.4,728.9 L1701.2,730.2 L1702.1,731.4 L1702.9,732.6 L1703.7,733.9 L1704.6,735.1 L1705.4,736.3 L1706.2,737.6 L1707,738.9 L1707.8,740.1 L1708.6,741.4 L1709.4,742.7 L1710.2,744 L1710.9,745.3 L1711.7,746.5 L1712.5,747.8 L1713.2,749.1 L1714,750.4 L1714.7,751.7 L1715.5,753.1 L1716.2,754.4 L1716.9,755.7 L1717.6,757 L1718.4,758.3 L1719.1,759.7 L1719.8,761 L1720.5,762.3 L1721.2,763.6 L1721.9,765 L1722.6,766.3 L1723.3,767.6 L1724,769 L1724.7,770.3 L1725.3,771.7 L1726,773 L1726.7,774.3 L1727.4,775.7 L1728.1,777 L1728.7,778.4 L1729.4,779.7 L1730.1,781 L1730.8,782.4 L1731.4,783.7 L1732.1,785.1 L1732.8,786.4 L1733.4,787.7 L1734.1,789.1 L1734.8,790.4 L1735.4,791.8 L1736.1,793.1 L1736.8,794.5 L1737.4,795.8 L1738.1,797.1 L1738.7,798.5 L1739.4,799.8 L1740,801.2 L1740.7,802.5 L1741.3,803.9 L1742,805.2 L1742.7,806.5 L1743.3,807.9 L1744,809.2 L1744.6,810.6 L1745.2,811.9 L1745.9,813.3 L1746.5,814.6 L1747.2,816 L1747.8,817.3 L1748.5,818.7 L1749.1,820 L1749.8,821.4 L1750.4,822.7 L1751,824.1 L1751.7,825.4 L1752.3,826.8 L1753,828.1 L1753.6,829.5 L1754.2,830.8 L1754.9,832.2 L1755.5,833.5 L1756.1,834.9 L1756.8,836.2 L1757.4,837.6 L1758.1,839 L1758.7,840.3 L1759.3,841.7 L1760,843 L1760.6,844.4 L1761.3,845.7 L1761.9,847.1 L1762.6,848.4 L1763.2,849.8 L1763.9,851.2 L1764.5,852.5 L1765.2,853.9 L1765.8,855.2 L1766.5,856.5 L1767.2,857.9 L1767.8,859.2 L1768.5,860.6 L1769.2,861.9 L1769.9,863.3 L1770.6,864.6 L1771.3,865.9 L1772,867.3 L1772.7,868.6 L1773.4,869.9 L1774.1,871.2 L1774.8,872.5 L1775.5,873.9 L1776.3,875.2 L1777,876.5 L1777.7,877.8 L1778.5,879.1 L1779.3,880.4 L1780,881.7 L1780.8,883 L1781.6,884.3 L1782.4,885.6 L1783.2,886.8 L1784,888.1 L1784.8,889.4 L1785.6,890.7 L1786.4,891.9 L1787.3,893.2 L1788.1,894.4 L1789,895.7 L1789.9,896.9 L1790.7,898.1 L1791.6,899.4 L1792.5,900.6 L1793.4,901.8 L1794.4,903 L1795.3,904.2 L1796.2,905.4 L1797.2,906.6 L1798.1,907.8 L1799.1,908.9 L1800.1,910.1 L1801,911.2 L1802,912.3 L1803,913.5 L1804.1,914.6 L1805.1,915.7 L1806.1,916.8 L1807.2,917.8 L1808.2,918.9 L1809.3,920 L1810.4,921 L1811.4,922 L1812.5,923 L1813.6,924 L1814.8,925 L1815.9,926 L1817,926.9 L1818.2,927.8 L1819.3,928.8 L1820.5,929.7 L1821.7,930.5 L1822.9,931.4 L1824.1,932.3 L1825.3,933.1 L1826.5,933.9 L1827.7,934.7 L1829,935.5 L1830.2,936.2 L1831.5,937 L1832.7,937.7 L1834,938.4 L1835.3,939 L1836.6,939.7 L1838,940.3 L1839.3,940.9 L1840.6,941.5 L1842,942.1 L1843.3,942.6 L1844.7,943.1 L1846.1,943.7 L1847.5,944.1 L1848.9,944.6 L1850.3,945 L1851.7,945.5 L1853.1,945.9 L1854.5,946.2 L1856,946.6 L1857.4,947 L1858.9,947.3 L1860.3,947.6 L1861.8,947.9 L1863.3,948.2 L1864.8,948.5 L1866.2,948.7 L1867.7,949 L1869.2,949.2 L1870.7,949.4 L1872.2,949.6 L1873.7,949.8 L1875.2,950 L1876.8,950.2 L1878.3,950.4 L1879.8,950.5 L1881.3,950.6 L1882.8,950.8 L1884.4,950.9 L1885.9,951 L1887.4,951.1 L1889,951.2 L1890.5,951.3 L1892,951.4 L1893.5,951.5 L1895.1,951.5 L1896.6,951.6 L1898.1,951.7 L1899.7,951.7 L1901.2,951.8 L1902.7,951.8 L1904.2,951.9 L1905.8,951.9 L1907.3,952 L1908.8,952 L1910.3,952 L1911.8,952.1 L1913.3,952.1 L1914.8,952.1 L1916.3,952.2 L1917.8,952.2 L1919.3,952.2 L1920.8,952.3 L1922.3,952.3 L1923.8,952.3 L1925.3,952.3 L1926.8,952.3 L1928.3,952.3 L1929.8,952.4 L1931.3,952.4 L1932.8,952.4 L1934.3,952.4 L1935.7,952.4 L1937.2,952.4 L1938.7,952.4 L1940.2,952.4 L1941.7,952.4 L1943.2,952.4 L1944.7,952.4 L1946.1,952.4 L1947.6,952.4 L1949.1,952.4 L1950.6,952.4 L1952.1,952.4 L1953.6,952.4 L1955,952.4 L1956.5,952.4 L1958,952.4 L1959.5,952.4 L1961,952.4 L1962.5,952.4 L1964,952.4 L1965.4,952.4 L1966.9,952.4 L1968.4,952.5 L1969.9,952.5 L1971.4,952.5 L1972.9,952.5 L1974.4,952.5 L1975.9,952.5 L1977.4,952.5 L1978.9,952.5 L1980.4,952.5 L1981.9,952.5 L1983.4,952.5 L1984.9,952.5 L1986.4,952.5 L1987.9,952.5 L1989.4,952.6 L1990.9,952.6 L1992.5,952.6 L1994,952.6 L1995.5,952.6 L1997,952.6 L1998.5,952.7 L2000.1,952.7 L2000.1,954.1 L1998.5,954.1 L1997,954.1 L1995.5,954.1 L1994,954.1 L1992.5,954.1 L1991,954.1 L1989.5,954.1 L1988,954.1 L1986.5,954.1 L1985,954.1 L1983.5,954.1 L1982,954.1 L1980.5,954.1 L1979,954.1 L1977.5,954.1 L1976,954.1 L1974.5,954.1 L1973,954.1 L1971.5,954.1 L1970,954.1 L1968.5,954.1 L1967,954.1 L1965.5,954.1 L1964,954.1 L1962.5,954 L1961,954 L1959.5,954 L1958,954 L1956.5,954 L1955,954 L1953.5,954 L1952,954 L1950.6,954 L1949.1,953.9 L1947.6,953.9 L1946.1,953.9 L1944.6,953.9 L1943.1,953.9 L1941.6,953.9 L1940.1,953.9 L1938.6,953.9 L1937.1,953.8 L1935.6,953.8 L1934.1,953.8 L1932.6,953.8 L1931.2,953.8 L1929.7,953.8 L1928.2,953.8 L1926.7,953.7 L1925.2,953.7 L1923.7,953.7 L1922.2,953.7 L1920.7,953.7 L1919.2,953.7 L1917.7,953.7 L1916.2,953.6 L1914.7,953.6 L1913.2,953.6 L1911.7,953.6 L1910.2,953.6 L1908.7,953.6 L1907.2,953.6 L1905.7,953.6 L1904.2,953.5 L1902.7,953.5 L1901.2,953.5 L1899.7,953.5 L1898.2,953.5 L1896.7,953.5 L1895.2,953.5 L1893.7,953.5 L1892.2,953.4 L1890.7,953.4 L1889.2,953.4 L1887.7,953.4 L1886.2,953.4 L1884.7,953.4 L1883.2,953.3 L1881.7,953.3 L1880.2,953.3 L1878.7,953.2 L1877.2,953.2 L1875.7,953.2 L1874.2,953.1 L1872.7,953.1 L1871.1,953 L1869.6,953 L1868.1,952.9 L1866.6,952.8 L1865.1,952.8 L1863.6,952.7 L1862.1,952.6 L1860.6,952.5 L1859.1,952.4 L1857.6,952.3 L1856.1,952.2 L1854.6,952.1 L1853.1,951.9 L1851.6,951.8 L1850.1,951.6 L1848.6,951.5 L1847.1,951.3 L1845.6,951.1 L1844.1,951 L1842.6,950.8 L1841.1,950.6 L1839.6,950.3 L1838.1,950.1 L1836.6,949.9 L1835.2,949.6 L1833.7,949.4 L1832.2,949.1 L1830.7,948.8 L1829.3,948.5 L1827.8,948.2 L1826.3,947.8 L1824.9,947.5 L1823.4,947.1 L1822,946.7 L1820.6,946.3 L1819.1,945.9 L1817.7,945.5 L1816.3,945.1 L1814.9,944.6 L1813.5,944.1 L1812.1,943.6 L1810.7,943.1 L1809.3,942.6 L1807.9,942 L1806.6,941.4 L1805.2,940.8 L1803.9,940.2 L1802.6,939.6 L1801.2,938.9 L1799.9,938.2 L1798.6,937.5 L1797.3,936.8 L1796,936.1 L1794.8,935.3 L1793.5,934.5 L1792.3,933.8 L1791,933 L1789.8,932.1 L1788.6,931.3 L1787.4,930.4 L1786.2,929.6 L1785,928.7 L1783.8,927.8 L1782.7,926.8 L1781.5,925.9 L1780.4,924.9 L1779.3,924 L1778.1,923 L1777,922 L1776,921 L1774.9,919.9 L1773.8,918.9 L1772.8,917.8 L1771.7,916.8 L1770.7,915.7 L1769.7,914.6 L1768.7,913.5 L1767.7,912.3 L1766.7,911.2 L1765.8,910.1 L1764.8,908.9 L1763.8,907.7 L1762.9,906.6 L1762,905.4 L1761.1,904.2 L1760.1,903 L1759.2,901.8 L1758.3,900.5 L1757.5,899.3 L1756.6,898.1 L1755.7,896.8 L1754.9,895.6 L1754,894.3 L1753.2,893.1 L1752.3,891.8 L1751.5,890.5 L1750.7,889.3 L1749.9,888 L1749,886.7 L1748.2,885.4 L1747.5,884.1 L1746.7,882.8 L1745.9,881.6 L1745.1,880.3 L1744.3,879 L1743.6,877.7 L1742.8,876.4 L1742,875.1 L1741.3,873.8 L1740.6,872.5 L1739.8,871.1 L1739.1,869.8 L1738.4,868.5 L1737.6,867.2 L1736.9,865.9 L1736.2,864.6 L1735.5,863.3 L1734.8,861.9 L1734.1,860.6 L1733.4,859.3 L1732.7,858 L1732,856.6 L1731.3,855.3 L1730.7,854 L1730,852.6 L1729.3,851.3 L1728.7,850 L1728,848.6 L1727.3,847.3 L1726.7,845.9 L1726,844.6 L1725.4,843.3 L1724.8,841.9 L1724.1,840.6 L1723.5,839.2 L1722.8,837.9 L1722.2,836.5 L1721.6,835.1 L1721,833.8 L1720.4,832.4 L1719.7,831.1 L1719.1,829.7 L1718.5,828.3 L1717.9,827 L1717.3,825.6 L1716.7,824.2 L1716.1,822.9 L1715.5,821.5 L1714.9,820.1 L1714.4,818.7 L1713.8,817.4 L1713.2,816 L1712.6,814.6 L1712,813.2 L1711.4,811.9 L1710.9,810.5 L1710.3,809.1 L1709.7,807.7 L1709.1,806.3 L1708.5,804.9 L1708,803.6 L1707.4,802.2 L1706.8,800.8 L1706.2,799.4 L1705.6,798 L1705,796.6 L1704.5,795.3 L1703.9,793.9 L1703.3,792.5 L1702.7,791.1 L1702.1,789.8 L1701.5,788.4 L1700.9,787 L1700.3,785.6 L1699.7,784.3 L1699.1,782.9 L1698.4,781.5 L1697.8,780.2 L1697.2,778.8 L1696.6,777.5 L1695.9,776.1 L1695.3,774.7 L1694.6,773.4 L1694,772.1 L1693.3,770.7 L1692.7,769.4 L1692,768 L1691.3,766.7 L1690.6,765.4 L1689.9,764 L1689.2,762.7 L1688.5,761.4 L1687.8,760.1 L1687.1,758.8 L1686.4,757.5 L1685.6,756.2 L1684.9,754.9 L1684.1,753.6 L1683.4,752.3 L1682.6,751 L1681.8,749.7 L1681,748.5 L1680.3,747.2 L1679.5,745.9 L1678.7,744.7 L1677.8,743.4 L1677,742.1 L1676.2,740.9 L1675.4,739.7 L1674.5,738.4 L1673.7,737.2 L1672.8,736 L1671.9,734.8 L1671.1,733.5 L1670.2,732.3 L1669.3,731.1 L1668.4,729.9 L1667.5,728.7 L1666.6,727.6 L1665.7,726.4 L1664.7,725.2 L1663.8,724 L1662.9,722.9 L1661.9,721.7 L1660.9,720.6 L1660,719.4 L1659,718.3 L1658,717.1 L1657,716 L1656,714.9 L1655,713.8 L1654,712.7 L1653,711.6 L1652,710.5 L1650.9,709.4 L1649.9,708.3 L1648.8,707.3 L1647.8,706.2 L1646.7,705.1 L1645.7,704.1 L1644.6,703 L1643.5,702 L1642.4,701 L1641.3,700 L1640.2,698.9 L1639.1,697.9 L1637.9,696.9 L1636.8,696 L1635.7,695 L1634.5,694 L1633.4,693 L1632.2,692.1 L1631,691.2 L1629.8,690.2 L1628.7,689.3 L1627.5,688.4 L1626.3,687.5 L1625.1,686.6 L1623.9,685.7 L1622.6,684.8 L1621.4,684 L1620.2,683.1 L1618.9,682.3 L1617.7,681.5 L1616.4,680.6 L1615.2,679.8 L1613.9,679.1 L1612.6,678.3 L1611.3,677.5 L1610.1,676.7 L1608.8,676 L1607.5,675.3 L1606.1,674.5 L1604.8,673.8 L1603.5,673.1 L1602.2,672.5 L1600.8,671.8 L1599.5,671.1 L1598.2,670.5 L1596.8,669.8 L1595.5,669.2 L1594.1,668.6 L1592.7,668 L1591.4,667.4 L1590,666.8 L1588.6,666.2 L1587.2,665.6 L1585.8,665.1 L1584.4,664.5 L1583,664 L1581.6,663.5 L1580.2,662.9 L1578.8,662.4 L1577.4,661.9 L1576,661.4 L1574.6,660.9 L1573.2,660.5 L1571.7,660 L1570.3,659.5 L1568.9,659.1 L1567.5,658.6 L1566,658.2 L1564.6,657.8 L1563.2,657.4 L1561.7,657 L1560.3,656.5 L1558.9,656.2 L1557.4,655.8 L1556,655.4 L1554.5,655 L1553.1,654.6 L1551.6,654.3 L1550.2,653.9 L1548.7,653.6 L1547.3,653.2 L1545.8,652.9 L1544.4,652.6 L1542.9,652.3 L1541.4,651.9 L1540,651.6 L1538.5,651.3 L1537,651 L1535.6,650.7 L1534.1,650.5 L1532.6,650.2 L1531.2,649.9 L1529.7,649.7 L1528.2,649.4 L1526.7,649.1 L1525.3,648.9 L1523.8,648.7 L1522.3,648.4 L1520.8,648.2 L1519.4,648 L1517.9,647.7 L1516.4,647.5 L1514.9,647.3 L1513.4,647.1 L1511.9,646.9 L1510.5,646.7 L1509,646.5 L1507.5,646.3 L1506,646.2 L1504.5,646 L1503,645.8 L1501.5,645.6 L1500,645.5 L1498.5,645.3 L1497,645.2 L1495.6,645 L1494.1,644.9 L1492.6,644.7 L1491.1,644.6 L1489.6,644.4 L1488.1,644.3 L1486.6,644.2 L1485.1,644 L1483.6,643.9 L1482.1,643.8 L1480.6,643.7 L1479.1,643.6 L1477.6,643.5 L1476.1,643.4 L1474.6,643.3 L1473.1,643.2 L1471.6,643.1 L1470.1,643 L1468.6,642.9 L1467.1,642.8 L1465.6,642.7 L1464.1,642.6 L1462.6,642.5 L1461.1,642.4 L1459.6,642.3 L1458.1,642.3 L1456.6,642.2 L1455.1,642.1 L1453.6,642.1 L1452.1,642 L1450.7,641.9 L1449.2,641.9 L1447.7,641.8 L1446.2,641.7 L1444.7,641.7 L1443.2,641.6 L1441.7,641.6 L1440.2,641.5 L1438.7,641.5 L1437.2,641.4 L1435.7,641.4 L1434.2,641.3 L1432.7,641.3 L1431.2,641.2 L1429.7,641.2 L1428.2,641.2 L1426.7,641.1 L1425.2,641.1 L1423.7,641.1 L1422.2,641 L1420.7,641 L1419.2,641 L1417.7,641 L1416.2,640.9 L1414.7,640.9 L1413.2,640.9 L1411.7,640.9 L1410.2,640.8 L1408.7,640.8 L1407.2,640.8 L1405.7,640.8 L1404.3,640.8 L1402.8,640.8 L1401.3,640.8 L1399.8,640.7 L1398.3,640.7 L1396.8,640.7 L1395.3,640.7 L1393.8,640.7 L1392.3,640.7 L1390.8,640.7 L1389.3,640.7 L1387.8,640.7 L1386.3,640.7 L1384.8,640.7 L1383.3,640.7 L1381.8,640.7 L1380.3,640.7 L1378.8,640.7 L1377.3,640.7 L1375.8,640.7 L1374.3,640.7 L1372.8,640.7 L1371.3,640.7 L1369.8,640.7 L1368.3,640.7 L1366.8,640.7 L1365.3,640.7 L1363.8,640.8 L1362.3,640.8 L1360.8,640.8 L1359.4,640.8 L1357.9,640.8 L1356.4,640.8 L1354.9,640.8 L1353.4,640.8 L1351.9,640.8 L1350.4,640.8 L1348.9,640.8 L1347.4,640.9 L1345.9,640.9 L1344.4,640.9 L1342.9,640.9 L1341.4,640.9 L1339.9,640.9 L1338.4,640.9 L1336.9,640.9 L1335.4,640.9 L1333.9,640.9 L1332.4,641 L1330.9,641 L1329.4,641 L1327.9,641 L1326.4,641 L1324.9,641 L1323.4,641 L1321.9,641 L1320.4,641 L1318.9,641 L1317.4,641 L1315.9,641 L1314.4,641 L1312.9,641 L1311.4,641 L1309.9,641 L1308.4,641 L1306.9,641 L1305.4,641 L1303.9,641 L1302.4,641 L1300.9,641 L1299.5,641 L1298,641 L1296.5,641 L1295,641 L1293.5,641 L1292,641 L1290.5,641 L1289,641 L1287.5,641 L1286,641 L1284.5,640.9 L1283,640.9 L1281.5,640.9 L1280,640.9 L1278.5,640.9 L1277,640.9 L1275.5,640.8 L1274,640.8 L1272.5,640.8 L1271,640.8 L1269.5,640.7 L1268,640.7 L1266.5,640.7 L1265,640.6 L1263.5,640.6 L1262,640.6 L1260.5,640.5 L1259,640.5 L1257.5,640.5 L1256,640.4 L1254.5,640.4 L1253,640.3 L1251.5,640.3 L1250,640.2Z" fill="#0080ff" stroke="#0080ff" stroke-width="0.6"/>
<path d="M1631.4,690 L1633.9,692 L1636.4,694 L1638.8,696 L1641.1,698 L1643.3,700 L1645.5,702 L1647.6,704 L1649.6,706 L1651.6,708 L1653.5,710 L1655.4,712 L1657.2,714 L1658.9,716 L1660.6,718 L1662.3,720 L1663.9,722 L1665.5,724 L1667.1,726 L1668.6,728 L1670,730 L1671.5,732 L1672.9,734 L1674.3,736 L1675.6,738 L1676.9,740 L1678.2,742 L1679.5,744 L1680.7,746 L1682,748 L1683.2,750 L1684.3,752 L1685.5,754 L1686.6,756 L1687.7,758 L1688.8,760 L1689.9,762 L1691,764 L1692,766 L1693.1,768 L1694.1,770 L1695.1,772 L1696.1,774 L1697.1,776 L1698.1,778 L1699.1,780 L1700,782 L1701,784 L1701.9,786 L1702.8,788 L1703.8,790 L1704.7,792 L1705.6,794 L1706.5,796 L1707.4,798 L1708.3,800 L1709.2,802 L1710.1,804 L1710.9,806 L1711.8,808 L1712.7,810 L1713.6,812 L1714.4,814 L1715.3,816 L1716.2,818 L1717.1,820 L1717.9,822 L1718.8,824 L1719.7,826 L1720.6,828 L1721.4,830 L1722.3,832 L1723.2,834 L1724.1,836 L1725,838 L1725.9,840 L1726.8,842 L1727.7,844 L1728.6,846 L1729.5,848 L1730.5,850 L1731.4,852 L1732.4,854 L1733.4,856 L1734.3,858 L1735.3,860 L1736.3,862 L1737.4,864 L1738.4,866 L1739.5,868 L1740.5,870 L1741.6,872 L1742.7,874 L1743.9,876 L1745,878 L1746.2,880 L1747.4,882 L1748.6,884 L1749.8,886 L1751.1,888 L1752.4,890 L1753.8,892 L1755.1,894 L1756.6,896 L1758,898 L1759.5,900 L1761,902 L1762.6,904 L1764.2,906 L1765.9,908 L1767.6,910 L1769.4,912 L1771.3,914 L1773.2,916 L1775.2,918 L1777.3,920 L1779.4,922 L1781.7,924" fill="none" stroke="#fff" stroke-width="0.7"/>
<path d="M1645.3,700 L1647.4,702 L1649.5,704 L1651.6,706 L1653.6,708 L1655.5,710 L1657.4,712 L1659.2,714 L1660.9,716 L1662.6,718 L1664.3,720 L1665.9,722 L1667.5,724 L1669.1,726 L1670.6,728 L1672,730 L1673.5,732 L1674.9,734 L1676.3,736 L1677.6,738 L1678.9,740 L1680.2,742 L1681.5,744 L1682.7,746 L1683.9,748 L1685.1,750 L1686.3,752 L1687.5,754 L1688.6,756 L1689.7,758 L1690.8,760 L1691.9,762 L1692.9,764 L1694,766 L1695,768 L1696.1,770 L1697.1,772 L1698.1,774 L1699.1,776 L1700,778 L1701,780 L1702,782 L1702.9,784 L1703.8,786 L1704.8,788 L1705.7,790 L1706.6,792 L1707.5,794 L1708.4,796 L1709.3,798 L1710.2,800 L1711.1,802 L1712,804 L1712.9,806 L1713.8,808 L1714.7,810 L1715.5,812 L1716.4,814 L1717.3,816 L1718.2,818 L1719,820 L1719.9,822 L1720.8,824 L1721.7,826 L1722.6,828 L1723.4,830 L1724.3,832 L1725.2,834 L1726.1,836 L1727,838 L1727.9,840 L1728.8,842 L1729.7,844 L1730.7,846 L1731.6,848 L1732.5,850 L1733.5,852 L1734.4,854 L1735.4,856 L1736.4,858 L1737.4,860 L1738.4,862 L1739.4,864 L1740.5,866 L1741.5,868 L1742.6,870 L1743.7,872 L1744.8,874 L1746,876 L1747.1,878 L1748.3,880 L1749.5,882 L1750.7,884 L1752,886 L1753.2,888 L1754.5,890 L1755.9,892 L1757.3,894 L1758.7,896 L1760.1,898 L1761.6,900 L1763.1,902 L1764.7,904 L1766.3,906 L1768,908 L1769.7,910 L1771.5,912 L1773.3,914" fill="none" stroke="#fff" stroke-width="0.6"/>
<path d="M1603.5,665 L1608.2,667 L1612.7,669 L1616.9,671 L1620.9,673 L1624.6,675 L1628.2,677 L1631.6,679 L1634.9,681 L1638,683 L1641,685 L1643.9,687 L1646.6,689 L1649.3,691 L1651.9,693 L1654.4,695 L1656.8,697 L1659.1,699 L1661.4,701 L1663.6,703 L1665.7,705 L1667.7,707 L1669.7,709 L1671.6,711 L1673.5,713 L1675.3,715 L1677.1,717 L1678.8,719 L1680.4,721 L1682,723 L1683.6,725 L1685.1,727 L1686.6,729 L1688,731 L1689.4,733 L1690.8,735 L1692.2,737 L1693.5,739 L1694.8,741 L1696,743 L1697.3,745 L1698.5,747 L1699.6,749 L1700.8,751 L1702,753 L1703.1,755 L1704.2,757 L1705.3,759 L1706.4,761 L1707.4,763 L1708.5,765 L1709.5,767 L1710.5,769 L1711.5,771 L1712.5,773 L1713.5,775 L1714.5,777 L1715.5,779 L1716.4,781 L1717.4,783 L1718.3,785 L1719.3,787 L1720.2,789 L1721.1,791 L1722,793 L1723,795 L1723.9,797 L1724.8,799 L1725.7,801 L1726.6,803 L1727.5,805 L1728.4,807 L1729.3,809 L1730.2,811 L1731.1,813 L1732,815 L1732.9,817 L1733.8,819 L1734.7,821 L1735.6,823 L1736.5,825 L1737.4,827 L1738.3,829 L1739.3,831 L1740.2,833 L1741.1,835 L1742,837 L1743,839 L1743.9,841 L1744.9,843 L1745.8,845 L1746.8,847 L1747.8,849 L1748.7,851 L1749.7,853 L1750.7,855 L1751.7,857 L1752.8,859 L1753.8,861 L1754.9,863 L1755.9,865 L1757,867 L1758.1,869 L1759.2,871 L1760.3,873 L1761.5,875 L1762.7,877 L1763.8,879 L1765,881 L1766.3,883 L1767.5,885 L1768.8,887 L1770.1,889 L1771.4,891 L1772.8,893 L1774.2,895 L1775.6,897 L1777,899 L1778.5,901 L1780,903 L1781.6,905 L1783.2,907 L1784.8,909 L1786.5,911 L1788.3,913 L1790.1,915 L1792,917 L1794,919 L1796,921 L1798.1,923 L1800.3,925 L1802.7,927 L1805.1,929 L1807.8,931 L1810.5,933" fill="none" stroke="#fff" stroke-width="1.0"/>
<path d="M1622.6,672 L1626.5,674 L1630.2,676 L1633.7,678 L1637,680 L1640.2,682 L1643.3,684 L1646.2,686 L1649.1,688 L1651.8,690 L1654.5,692 L1657,694 L1659.5,696 L1661.9,698 L1664.2,700 L1666.4,702 L1668.6,704 L1670.7,706 L1672.7,708 L1674.7,710 L1676.6,712 L1678.4,714 L1680.2,716 L1681.9,718 L1683.6,720 L1685.2,722 L1686.8,724 L1688.4,726 L1689.9,728 L1691.3,730 L1692.7,732 L1694.1,734 L1695.5,736 L1696.8,738 L1698.1,740 L1699.4,742 L1700.6,744 L1701.8,746 L1703,748 L1704.2,750 L1705.3,752 L1706.5,754 L1707.6,756 L1708.7,758 L1709.7,760 L1710.8,762 L1711.9,764 L1712.9,766 L1713.9,768 L1714.9,770 L1715.9,772 L1716.9,774 L1717.9,776 L1718.9,778 L1719.8,780 L1720.8,782 L1721.7,784 L1722.7,786 L1723.6,788 L1724.6,790 L1725.5,792 L1726.4,794 L1727.3,796 L1728.2,798 L1729.2,800 L1730.1,802 L1731,804 L1731.9,806 L1732.8,808 L1733.7,810 L1734.6,812 L1735.5,814 L1736.4,816 L1737.3,818 L1738.2,820 L1739.1,822 L1740.1,824 L1741,826 L1741.9,828 L1742.8,830 L1743.7,832 L1744.7,834 L1745.6,836 L1746.5,838 L1747.5,840 L1748.4,842 L1749.4,844 L1750.4,846 L1751.4,848 L1752.3,850 L1753.3,852 L1754.3,854 L1755.4,856 L1756.4,858 L1757.4,860 L1758.5,862 L1759.6,864 L1760.6,866 L1761.7,868 L1762.8,870 L1764,872 L1765.1,874 L1766.3,876 L1767.5,878 L1768.7,880 L1769.9,882 L1771.1,884 L1772.4,886 L1773.7,888 L1775,890 L1776.3,892 L1777.7,894 L1779.1,896 L1780.5,898 L1782,900 L1783.5,902 L1785,904 L1786.6,906 L1788.2,908 L1789.8,910 L1791.6,912 L1793.3,914 L1795.2,916 L1797.1,918 L1799,920 L1801.1,922 L1803.3,924 L1805.5,926 L1807.9,928" fill="none" stroke="#fff" stroke-width="0.7"/>
<path d="M1642,680 L1645.2,682 L1648.3,684 L1651.3,686 L1654.2,688 L1656.9,690 L1659.6,692 L1662.2,694 L1664.7,696 L1667.1,698 L1669.4,700 L1671.7,702 L1673.8,704 L1675.9,706 L1678,708 L1680,710 L1681.9,712 L1683.7,714 L1685.5,716 L1687.2,718 L1688.9,720 L1690.6,722 L1692.1,724 L1693.7,726 L1695.2,728 L1696.6,730 L1698,732 L1699.4,734 L1700.8,736 L1702.1,738 L1703.4,740 L1704.6,742 L1705.9,744 L1707.1,746 L1708.3,748 L1709.4,750 L1710.6,752 L1711.7,754 L1712.8,756 L1713.9,758 L1715,760 L1716,762 L1717.1,764 L1718.1,766 L1719.1,768 L1720.1,770 L1721.1,772 L1722.1,774 L1723.1,776 L1724.1,778 L1725,780 L1726,782 L1726.9,784 L1727.9,786 L1728.8,788 L1729.8,790 L1730.7,792 L1731.6,794 L1732.5,796 L1733.5,798 L1734.4,800 L1735.3,802 L1736.2,804 L1737.1,806 L1738,808 L1739,810 L1739.9,812 L1740.8,814 L1741.7,816 L1742.6,818 L1743.5,820 L1744.4,822 L1745.4,824 L1746.3,826 L1747.2,828 L1748.1,830 L1749.1,832 L1750,834 L1751,836 L1751.9,838 L1752.9,840 L1753.9,842 L1754.8,844 L1755.8,846 L1756.8,848 L1757.8,850 L1758.8,852 L1759.8,854 L1760.9,856 L1761.9,858 L1763,860 L1764,862 L1765.1,864 L1766.2,866 L1767.3,868 L1768.4,870 L1769.6,872 L1770.7,874 L1771.9,876 L1773.1,878 L1774.3,880 L1775.5,882 L1776.8,884 L1778,886 L1779.3,888 L1780.6,890 L1782,892 L1783.3,894 L1784.7,896 L1786.1,898 L1787.6,900 L1789.1,902 L1790.6,904 L1792.1,906 L1793.7,908 L1795.4,910 L1797.1,912 L1798.8,914 L1800.7,916 L1802.5,918 L1804.5,920 L1806.5,922 L1808.7,924" fill="none" stroke="#fff" stroke-width="0.6"/>
<path d="M1599,668 L1603.4,670 L1607.4,672 L1611.3,674 L1615,676 L1618.4,678 L1621.7,680 L1624.8,682 L1627.8,684 L1630.7,686 L1633.5,688 L1636.2,690 L1638.7,692 L1641.2,694 L1643.6,696 L1646,698 L1648.2,700 L1650.4,702 L1652.5,704 L1654.5,706 L1656.5,708 L1658.5,710 L1660.3,712 L1662.2,714 L1663.9,716 L1665.6,718 L1667.3,720 L1668.9,722 L1670.5,724 L1672.1,726 L1673.6,728 L1675,730 L1676.5,732 L1677.9,734 L1679.2,736 L1680.6,738 L1681.9,740 L1683.2,742 L1684.4,744 L1685.7,746 L1686.9,748 L1688.1,750 L1689.3,752 L1690.4,754 L1691.5,756 L1692.6,758 L1693.7,760 L1694.8,762 L1695.9,764 L1696.9,766 L1698,768 L1699,770 L1700,772 L1701,774 L1702,776 L1703,778 L1703.9,780 L1704.9,782 L1705.8,784 L1706.8,786 L1707.7,788 L1708.6,790 L1709.6,792 L1710.5,794 L1711.4,796 L1712.3,798 L1713.2,800 L1714.1,802 L1715,804 L1715.8,806 L1716.7,808 L1717.6,810 L1718.5,812 L1719.4,814 L1720.3,816 L1721.1,818 L1722,820 L1722.9,822 L1723.8,824 L1724.7,826 L1725.6,828 L1726.4,830 L1727.3,832 L1728.2,834 L1729.1,836 L1730,838 L1730.9,840 L1731.9,842 L1732.8,844 L1733.7,846 L1734.7,848 L1735.6,850 L1736.6,852 L1737.5,854 L1738.5,856 L1739.5,858 L1740.5,860 L1741.5,862 L1742.6,864 L1743.6,866 L1744.7,868 L1745.8,870 L1746.9,872 L1748,874 L1749.1,876 L1750.3,878 L1751.4,880 L1752.6,882 L1753.9,884 L1755.1,886 L1756.4,888 L1757.7,890 L1759.1,892 L1760.4,894 L1761.8,896 L1763.3,898 L1764.8,900 L1766.3,902 L1767.8,904 L1769.4,906 L1771.1,908 L1772.8,910 L1774.6,912 L1776.4,914 L1778.3,916 L1780.3,918 L1782.4,920 L1784.5,922 L1786.7,924" fill="none" stroke="#fff" stroke-width="0.7" stroke-dasharray="1.2 2"/>
<path d="M1592.5,664 L1597.5,666 L1602.1,668 L1606.5,670 L1610.5,672 L1614.4,674 L1618.1,676 L1621.5,678 L1624.8,680 L1628,682 L1631,684 L1633.9,686 L1636.7,688 L1639.4,690 L1642,692 L1644.5,694 L1646.9,696 L1649.2,698 L1651.5,700 L1653.7,702 L1655.8,704 L1657.8,706 L1659.8,708 L1661.8,710 L1663.6,712 L1665.5,714 L1667.2,716 L1669,718 L1670.6,720 L1672.3,722 L1673.8,724 L1675.4,726 L1676.9,728 L1678.4,730 L1679.8,732 L1681.2,734 L1682.6,736 L1683.9,738 L1685.2,740 L1686.5,742 L1687.7,744 L1689,746 L1690.2,748 L1691.4,750 L1692.5,752 L1693.7,754 L1694.8,756 L1695.9,758 L1697,760 L1698.1,762 L1699.1,764 L1700.2,766 L1701.2,768 L1702.2,770 L1703.2,772 L1704.2,774 L1705.2,776 L1706.2,778 L1707.2,780 L1708.1,782 L1709.1,784 L1710,786 L1711,788 L1711.9,790 L1712.8,792 L1713.7,794 L1714.6,796 L1715.5,798 L1716.4,800 L1717.3,802 L1718.2,804 L1719.1,806 L1720,808 L1720.9,810 L1721.8,812 L1722.7,814 L1723.6,816 L1724.4,818 L1725.3,820 L1726.2,822 L1727.1,824 L1728,826 L1728.9,828 L1729.8,830 L1730.7,832 L1731.6,834 L1732.5,836 L1733.4,838 L1734.3,840 L1735.2,842 L1736.2,844 L1737.1,846 L1738.1,848 L1739,850 L1740,852 L1741,854 L1742,856 L1743,858 L1744,860 L1745,862 L1746,864 L1747.1,866 L1748.2,868 L1749.2,870 L1750.3,872 L1751.5,874 L1752.6,876 L1753.8,878 L1755,880 L1756.2,882 L1757.4,884 L1758.7,886 L1759.9,888 L1761.2,890 L1762.6,892 L1763.9,894 L1765.4,896 L1766.8,898 L1768.3,900 L1769.8,902 L1771.3,904 L1772.9,906 L1774.6,908 L1776.3,910 L1778.1,912 L1779.9,914 L1781.8,916 L1783.7,918" fill="none" stroke="#fff" stroke-width="0.7" stroke-dasharray="1 2.4"/>
<path d="M1590.3,662 L1595.6,664 L1600.6,666 L1605.2,668 L1609.6,670 L1613.6,672 L1617.5,674 L1621.2,676 L1624.6,678 L1628,680 L1631.1,682 L1634.2,684 L1637.1,686 L1639.9,688 L1642.6,690 L1645.2,692 L1647.7,694 L1650.1,696 L1652.5,698 L1654.7,700 L1656.9,702 L1659.1,704 L1661.1,706 L1663.1,708 L1665.1,710 L1667,712 L1668.8,714 L1670.6,716 L1672.3,718 L1674,720 L1675.6,722 L1677.2,724 L1678.7,726 L1680.2,728 L1681.7,730 L1683.1,732 L1684.5,734 L1685.9,736 L1687.2,738 L1688.5,740 L1689.8,742 L1691,744 L1692.3,746 L1693.5,748 L1694.7,750 L1695.8,752 L1697,754 L1698.1,756 L1699.2,758 L1700.3,760 L1701.3,762 L1702.4,764 L1703.4,766 L1704.5,768 L1705.5,770 L1706.5,772 L1707.5,774 L1708.5,776 L1709.5,778 L1710.4,780 L1711.4,782 L1712.3,784 L1713.3,786 L1714.2,788 L1715.1,790 L1716.1,792 L1717,794 L1717.9,796 L1718.8,798 L1719.7,800 L1720.6,802 L1721.5,804 L1722.4,806 L1723.3,808 L1724.2,810 L1725.1,812 L1726,814 L1726.9,816 L1727.7,818 L1728.6,820 L1729.5,822 L1730.4,824 L1731.3,826 L1732.2,828 L1733.1,830 L1734,832 L1734.9,834 L1735.8,836 L1736.8,838 L1737.7,840 L1738.6,842 L1739.6,844 L1740.5,846 L1741.5,848 L1742.4,850 L1743.4,852 L1744.4,854 L1745.4,856 L1746.4,858 L1747.4,860 L1748.5,862 L1749.5,864 L1750.6,866 L1751.6,868 L1752.7,870 L1753.8,872 L1755,874 L1756.1,876 L1757.3,878 L1758.5,880 L1759.7,882 L1760.9,884 L1762.2,886 L1763.5,888 L1764.8,890 L1766.1,892 L1767.5,894 L1768.9,896 L1770.3,898 L1771.8,900 L1773.3,902 L1774.8,904 L1776.4,906 L1778.1,908 L1779.8,910 L1781.5,912 L1783.3,914 L1785.2,916 L1787.1,918 L1789.2,920 L1791.3,922 L1793.5,924 L1795.8,926" fill="none" stroke="#fff" stroke-width="0.7" stroke-dasharray="1.3 2"/>
<path d="M1592.5,662 L1597.8,664 L1602.8,666 L1607.4,668 L1611.7,670 L1615.8,672 L1619.7,674 L1623.3,676 L1626.8,678 L1630.1,680 L1633.3,682 L1636.4,684 L1639.3,686 L1642.1,688 L1644.8,690 L1647.4,692 L1649.9,694 L1652.4,696 L1654.7,698 L1657,700 L1659.2,702 L1661.4,704 L1663.4,706 L1665.4,708 L1667.4,710 L1669.3,712 L1671.1,714 L1672.9,716 L1674.6,718 L1676.3,720 L1677.9,722 L1679.5,724 L1681,726 L1682.5,728 L1684,730 L1685.4,732 L1686.8,734 L1688.2,736 L1689.5,738 L1690.8,740 L1692.1,742 L1693.3,744 L1694.6,746 L1695.8,748 L1697,750 L1698.1,752 L1699.2,754 L1700.4,756 L1701.5,758 L1702.6,760 L1703.6,762 L1704.7,764 L1705.7,766 L1706.8,768 L1707.8,770 L1708.8,772 L1709.8,774 L1710.7,776 L1711.7,778 L1712.7,780 L1713.6,782 L1714.6,784 L1715.5,786 L1716.5,788 L1717.4,790 L1718.3,792 L1719.3,794 L1720.2,796 L1721.1,798 L1722,800 L1722.9,802 L1723.8,804 L1724.7,806 L1725.6,808 L1726.5,810 L1727.4,812 L1728.3,814 L1729.2,816 L1730.1,818 L1731,820 L1731.8,822 L1732.7,824 L1733.6,826 L1734.5,828 L1735.5,830 L1736.4,832 L1737.3,834 L1738.2,836 L1739.1,838 L1740.1,840 L1741,842 L1741.9,844 L1742.9,846 L1743.9,848 L1744.8,850 L1745.8,852 L1746.8,854 L1747.8,856 L1748.8,858 L1749.8,860 L1750.9,862 L1751.9,864 L1753,866 L1754.1,868 L1755.2,870 L1756.3,872 L1757.4,874 L1758.6,876 L1759.7,878 L1760.9,880 L1762.1,882 L1763.4,884 L1764.6,886 L1765.9,888 L1767.2,890 L1768.6,892 L1769.9,894 L1771.3,896 L1772.8,898 L1774.2,900 L1775.7,902 L1777.3,904 L1778.9,906 L1780.5,908 L1782.2,910 L1783.9,912 L1785.7,914 L1787.6,916 L1789.5,918 L1791.6,920 L1793.7,922 L1795.8,924 L1798.1,926 L1800.6,928" fill="none" stroke="#fff" stroke-width="0.6" stroke-dasharray="1 2.6"/>
<path d="M1617,668 L1621.4,670 L1625.4,672 L1629.3,674 L1633,676 L1636.5,678 L1639.8,680 L1643,682 L1646.1,684 L1649.1,686 L1652,688 L1654.7,690 L1657.4,692 L1659.9,694 L1662.4,696 L1664.8,698 L1667.1,700 L1669.4,702 L1671.5,704 L1673.6,706 L1675.7,708 L1677.6,710 L1679.5,712 L1681.4,714 L1683.2,716 L1684.9,718 L1686.6,720 L1688.2,722 L1689.8,724 L1691.3,726 L1692.8,728 L1694.3,730 L1695.7,732 L1697.1,734 L1698.5,736 L1699.8,738 L1701.1,740 L1702.3,742 L1703.6,744 L1704.8,746 L1706,748 L1707.1,750 L1708.3,752 L1709.4,754 L1710.5,756 L1711.6,758 L1712.7,760 L1713.7,762 L1714.8,764 L1715.8,766 L1716.8,768 L1717.8,770 L1718.8,772 L1719.8,774 L1720.8,776 L1721.8,778 L1722.8,780 L1723.7,782 L1724.7,784 L1725.6,786 L1726.5,788 L1727.5,790 L1728.4,792 L1729.3,794 L1730.3,796 L1731.2,798 L1732.1,800 L1733,802 L1733.9,804 L1734.8,806 L1735.7,808 L1736.7,810 L1737.6,812 L1738.5,814 L1739.4,816 L1740.3,818 L1741.2,820 L1742.1,822 L1743,824 L1744,826 L1744.9,828 L1745.8,830 L1746.7,832 L1747.7,834 L1748.6,836 L1749.6,838 L1750.5,840 L1751.5,842 L1752.5,844 L1753.4,846 L1754.4,848 L1755.4,850 L1756.4,852 L1757.4,854 L1758.5,856 L1759.5,858 L1760.5,860 L1761.6,862 L1762.7,864 L1763.8,866 L1764.9,868 L1766,870 L1767.1,872 L1768.3,874 L1769.4,876 L1770.6,878 L1771.8,880 L1773,882 L1774.3,884 L1775.6,886 L1776.8,888 L1778.2,890 L1779.5,892 L1780.9,894 L1782.2,896 L1783.7,898 L1785.1,900 L1786.6,902 L1788.1,904 L1789.7,906 L1791.3,908 L1793,910 L1794.7,912 L1796.4,914 L1798.3,916 L1800.1,918 L1802.1,920 L1804.2,922 L1806.3,924 L1808.5,926 L1810.9,928" fill="none" stroke="#fff" stroke-width="0.7" stroke-dasharray="1.2 1.8"/>
<path d="M1630.1,672 L1633.9,674 L1637.6,676 L1641.2,678 L1644.5,680 L1647.8,682 L1650.9,684 L1653.9,686 L1656.7,688 L1659.5,690 L1662.2,692 L1664.8,694 L1667.3,696 L1669.7,698 L1672,700 L1674.3,702 L1676.5,704 L1678.6,706 L1680.6,708 L1682.6,710 L1684.5,712 L1686.4,714 L1688.2,716 L1689.9,718 L1691.6,720 L1693.2,722 L1694.8,724 L1696.3,726 L1697.8,728 L1699.3,730 L1700.7,732 L1702.1,734 L1703.4,736 L1704.7,738 L1706,740 L1707.3,742 L1708.5,744 L1709.7,746 L1710.9,748 L1712.1,750 L1713.2,752 L1714.3,754 L1715.4,756 L1716.5,758 L1717.6,760 L1718.6,762 L1719.7,764 L1720.7,766 L1721.7,768 L1722.7,770 L1723.7,772 L1724.7,774 L1725.7,776 L1726.7,778 L1727.6,780 L1728.6,782 L1729.5,784 L1730.5,786 L1731.4,788 L1732.4,790 L1733.3,792 L1734.2,794 L1735.1,796 L1736.1,798 L1737,800 L1737.9,802 L1738.8,804 L1739.7,806 L1740.7,808 L1741.6,810 L1742.5,812 L1743.4,814 L1744.3,816 L1745.2,818 L1746.2,820 L1747.1,822 L1748,824 L1748.9,826 L1749.9,828 L1750.8,830 L1751.8,832 L1752.7,834 L1753.7,836 L1754.6,838 L1755.6,840 L1756.6,842 L1757.5,844 L1758.5,846 L1759.5,848 L1760.5,850 L1761.5,852 L1762.6,854 L1763.6,856 L1764.7,858 L1765.7,860 L1766.8,862 L1767.9,864 L1769,866 L1770.1,868 L1771.2,870 L1772.4,872 L1773.5,874 L1774.7,876 L1775.9,878 L1777.1,880 L1778.3,882 L1779.6,884 L1780.8,886 L1782.1,888 L1783.4,890 L1784.8,892 L1786.1,894 L1787.5,896 L1788.9,898 L1790.4,900 L1791.9,902 L1793.4,904 L1794.9,906 L1796.5,908 L1798.2,910 L1799.9,912 L1801.6,914 L1803.4,916 L1805.3,918 L1807.2,920 L1809.2,922 L1811.4,924" fill="none" stroke="#fff" stroke-width="0.6" stroke-dasharray="1 2.2"/>
<path d="M1692.1,769 L1693.3,769.9 L1694.5,770.8 L1695.7,771.7 L1696.9,772.6 L1698.1,773.5 L1699.3,774.4 L1700.5,775.3 L1701.7,776.2 L1702.9,777.1 L1704.1,778.1 L1705.2,779 L1706.4,779.9 L1707.6,780.9 L1708.7,781.8 L1709.9,782.8 L1711.1,783.7 L1712.2,784.7 L1713.4,785.7 L1714.5,786.6 L1715.6,787.6 L1716.8,788.6 L1717.9,789.6 L1719,790.5 L1720.2,791.5 L1721.3,792.5 L1722.4,793.5 L1723.5,794.5 L1724.6,795.5 L1725.7,796.5 L1726.8,797.6 L1727.9,798.6 L1729,799.6 L1730.1,800.6 L1731.2,801.6 L1732.3,802.7 L1733.4,803.7 L1734.5,804.8 L1735.6,805.8 L1736.6,806.8 L1737.7,807.9 L1738.8,808.9 L1739.8,810 L1740.9,811.1 L1742,812.1 L1743,813.2 L1744.1,814.2 L1745.1,815.3 L1746.2,816.4 L1747.2,817.5 L1748.3,818.5 L1749.3,819.6 L1750.3,820.7 L1751.4,821.8 L1752.4,822.9 L1753.4,824 L1754.5,825.1 L1755.5,826.2 L1756.5,827.3 L1757.5,828.4 L1758.5,829.5 L1759.6,830.6 L1760.6,831.7 L1761.6,832.8 L1762.6,833.9 L1763.6,835 L1764.6,836.1 L1765.6,837.2 L1766.6,838.4 L1767.6,839.5 L1768.6,840.6 L1769.6,841.7 L1770.6,842.9 L1771.6,844 L1772.6,845.1 L1773.5,846.2 L1774.5,847.4 L1775.5,848.5 L1776.5,849.7 L1777.5,850.8 L1778.4,851.9 L1779.4,853.1 L1780.4,854.2 L1781.4,855.3 L1782.3,856.5 L1783.3,857.6 L1784.3,858.8 L1785.2,859.9 L1786.2,861.1 L1787.2,862.2 L1788.1,863.4 L1789.1,864.5 L1790,865.7" fill="none" stroke="#ff0000" stroke-width="1.0"/>
<path d="M816.7,158.8 L759.9,182.2 L757.5,176.3 L745.2,191 L763.9,192.2 L761.8,186.9 L818.7,163.4Z" fill="#000"/>
<path d="M1732.9,133.5 L1676.2,156.5 L1674.1,151.5 L1661.1,165.4 L1680.8,167.6 L1678.1,161.2 L1734.7,138.1Z" fill="#000"/>
<path d="M1544.6,199.2 L1581.5,160.4 L1585.9,164.9 L1591.4,146 L1573.5,152.5 L1577.5,156.6 L1540.6,195.4Z" fill="#000"/>
<path d="M1599.1,258.8 L1628.8,235.4 L1632.5,239.6 L1640.7,222.6 L1621.5,226.5 L1625.5,231.1 L1595.7,254.6Z" fill="#000"/>
<path d="M754.4,690.4 L696.8,713.9 L694.3,708.2 L682,722.6 L701.1,724.2 L698.6,718.5 L756.2,695Z" fill="#000"/>
<path d="M1775.6,706.4 L1717.8,729.6 L1715.5,724.6 L1703.2,738.2 L1722.3,740.2 L1719.7,734.3 L1777.4,711Z" fill="#000"/>
<path d="M1586.4,789.4 L1623.3,751.1 L1627.5,755.1 L1633.6,736.5 L1614.9,743 L1619.4,747.3 L1582.6,785.6Z" fill="#000"/>
<path d="M595.3,242 L631.1,204.4 L628,199.5 L646.6,192.8 L645.3,197.8 L649.5,197 L643.7,215.8 L639.4,211.8 L602.5,250Z" fill="#000"/>
<text x="496" y="41" font-family="'Liberation Sans', Arial, sans-serif" font-size="47.8" textLength="308.4" lengthAdjust="spacingAndGlyphs">nucleotide 503</text>
<text x="1339.5" y="34.9" font-family="'Liberation Sans', Arial, sans-serif" font-size="47.8" textLength="518.8" lengthAdjust="spacingAndGlyphs">nucleotides 725 and 749</text>
<text x="-1.4" y="216" font-family="'Liberation Sans', Arial, sans-serif" font-size="42" textLength="163.5" lengthAdjust="spacingAndGlyphs">Selected</text>
<text x="0.9" y="268.4" font-family="'Liberation Sans', Arial, sans-serif" font-size="42" textLength="159.4" lengthAdjust="spacingAndGlyphs">samples</text>
<text x="-2" y="786.9" font-family="'Liberation Sans', Arial, sans-serif" font-size="42" textLength="185" lengthAdjust="spacingAndGlyphs">Sinhalese</text>
<text x="29.5" y="839" font-family="'Liberation Sans', Arial, sans-serif" font-size="42" textLength="123" lengthAdjust="spacingAndGlyphs">(n=54)</text>
<text x="200.9" y="63.7" font-family="'Liberation Serif', 'Times New Roman', serif" font-size="43.5">A</text>
<text x="1146.2" y="63.9" font-family="'Liberation Serif', 'Times New Roman', serif" font-size="43.5">B</text>
<text x="211.3" y="628.9" font-family="'Liberation Serif', 'Times New Roman', serif" font-size="43.5">C</text>
<text x="1171.3" y="619.8" font-family="'Liberation Serif', 'Times New Roman', serif" font-size="43.5">D</text>
<text x="491.8" y="487.1" font-family="'Liberation Serif', 'Times New Roman', serif" font-size="37" textLength="259" lengthAdjust="spacingAndGlyphs">Temperature (°C)</text>
<text x="1497.4" y="474.9" font-family="'Liberation Serif', 'Times New Roman', serif" font-size="37" textLength="259" lengthAdjust="spacingAndGlyphs">Temperature (°C)</text>
<text x="500.3" y="1015.1" font-family="'Liberation Serif', 'Times New Roman', serif" font-size="37" textLength="259" lengthAdjust="spacingAndGlyphs">Temperature (°C)</text>
<text x="1503.7" y="1023.2" font-family="'Liberation Serif', 'Times New Roman', serif" font-size="37" textLength="259" lengthAdjust="spacingAndGlyphs">Temperature (°C)</text>
<text x="0" y="0" font-family="'Liberation Serif', 'Times New Roman', serif" font-size="37" textLength="285.7" lengthAdjust="spacingAndGlyphs" transform="translate(228.5,408.1) rotate(-90)">Relative signal (%)</text>
<text x="0" y="0" font-family="'Liberation Serif', 'Times New Roman', serif" font-size="37" textLength="285.7" lengthAdjust="spacingAndGlyphs" transform="translate(1175.9,399.1) rotate(-90)">Relative signal (%)</text>
<text x="0" y="0" font-family="'Liberation Serif', 'Times New Roman', serif" font-size="37" textLength="285.7" lengthAdjust="spacingAndGlyphs" transform="translate(240,948) rotate(-90)">Relative signal (%)</text>
<text x="0" y="0" font-family="'Liberation Serif', 'Times New Roman', serif" font-size="37" textLength="285.7" lengthAdjust="spacingAndGlyphs" transform="translate(1193.7,956) rotate(-90)">Relative signal (%)</text>
<text x="819.5" y="169.1" font-family="'Liberation Sans', Arial, sans-serif" font-size="37.4">WT</text>
<text x="464.3" y="280.1" font-family="'Liberation Sans', Arial, sans-serif" font-size="37.4">503C/G</text>
<text x="1736.4" y="138" font-family="'Liberation Sans', Arial, sans-serif" font-size="37.4">WT</text>
<text x="1413" y="222.8" font-family="'Liberation Sans', Arial, sans-serif" font-size="37.4">725T/G</text>
<text x="1455" y="285.1" font-family="'Liberation Sans', Arial, sans-serif" font-size="37.4">749G/C</text>
<text x="760.7" y="703.1" font-family="'Liberation Sans', Arial, sans-serif" font-size="37.4">WT</text>
<text x="1784.3" y="710.8" font-family="'Liberation Sans', Arial, sans-serif" font-size="37.4">WT</text>
<text x="1449" y="805" font-family="'Liberation Sans', Arial, sans-serif" font-size="37.4">725T/G</text>
</svg>
</body></html>
